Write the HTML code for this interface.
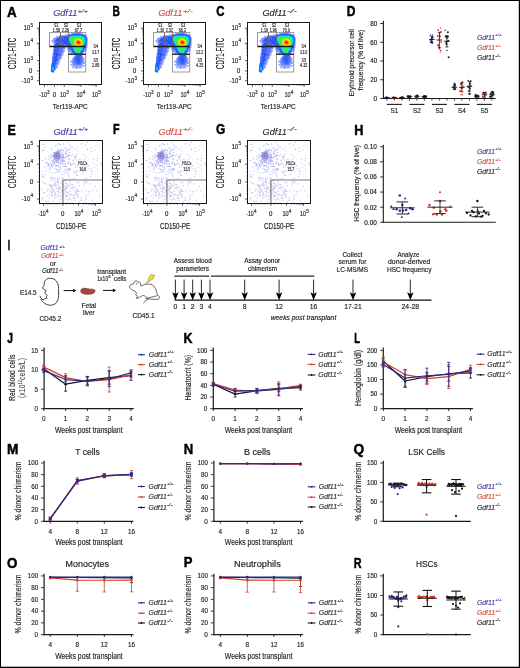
<!DOCTYPE html><html><head><meta charset="utf-8"><style>html,body{margin:0;padding:0;background:#fff;}svg{display:block;font-family:"Liberation Sans",sans-serif;will-change:transform;}</style></head><body><svg width="520" height="668" viewBox="0 0 520 668" font-family="Liberation Sans, sans-serif" fill="#222">
<rect x="0" y="0" width="520" height="668" fill="#fff"/>
<text x="7" y="16.6" font-size="13.9" font-weight="bold" fill="#000" stroke="#000" stroke-width="0.45" textLength="9.7" lengthAdjust="spacingAndGlyphs">A</text>
<text x="112.5" y="16.2" font-size="13.9" font-weight="bold" fill="#000" stroke="#000" stroke-width="0.45" textLength="7.4" lengthAdjust="spacingAndGlyphs">B</text>
<text x="216.2" y="15.9" font-size="13.9" font-weight="bold" fill="#000" stroke="#000" stroke-width="0.45" textLength="8.2" lengthAdjust="spacingAndGlyphs">C</text>
<text x="346.7" y="16.4" font-size="13.9" font-weight="bold" fill="#000" stroke="#000" stroke-width="0.45" textLength="8.7" lengthAdjust="spacingAndGlyphs">D</text>
<text x="7.4" y="135.2" font-size="13.9" font-weight="bold" fill="#000" stroke="#000" stroke-width="0.45" textLength="8.3" lengthAdjust="spacingAndGlyphs">E</text>
<text x="112.9" y="134" font-size="13.9" font-weight="bold" fill="#000" stroke="#000" stroke-width="0.45" textLength="6.6" lengthAdjust="spacingAndGlyphs">F</text>
<text x="215.9" y="134.2" font-size="13.9" font-weight="bold" fill="#000" stroke="#000" stroke-width="0.45" textLength="9.3" lengthAdjust="spacingAndGlyphs">G</text>
<text x="354.2" y="134.6" font-size="13.9" font-weight="bold" fill="#000" stroke="#000" stroke-width="0.45" textLength="9.2" lengthAdjust="spacingAndGlyphs">H</text>
<text x="7.8" y="250" font-size="13.9" font-weight="bold" fill="#000" stroke="#000" stroke-width="0.45" textLength="2.4" lengthAdjust="spacingAndGlyphs">I</text>
<text x="7.3" y="343.1" font-size="13.9" font-weight="bold" fill="#000" stroke="#000" stroke-width="0.45" textLength="5.7" lengthAdjust="spacingAndGlyphs">J</text>
<text x="183.5" y="343.1" font-size="13.9" font-weight="bold" fill="#000" stroke="#000" stroke-width="0.45" textLength="9.0" lengthAdjust="spacingAndGlyphs">K</text>
<text x="354.2" y="343.1" font-size="13.9" font-weight="bold" fill="#000" stroke="#000" stroke-width="0.45" textLength="5.7" lengthAdjust="spacingAndGlyphs">L</text>
<text x="6.9" y="454.4" font-size="13.9" font-weight="bold" fill="#000" stroke="#000" stroke-width="0.45" textLength="11.4" lengthAdjust="spacingAndGlyphs">M</text>
<text x="183.7" y="454.4" font-size="13.9" font-weight="bold" fill="#000" stroke="#000" stroke-width="0.45" textLength="9.5" lengthAdjust="spacingAndGlyphs">N</text>
<text x="353.5" y="453.6" font-size="13.9" font-weight="bold" fill="#000" stroke="#000" stroke-width="0.45" textLength="10.7" lengthAdjust="spacingAndGlyphs">Q</text>
<text x="6.9" y="567.7" font-size="13.9" font-weight="bold" fill="#000" stroke="#000" stroke-width="0.45" textLength="10.4" lengthAdjust="spacingAndGlyphs">O</text>
<text x="183.8" y="567.2" font-size="13.9" font-weight="bold" fill="#000" stroke="#000" stroke-width="0.45" textLength="8.7" lengthAdjust="spacingAndGlyphs">P</text>
<text x="353.8" y="567.7" font-size="13.9" font-weight="bold" fill="#000" stroke="#000" stroke-width="0.45" textLength="7.8" lengthAdjust="spacingAndGlyphs">R</text>
<g id="dA"><path fill="#9ba5ff" d="M76 32h1v1h-1zM78 32h1v1h-1zM69 34h1v1h-1zM63 35h1v1h-1zM58 36h1v1h-1zM53 38h1v1h-1zM87 39h1v1h-1zM66 46h1v1h-1zM65 47h1v1h-1zM70 51h1v1h-1zM83 52h1v1h-1zM74 56h1v1h-1zM72 59h1v1h-1zM57 62h1v1h-1zM83 62h1v1h-1zM51 63h1v1h-1zM84 63h1v1h-1zM71 64h1v1h-1zM73 65h1v1h-1zM76 65h2v1h-2zM82 65h1v1h-1zM77 66h1v1h-1zM75 67h2v1h-2zM55 68h1v1h-1z"/><path fill="#91a5ff" d="M77 32h1v1h-1zM72 33h1v1h-1zM78 33h1v1h-1zM56 37h1v1h-1zM86 44h1v1h-1zM63 48h1v1h-1zM68 49h1v1h-1zM53 50h1v1h-1zM63 52h1v1h-1zM81 54h1v1h-1zM83 58h1v1h-1zM58 61h1v1h-1zM58 63h1v1h-1zM74 65h2v1h-2zM75 66h1v1h-1zM79 67h1v1h-1z"/><path fill="#afb9ff" d="M79 32h1v1h-1zM65 34h1v1h-1zM67 34h1v1h-1zM59 35h3v1h-3zM86 35h1v1h-1zM55 37h1v1h-1zM87 37h1v1h-1zM51 40h1v1h-1zM87 40h1v1h-1zM53 42h1v1h-1zM87 42h1v1h-1zM87 45h1v1h-1zM65 46h1v1h-1zM67 48h1v1h-1zM86 48h1v1h-1zM67 49h1v1h-1zM85 49h2v1h-2zM64 50h1v1h-1zM85 50h1v1h-1zM64 51h1v1h-1zM85 51h1v1h-1zM69 52h2v1h-2zM52 54h1v1h-1zM72 54h1v1h-1zM61 57h1v1h-1zM83 57h1v1h-1zM61 58h1v1h-1zM60 59h1v1h-1zM59 60h1v1h-1zM72 60h1v1h-1zM59 62h1v1h-1zM70 62h2v1h-2zM84 62h1v1h-1zM72 64h1v1h-1zM71 65h1v1h-1zM84 65h1v1h-1zM57 66h1v1h-1zM73 66h1v1h-1zM79 66h1v1h-1zM81 66h1v1h-1zM83 66h1v1h-1zM57 67h1v1h-1zM72 67h3v1h-3zM82 67h1v1h-1zM73 68h1v1h-1zM75 68h1v1h-1zM77 68h1v1h-1zM79 68h1v1h-1zM53 72h1v1h-1z"/><path fill="#b9c3ff" d="M80 32h1v1h-1zM66 34h1v1h-1zM68 34h1v1h-1zM87 38h1v1h-1zM52 41h1v1h-1zM87 43h1v1h-1zM53 45h1v1h-1zM87 47h1v1h-1zM68 50h1v1h-1zM86 50h1v1h-1zM52 55h1v1h-1zM74 55h1v1h-1zM84 58h1v1h-1zM84 59h1v1h-1zM71 60h1v1h-1zM70 61h1v1h-1zM84 61h2v1h-2zM70 64h1v1h-1zM85 64h1v1h-1zM84 66h1v1h-1zM56 68h1v1h-1zM80 68h1v1h-1zM50 70h1v1h-1z"/><path fill="#a5afff" d="M71 33h1v1h-1zM81 33h1v1h-1zM84 34h1v1h-1zM56 36h1v1h-1zM53 39h1v1h-1zM52 40h1v1h-1zM87 41h1v1h-1zM52 42h1v1h-1zM53 43h2v1h-2zM87 44h1v1h-1zM53 47h1v1h-1zM67 47h1v1h-1zM86 47h1v1h-1zM53 48h1v1h-1zM64 48h2v1h-2zM64 49h1v1h-1zM74 54h1v1h-1zM62 55h1v1h-1zM82 55h1v1h-1zM52 56h1v1h-1zM61 56h1v1h-1zM60 57h1v1h-1zM73 58h1v1h-1zM71 61h1v1h-1zM83 61h1v1h-1zM82 63h1v1h-1zM58 64h1v1h-1zM72 66h1v1h-1zM74 66h1v1h-1zM78 66h1v1h-1zM76 68h1v1h-1z"/><path fill="#7d91ff" d="M73 33h1v1h-1zM80 33h1v1h-1zM70 34h1v1h-1zM85 35h1v1h-1zM58 37h1v1h-1zM54 38h1v1h-1zM55 39h1v1h-1zM54 41h1v1h-1zM63 46h2v1h-2zM85 48h1v1h-1zM60 50h1v1h-1zM62 50h1v1h-1zM63 51h1v1h-1zM61 52h1v1h-1zM71 52h1v1h-1zM61 54h1v1h-1zM75 54h1v1h-1zM82 57h1v1h-1zM60 58h1v1h-1zM59 59h1v1h-1zM73 59h1v1h-1zM82 60h1v1h-1zM72 61h1v1h-1zM74 61h1v1h-1zM51 64h1v1h-1zM78 64h1v1h-1zM81 64h1v1h-1zM81 65h1v1h-1zM55 66h1v1h-1zM76 66h1v1h-1zM54 70h1v1h-1z"/><path fill="#879bff" d="M74 33h1v1h-1zM86 36h1v1h-1zM53 41h1v1h-1zM85 47h1v1h-1zM63 49h1v1h-1zM63 50h1v1h-1zM69 50h1v1h-1zM53 51h1v1h-1zM69 51h1v1h-1zM84 51h1v1h-1zM62 52h1v1h-1zM62 53h1v1h-1zM72 53h2v1h-2zM73 54h1v1h-1zM61 55h1v1h-1zM58 59h1v1h-1zM58 62h1v1h-1zM72 63h2v1h-2zM83 63h1v1h-1zM79 65h2v1h-2zM80 66h1v1h-1zM55 69h1v1h-1zM52 72h1v1h-1z"/><path fill="#5f7dff" d="M75 33h2v1h-2zM68 35h1v1h-1zM59 36h1v1h-1zM54 42h1v1h-1zM59 51h1v1h-1zM61 51h1v1h-1zM53 52h1v1h-1zM61 53h1v1h-1zM81 55h1v1h-1zM57 57h1v1h-1zM57 58h1v1h-1zM74 59h1v1h-1zM73 60h1v1h-1zM52 61h1v1h-1zM82 61h1v1h-1zM82 62h1v1h-1zM74 64h1v1h-1z"/><path fill="#7387ff" d="M77 33h1v1h-1zM60 36h1v1h-1zM86 37h1v1h-1zM56 38h1v1h-1zM54 39h1v1h-1zM55 43h1v1h-1zM62 45h1v1h-1zM64 45h1v1h-1zM86 45h1v1h-1zM67 46h1v1h-1zM68 47h1v1h-1zM60 49h1v1h-1zM83 50h1v1h-1zM71 51h1v1h-1zM58 52h1v1h-1zM60 54h1v1h-1zM58 56h1v1h-1zM52 57h1v1h-1zM81 58h2v1h-2zM81 61h1v1h-1zM56 62h1v1h-1zM75 63h1v1h-1zM73 64h1v1h-1zM78 65h1v1h-1zM56 66h1v1h-1zM55 67h1v1h-1z"/><path fill="#5f73ff" d="M79 33h1v1h-1zM56 42h2v1h-2zM60 48h2v1h-2zM61 49h1v1h-1zM71 50h1v1h-1zM60 51h1v1h-1zM59 52h1v1h-1zM81 53h1v1h-1zM60 56h1v1h-1zM52 59h1v1h-1zM80 59h1v1h-1zM82 59h1v1h-1zM73 62h1v1h-1zM79 64h1v1h-1zM55 65h1v1h-1z"/><path fill="#9bafff" d="M82 33h1v1h-1zM64 35h1v1h-1zM53 40h1v1h-1zM62 54h1v1h-1zM83 59h1v1h-1zM59 61h1v1h-1zM72 62h1v1h-1zM57 64h1v1h-1zM82 64h1v1h-1zM57 65h1v1h-1zM83 65h1v1h-1zM78 67h1v1h-1z"/><path fill="#5573ff" d="M71 34h1v1h-1zM80 34h1v1h-1zM63 37h1v1h-1zM59 38h2v1h-2zM58 41h1v1h-1zM60 43h1v1h-1zM86 43h1v1h-1zM61 44h1v1h-1zM65 44h1v1h-1zM60 45h1v1h-1zM67 45h1v1h-1zM63 47h1v1h-1zM69 47h1v1h-1zM84 48h1v1h-1zM59 49h1v1h-1zM72 52h1v1h-1zM82 52h1v1h-1zM53 53h1v1h-1zM53 55h1v1h-1zM60 55h1v1h-1zM53 56h1v1h-1zM80 56h1v1h-1zM59 57h1v1h-1zM73 61h1v1h-1zM75 61h1v1h-1zM77 63h1v1h-1z"/><path fill="#375fff" d="M72 34h2v1h-2zM69 35h1v1h-1zM83 35h1v1h-1zM68 36h1v1h-1zM86 38h1v1h-1zM56 39h1v1h-1zM58 40h1v1h-1zM64 40h1v1h-1zM86 40h1v1h-1zM56 41h1v1h-1zM59 42h1v1h-1zM63 42h1v1h-1zM62 44h1v1h-1zM55 45h1v1h-1zM58 45h1v1h-1zM57 46h1v1h-1zM85 46h1v1h-1zM62 47h1v1h-1zM70 47h1v1h-1zM58 49h1v1h-1zM70 49h1v1h-1zM58 50h1v1h-1zM61 50h1v1h-1zM72 51h1v1h-1zM54 52h1v1h-1zM56 52h1v1h-1zM60 52h1v1h-1zM81 52h1v1h-1zM55 53h1v1h-1zM59 53h1v1h-1zM74 53h1v1h-1zM54 55h1v1h-1zM57 55h1v1h-1zM80 55h1v1h-1zM75 56h1v1h-1zM54 59h1v1h-1zM76 59h1v1h-1zM56 60h1v1h-1zM81 60h1v1h-1zM53 62h1v1h-1zM55 62h1v1h-1zM75 62h1v1h-1zM80 62h1v1h-1zM78 63h1v1h-1zM54 64h1v1h-1zM51 71h1v1h-1z"/><path fill="#415fff" d="M74 34h1v1h-1zM77 34h1v1h-1zM81 34h2v1h-2zM84 35h1v1h-1zM62 36h1v1h-1zM64 36h3v1h-3zM60 37h1v1h-1zM64 37h1v1h-1zM58 38h1v1h-1zM61 39h1v1h-1zM63 39h1v1h-1zM86 39h1v1h-1zM55 40h2v1h-2zM62 42h1v1h-1zM67 42h1v1h-1zM86 42h1v1h-1zM68 43h1v1h-1zM85 43h1v1h-1zM59 44h2v1h-2zM57 45h1v1h-1zM59 45h1v1h-1zM61 45h1v1h-1zM55 46h1v1h-1zM60 46h1v1h-1zM62 46h1v1h-1zM58 47h1v1h-1zM55 48h1v1h-1zM57 48h2v1h-2zM62 48h1v1h-1zM56 49h2v1h-2zM54 50h1v1h-1zM55 51h2v1h-2zM57 52h1v1h-1zM58 54h1v1h-1zM58 55h2v1h-2zM76 55h1v1h-1zM54 56h1v1h-1zM56 56h2v1h-2zM53 57h1v1h-1zM75 57h2v1h-2zM74 58h2v1h-2zM57 59h1v1h-1zM77 59h1v1h-1zM81 59h1v1h-1zM52 60h1v1h-1zM80 60h1v1h-1zM56 61h1v1h-1zM76 61h3v1h-3zM55 63h1v1h-1zM54 65h1v1h-1zM51 66h1v1h-1z"/><path fill="#2355ff" d="M75 34h1v1h-1zM78 34h1v1h-1zM57 39h1v1h-1zM66 39h1v1h-1zM57 40h1v1h-1zM67 40h1v1h-1zM57 41h1v1h-1zM65 41h1v1h-1zM58 42h1v1h-1zM64 42h1v1h-1zM58 43h1v1h-1zM66 43h2v1h-2zM57 44h1v1h-1zM66 44h1v1h-1zM68 44h1v1h-1zM69 45h1v1h-1zM59 46h1v1h-1zM54 51h1v1h-1zM82 51h1v1h-1zM57 53h1v1h-1zM56 57h1v1h-1zM55 58h2v1h-2zM56 59h1v1h-1zM55 60h1v1h-1zM79 61h1v1h-1zM53 63h1v1h-1zM53 65h1v1h-1zM54 68h1v1h-1z"/><path fill="#235fff" d="M76 34h1v1h-1zM57 43h1v1h-1zM84 47h1v1h-1zM79 58h1v1h-1zM52 64h1v1h-1z"/><path fill="#1955ff" d="M79 34h1v1h-1zM67 38h1v1h-1zM58 39h3v1h-3zM67 39h1v1h-1zM62 40h2v1h-2zM66 40h1v1h-1zM62 41h1v1h-1zM66 42h1v1h-1zM68 42h1v1h-1zM56 43h1v1h-1zM65 43h1v1h-1zM56 44h1v1h-1zM67 44h1v1h-1zM85 44h1v1h-1zM55 47h1v1h-1zM83 48h1v1h-1zM55 50h1v1h-1zM72 50h1v1h-1zM54 53h1v1h-1zM56 53h1v1h-1zM80 53h1v1h-1zM56 54h2v1h-2zM79 56h1v1h-1zM54 57h2v1h-2zM80 57h1v1h-1zM77 58h1v1h-1zM77 60h1v1h-1zM54 67h1v1h-1z"/><path fill="#7391ff" d="M83 34h1v1h-1zM83 60h1v1h-1z"/><path fill="#a5b9ff" d="M62 35h1v1h-1zM72 58h1v1h-1zM72 65h1v1h-1zM80 67h2v1h-2z"/><path fill="#919bff" d="M65 35h2v1h-2zM57 36h1v1h-1zM57 37h1v1h-1zM68 48h1v1h-1zM84 50h1v1h-1zM71 53h1v1h-1zM59 56h1v1h-1zM82 56h1v1h-1zM73 57h1v1h-1zM56 65h1v1h-1zM56 67h1v1h-1zM77 67h1v1h-1z"/><path fill="#697dff" d="M67 35h1v1h-1zM61 36h1v1h-1zM54 40h1v1h-1zM85 45h1v1h-1zM54 46h1v1h-1zM59 47h3v1h-3zM54 48h1v1h-1zM62 49h1v1h-1zM84 49h1v1h-1zM59 50h1v1h-1zM70 50h1v1h-1zM60 53h1v1h-1zM74 57h1v1h-1zM58 60h1v1h-1zM57 61h1v1h-1zM57 63h1v1h-1zM74 63h1v1h-1zM56 64h1v1h-1zM75 64h1v1h-1zM80 64h1v1h-1zM51 65h1v1h-1z"/><path fill="#2d5fff" d="M70 35h1v1h-1zM59 37h1v1h-1zM62 37h1v1h-1zM57 38h1v1h-1zM62 38h1v1h-1zM64 38h3v1h-3zM59 40h1v1h-1zM61 40h1v1h-1zM59 41h1v1h-1zM61 41h1v1h-1zM61 42h1v1h-1zM59 43h1v1h-1zM62 43h1v1h-1zM64 43h1v1h-1zM55 44h1v1h-1zM63 44h1v1h-1zM69 44h1v1h-1zM56 45h1v1h-1zM68 45h1v1h-1zM56 46h1v1h-1zM58 46h1v1h-1zM69 46h1v1h-1zM54 47h1v1h-1zM57 47h1v1h-1zM54 49h2v1h-2zM71 49h1v1h-1zM56 50h1v1h-1zM57 51h1v1h-1zM73 52h1v1h-1zM75 53h1v1h-1zM53 54h1v1h-1zM55 54h1v1h-1zM76 54h1v1h-1zM56 55h1v1h-1zM55 56h1v1h-1zM53 58h1v1h-1zM78 59h1v1h-1zM78 60h1v1h-1zM52 62h1v1h-1zM54 62h1v1h-1zM79 62h1v1h-1zM52 63h1v1h-1z"/><path fill="#0f69ff" d="M71 35h1v1h-1zM82 35h1v1h-1zM84 36h1v1h-1zM65 40h1v1h-1zM68 41h1v1h-1zM69 43h1v1h-1zM78 55h1v1h-1zM53 60h1v1h-1zM53 61h1v1h-1z"/><path fill="#0f7dff" d="M72 35h1v1h-1zM81 35h1v1h-1zM68 37h1v1h-1zM85 38h1v1h-1zM85 41h1v1h-1zM70 44h1v1h-1zM84 46h1v1h-1zM83 47h1v1h-1zM82 49h1v1h-1zM73 50h1v1h-1zM82 50h1v1h-1zM80 52h1v1h-1zM52 65h1v1h-1zM51 69h1v1h-1z"/><path fill="#0591ff" d="M73 35h1v1h-1zM80 35h1v1h-1zM68 38h1v1h-1zM68 39h1v1h-1zM85 39h1v1h-1zM84 44h1v1h-1zM78 54h1v1h-1z"/><path fill="#059bff" d="M74 35h1v1h-1zM79 35h1v1h-1zM74 51h1v1h-1zM75 52h1v1h-1zM79 53h1v1h-1zM53 70h1v1h-1z"/><path fill="#05a5ff" d="M75 35h4v1h-4zM83 36h1v1h-1zM69 41h1v1h-1zM70 43h1v1h-1zM71 45h1v1h-1zM83 46h1v1h-1zM72 47h1v1h-1zM82 48h1v1h-1zM73 49h1v1h-1zM81 50h1v1h-1zM77 53h1v1h-1z"/><path fill="#4b69ff" d="M63 36h1v1h-1zM67 36h1v1h-1zM85 36h1v1h-1zM61 37h1v1h-1zM63 38h1v1h-1zM55 41h1v1h-1zM63 41h1v1h-1zM55 42h1v1h-1zM60 42h1v1h-1zM61 43h1v1h-1zM63 43h1v1h-1zM64 44h1v1h-1zM66 45h1v1h-1zM56 47h1v1h-1zM56 48h1v1h-1zM59 48h1v1h-1zM70 48h1v1h-1zM83 49h1v1h-1zM57 50h1v1h-1zM58 51h1v1h-1zM58 53h1v1h-1zM54 54h1v1h-1zM59 54h1v1h-1zM80 54h1v1h-1zM55 55h1v1h-1zM81 56h1v1h-1zM81 57h1v1h-1zM58 58h1v1h-1zM80 58h1v1h-1zM53 59h1v1h-1zM75 59h1v1h-1zM54 60h1v1h-1zM57 60h1v1h-1zM74 60h2v1h-2zM74 62h1v1h-1zM77 62h2v1h-2zM56 63h1v1h-1zM76 63h1v1h-1zM80 63h1v1h-1zM55 64h1v1h-1z"/><path fill="#0587ff" d="M69 36h1v1h-1zM85 40h1v1h-1z"/><path fill="#05c3ff" d="M70 36h1v1h-1z"/><path fill="#05e1f5" d="M71 36h1v1h-1zM81 36h1v1h-1zM83 37h1v1h-1zM69 38h1v1h-1zM69 39h1v1h-1zM84 41h1v1h-1zM75 51h1v1h-1zM77 52h1v1h-1z"/><path fill="#05ebe1" d="M72 36h2v1h-2zM70 41h1v1h-1zM71 43h1v1h-1zM83 44h1v1h-1zM74 49h1v1h-1z"/><path fill="#0febcd" d="M74 36h1v1h-1zM82 46h1v1h-1zM81 48h1v1h-1z"/><path fill="#0febb9" d="M75 36h1v1h-1zM79 51h1v1h-1z"/><path fill="#19ebaf" d="M76 36h3v1h-3zM70 37h1v1h-1zM78 52h1v1h-1z"/><path fill="#0febc3" d="M79 36h1v1h-1z"/><path fill="#05ebd7" d="M80 36h1v1h-1zM72 45h1v1h-1zM73 47h1v1h-1z"/><path fill="#05cdf5" d="M82 36h1v1h-1zM69 40h1v1h-1zM70 42h1v1h-1zM84 42h1v1h-1zM71 44h1v1h-1zM83 45h1v1h-1zM72 46h1v1h-1zM82 47h1v1h-1zM73 48h1v1h-1zM78 53h1v1h-1z"/><path fill="#195fff" d="M65 37h3v1h-3zM85 37h1v1h-1zM61 38h1v1h-1zM64 39h2v1h-2zM64 41h1v1h-1zM66 41h1v1h-1zM65 42h1v1h-1zM85 42h1v1h-1zM58 44h1v1h-1zM70 45h1v1h-1zM72 49h1v1h-1zM73 51h1v1h-1zM55 52h1v1h-1zM74 52h1v1h-1zM77 55h1v1h-1zM79 55h1v1h-1zM77 56h2v1h-2zM77 57h2v1h-2zM54 58h1v1h-1zM78 58h1v1h-1zM55 59h1v1h-1zM76 60h1v1h-1zM79 60h1v1h-1zM55 61h1v1h-1zM54 63h1v1h-1zM51 67h1v1h-1zM51 70h1v1h-1zM52 71h2v1h-2z"/><path fill="#05c3f5" d="M69 37h1v1h-1zM74 50h1v1h-1zM80 51h1v1h-1zM76 52h1v1h-1z"/><path fill="#2deb69" d="M71 37h1v1h-1zM71 41h1v1h-1zM75 49h1v1h-1zM79 50h1v1h-1z"/><path fill="#37eb55" d="M72 37h3v1h-3zM80 37h1v1h-1zM71 40h1v1h-1zM83 41h1v1h-1zM73 45h1v1h-1z"/><path fill="#37eb4b" d="M75 37h1v1h-1zM71 38h1v1h-1zM75 48h1v1h-1zM79 49h1v1h-1zM77 50h2v1h-2z"/><path fill="#41eb41" d="M76 37h1v1h-1zM72 42h1v1h-1zM81 46h1v1h-1zM78 49h1v1h-1z"/><path fill="#41eb37" d="M77 37h2v1h-2zM72 38h2v1h-2zM72 39h1v1h-1zM72 41h1v1h-1zM74 46h1v1h-1zM76 48h1v1h-1zM79 48h1v1h-1zM77 49h1v1h-1z"/><path fill="#37eb41" d="M79 37h1v1h-1zM71 39h1v1h-1zM76 49h1v1h-1z"/><path fill="#2deb73" d="M81 37h1v1h-1zM70 39h1v1h-1zM83 39h1v1h-1zM82 45h1v1h-1zM78 51h1v1h-1z"/><path fill="#19eba5" d="M82 37h1v1h-1zM83 38h1v1h-1zM70 40h1v1h-1zM75 50h1v1h-1z"/><path fill="#05afff" d="M84 37h1v1h-1zM84 43h1v1h-1zM53 67h1v1h-1zM52 70h1v1h-1z"/><path fill="#8791ff" d="M55 38h1v1h-1zM54 45h1v1h-1zM68 46h1v1h-1zM86 46h1v1h-1zM53 49h1v1h-1zM69 49h1v1h-1zM82 53h1v1h-1zM75 55h1v1h-1zM52 58h1v1h-1zM59 58h1v1h-1zM81 63h1v1h-1z"/><path fill="#2deb7d" d="M70 38h1v1h-1zM77 51h1v1h-1z"/><path fill="#4beb37" d="M74 38h1v1h-1zM81 38h1v1h-1zM82 39h1v1h-1zM72 40h1v1h-1zM73 44h1v1h-1zM75 47h1v1h-1zM80 47h1v1h-1zM77 48h2v1h-2z"/><path fill="#5feb2d" d="M75 38h1v1h-1zM73 40h1v1h-1zM73 43h1v1h-1zM77 47h1v1h-1zM79 47h1v1h-1z"/><path fill="#73eb2d" d="M76 38h1v1h-1zM80 46h1v1h-1z"/><path fill="#87eb23" d="M77 38h1v1h-1zM79 38h1v1h-1zM74 40h1v1h-1zM82 41h1v1h-1zM74 44h1v1h-1zM76 46h1v1h-1z"/><path fill="#91eb23" d="M78 38h1v1h-1zM75 39h1v1h-1zM82 42h1v1h-1z"/><path fill="#69eb2d" d="M80 38h1v1h-1zM74 39h1v1h-1zM82 40h1v1h-1zM73 41h1v1h-1zM73 42h1v1h-1zM74 45h1v1h-1zM75 46h1v1h-1zM78 47h1v1h-1z"/><path fill="#2deb5f" d="M82 38h1v1h-1zM83 42h1v1h-1zM74 47h1v1h-1z"/><path fill="#05d7f5" d="M84 38h1v1h-1zM81 49h1v1h-1zM79 52h1v1h-1z"/><path fill="#1969ff" d="M62 39h1v1h-1zM60 41h1v1h-1zM67 41h1v1h-1zM71 47h1v1h-1zM76 53h1v1h-1zM54 61h1v1h-1zM53 64h1v1h-1z"/><path fill="#55eb37" d="M73 39h1v1h-1zM82 44h1v1h-1zM76 47h1v1h-1z"/><path fill="#c3eb0f" d="M76 39h1v1h-1z"/><path fill="#e1eb05" d="M77 39h1v1h-1zM79 39h1v1h-1zM79 45h1v1h-1z"/><path fill="#f5eb05" d="M78 39h1v1h-1zM75 41h1v1h-1zM81 42h1v1h-1zM75 43h1v1h-1zM78 45h1v1h-1z"/><path fill="#b9eb19" d="M80 39h1v1h-1zM74 42h1v1h-1z"/><path fill="#7deb23" d="M81 39h1v1h-1zM82 43h1v1h-1zM81 45h1v1h-1z"/><path fill="#05ebeb" d="M84 39h1v1h-1zM84 40h1v1h-1z"/><path fill="#4169ff" d="M60 40h1v1h-1zM63 45h1v1h-1zM65 45h1v1h-1zM61 46h1v1h-1zM76 62h1v1h-1zM79 63h1v1h-1zM54 69h1v1h-1z"/><path fill="#0f87ff" d="M68 40h1v1h-1zM69 42h1v1h-1zM71 46h1v1h-1zM72 48h1v1h-1zM52 66h1v1h-1z"/><path fill="#cdeb0f" d="M75 40h1v1h-1zM75 44h1v1h-1zM76 45h1v1h-1z"/><path fill="#f5d705" d="M76 40h1v1h-1zM75 42h1v1h-1z"/><path fill="#ff9b05" d="M77 40h1v1h-1zM80 41h1v1h-1zM78 44h1v1h-1z"/><path fill="#ff7d05" d="M78 40h1v1h-1zM80 42h1v1h-1z"/><path fill="#ffa505" d="M79 40h1v1h-1z"/><path fill="#f5e105" d="M80 40h1v1h-1zM76 44h1v1h-1zM80 44h1v1h-1z"/><path fill="#b9eb0f" d="M81 40h1v1h-1zM81 44h1v1h-1zM80 45h1v1h-1z"/><path fill="#37eb5f" d="M83 40h1v1h-1zM72 43h1v1h-1zM80 48h1v1h-1zM76 50h1v1h-1z"/><path fill="#a5eb19" d="M74 41h1v1h-1zM74 43h1v1h-1zM78 46h1v1h-1z"/><path fill="#ff8705" d="M76 41h1v1h-1z"/><path fill="#f53705" d="M77 41h2v1h-2zM77 42h1v1h-1zM79 42h1v1h-1zM78 43h1v1h-1z"/><path fill="#f54105" d="M79 41h1v1h-1zM77 43h1v1h-1z"/><path fill="#ebf505" d="M81 41h1v1h-1zM77 45h1v1h-1z"/><path fill="#6987ff" d="M86 41h1v1h-1zM64 47h1v1h-1zM62 51h1v1h-1zM80 61h1v1h-1zM81 62h1v1h-1zM76 64h1v1h-1z"/><path fill="#19eb9b" d="M71 42h1v1h-1zM76 51h1v1h-1z"/><path fill="#ff6905" d="M76 42h1v1h-1z"/><path fill="#f52d05" d="M78 42h1v1h-1z"/><path fill="#ff9105" d="M76 43h1v1h-1z"/><path fill="#f54b05" d="M79 43h1v1h-1z"/><path fill="#f5af05" d="M80 43h1v1h-1zM77 44h1v1h-1z"/><path fill="#ebeb05" d="M81 43h1v1h-1z"/><path fill="#23eb91" d="M83 43h1v1h-1zM72 44h1v1h-1zM73 46h1v1h-1z"/><path fill="#5569ff" d="M54 44h1v1h-1zM69 48h1v1h-1zM83 51h1v1h-1zM76 56h1v1h-1zM58 57h1v1h-1zM77 64h1v1h-1z"/><path fill="#f5b905" d="M79 44h1v1h-1z"/><path fill="#9beb19" d="M75 45h1v1h-1zM77 46h1v1h-1z"/><path fill="#0f73ff" d="M84 45h1v1h-1zM70 46h1v1h-1zM71 48h1v1h-1zM81 51h1v1h-1zM77 54h1v1h-1zM79 54h1v1h-1zM79 57h1v1h-1zM76 58h1v1h-1zM79 59h1v1h-1zM53 66h2v1h-2zM51 68h1v1h-1z"/><path fill="#9beb23" d="M79 46h1v1h-1z"/><path fill="#23eb7d" d="M81 47h1v1h-1z"/><path fill="#23eb9b" d="M74 48h1v1h-1z"/><path fill="#23eb87" d="M80 49h1v1h-1z"/><path fill="#0febd7" d="M80 50h1v1h-1z"/><path fill="#b9b9ff" d="M63 54h1v1h-1z"/><path fill="#05b9ff" d="M52 67h1v1h-1zM52 68h2v1h-2zM52 69h2v1h-2z"/></g>
<use href="#dA" x="104"/>
<use href="#dA" x="208"/>
<text x="53.2" y="16.4" font-size="9" fill="#4642a0" stroke="#4642a0" stroke-width="0.15" font-style="italic" textLength="24.2" lengthAdjust="spacingAndGlyphs">Gdf11</text>
<text x="77.7" y="12.7" font-size="6" fill="#4642a0" stroke="#4642a0" stroke-width="0.15" font-style="italic" textLength="10" lengthAdjust="spacingAndGlyphs">+/+</text>
<line x1="38.2" y1="38.72" x2="39.5" y2="38.72" stroke="#555" stroke-width="0.6"/>
<line x1="38.2" y1="36.05" x2="39.5" y2="36.05" stroke="#555" stroke-width="0.6"/>
<line x1="38.2" y1="34.15" x2="39.5" y2="34.15" stroke="#555" stroke-width="0.6"/>
<line x1="38.2" y1="32.68" x2="39.5" y2="32.68" stroke="#555" stroke-width="0.6"/>
<line x1="38.2" y1="31.47" x2="39.5" y2="31.47" stroke="#555" stroke-width="0.6"/>
<line x1="38.2" y1="30.45" x2="39.5" y2="30.45" stroke="#555" stroke-width="0.6"/>
<line x1="38.2" y1="29.57" x2="39.5" y2="29.57" stroke="#555" stroke-width="0.6"/>
<line x1="38.2" y1="28.8" x2="39.5" y2="28.8" stroke="#555" stroke-width="0.6"/>
<line x1="38.2" y1="55.46" x2="39.5" y2="55.46" stroke="#555" stroke-width="0.6"/>
<line x1="38.2" y1="52.4" x2="39.5" y2="52.4" stroke="#555" stroke-width="0.6"/>
<line x1="38.2" y1="50.22" x2="39.5" y2="50.22" stroke="#555" stroke-width="0.6"/>
<line x1="38.2" y1="48.54" x2="39.5" y2="48.54" stroke="#555" stroke-width="0.6"/>
<line x1="38.2" y1="47.16" x2="39.5" y2="47.16" stroke="#555" stroke-width="0.6"/>
<line x1="38.2" y1="46" x2="39.5" y2="46" stroke="#555" stroke-width="0.6"/>
<line x1="38.2" y1="44.99" x2="39.5" y2="44.99" stroke="#555" stroke-width="0.6"/>
<line x1="38.2" y1="44.1" x2="39.5" y2="44.1" stroke="#555" stroke-width="0.6"/>
<line x1="36.9" y1="28.1" x2="39.5" y2="28.1" stroke="#333" stroke-width="0.8"/>
<line x1="36.9" y1="43.3" x2="39.5" y2="43.3" stroke="#333" stroke-width="0.8"/>
<line x1="36.9" y1="60.7" x2="39.5" y2="60.7" stroke="#333" stroke-width="0.8"/>
<line x1="36.9" y1="70.9" x2="39.5" y2="70.9" stroke="#333" stroke-width="0.8"/>
<line x1="36.9" y1="80.8" x2="39.5" y2="80.8" stroke="#333" stroke-width="0.8"/>
<line x1="38.2" y1="64" x2="39.5" y2="64" stroke="#555" stroke-width="0.6"/>
<line x1="38.2" y1="67.5" x2="39.5" y2="67.5" stroke="#555" stroke-width="0.6"/>
<line x1="38.2" y1="74.2" x2="39.5" y2="74.2" stroke="#555" stroke-width="0.6"/>
<line x1="38.2" y1="77.5" x2="39.5" y2="77.5" stroke="#555" stroke-width="0.6"/>
<line x1="44.4" y1="84.5" x2="44.4" y2="86.9" stroke="#333" stroke-width="0.8"/>
<line x1="54.5" y1="84.5" x2="54.5" y2="86.9" stroke="#333" stroke-width="0.8"/>
<line x1="64.2" y1="84.5" x2="64.2" y2="86.9" stroke="#333" stroke-width="0.8"/>
<line x1="81" y1="84.5" x2="81" y2="86.9" stroke="#333" stroke-width="0.8"/>
<line x1="96.2" y1="84.5" x2="96.2" y2="86.9" stroke="#333" stroke-width="0.8"/>
<line x1="69.26" y1="84.5" x2="69.26" y2="85.8" stroke="#555" stroke-width="0.6"/>
<line x1="72.22" y1="84.5" x2="72.22" y2="85.8" stroke="#555" stroke-width="0.6"/>
<line x1="74.31" y1="84.5" x2="74.31" y2="85.8" stroke="#555" stroke-width="0.6"/>
<line x1="75.94" y1="84.5" x2="75.94" y2="85.8" stroke="#555" stroke-width="0.6"/>
<line x1="77.27" y1="84.5" x2="77.27" y2="85.8" stroke="#555" stroke-width="0.6"/>
<line x1="78.4" y1="84.5" x2="78.4" y2="85.8" stroke="#555" stroke-width="0.6"/>
<line x1="79.37" y1="84.5" x2="79.37" y2="85.8" stroke="#555" stroke-width="0.6"/>
<line x1="80.23" y1="84.5" x2="80.23" y2="85.8" stroke="#555" stroke-width="0.6"/>
<line x1="85.58" y1="84.5" x2="85.58" y2="85.8" stroke="#555" stroke-width="0.6"/>
<line x1="88.25" y1="84.5" x2="88.25" y2="85.8" stroke="#555" stroke-width="0.6"/>
<line x1="90.15" y1="84.5" x2="90.15" y2="85.8" stroke="#555" stroke-width="0.6"/>
<line x1="91.62" y1="84.5" x2="91.62" y2="85.8" stroke="#555" stroke-width="0.6"/>
<line x1="92.83" y1="84.5" x2="92.83" y2="85.8" stroke="#555" stroke-width="0.6"/>
<line x1="93.85" y1="84.5" x2="93.85" y2="85.8" stroke="#555" stroke-width="0.6"/>
<line x1="94.73" y1="84.5" x2="94.73" y2="85.8" stroke="#555" stroke-width="0.6"/>
<line x1="95.5" y1="84.5" x2="95.5" y2="85.8" stroke="#555" stroke-width="0.6"/>
<line x1="47.5" y1="84.5" x2="47.5" y2="85.8" stroke="#555" stroke-width="0.6"/>
<line x1="50.8" y1="84.5" x2="50.8" y2="85.8" stroke="#555" stroke-width="0.6"/>
<line x1="57.5" y1="84.5" x2="57.5" y2="85.8" stroke="#555" stroke-width="0.6"/>
<line x1="60.8" y1="84.5" x2="60.8" y2="85.8" stroke="#555" stroke-width="0.6"/>
<text x="30.2" y="30.2" font-size="6.4" text-anchor="end" fill="#1e1e1e" stroke="#1e1e1e" stroke-width="0.15" textLength="6.4" lengthAdjust="spacingAndGlyphs">10</text>
<text x="30.5" y="26.7" font-size="4.6" fill="#1e1e1e" stroke="#1e1e1e" stroke-width="0.15">5</text>
<text x="30.2" y="45.6" font-size="6.4" text-anchor="end" fill="#1e1e1e" stroke="#1e1e1e" stroke-width="0.15" textLength="6.4" lengthAdjust="spacingAndGlyphs">10</text>
<text x="30.5" y="42.1" font-size="4.6" fill="#1e1e1e" stroke="#1e1e1e" stroke-width="0.15">4</text>
<text x="30.2" y="63" font-size="6.4" text-anchor="end" fill="#1e1e1e" stroke="#1e1e1e" stroke-width="0.15" textLength="6.4" lengthAdjust="spacingAndGlyphs">10</text>
<text x="30.5" y="59.5" font-size="4.6" fill="#1e1e1e" stroke="#1e1e1e" stroke-width="0.15">3</text>
<text x="30.2" y="83.1" font-size="6.4" text-anchor="end" fill="#1e1e1e" stroke="#1e1e1e" stroke-width="0.15" textLength="8.6" lengthAdjust="spacingAndGlyphs">-10</text>
<text x="30.5" y="79.6" font-size="4.6" fill="#1e1e1e" stroke="#1e1e1e" stroke-width="0.15">3</text>
<text x="32.2" y="73.2" font-size="6.4" text-anchor="end" fill="#1e1e1e" stroke="#1e1e1e" stroke-width="0.15">0</text>
<text x="39.3" y="97.1" font-size="6.4" fill="#1e1e1e" stroke="#1e1e1e" stroke-width="0.15" textLength="7.6" lengthAdjust="spacingAndGlyphs">-10</text>
<text x="47.1" y="94" font-size="4.6" fill="#1e1e1e" stroke="#1e1e1e" stroke-width="0.15">3</text>
<text x="52.8" y="97.1" font-size="6.4" fill="#1e1e1e" stroke="#1e1e1e" stroke-width="0.15" textLength="3.4" lengthAdjust="spacingAndGlyphs">0</text>
<text x="60" y="97.1" font-size="6.4" fill="#1e1e1e" stroke="#1e1e1e" stroke-width="0.15" textLength="6.2" lengthAdjust="spacingAndGlyphs">10</text>
<text x="66.3" y="94" font-size="4.6" fill="#1e1e1e" stroke="#1e1e1e" stroke-width="0.15">3</text>
<text x="76.4" y="97.1" font-size="6.4" fill="#1e1e1e" stroke="#1e1e1e" stroke-width="0.15" textLength="6.2" lengthAdjust="spacingAndGlyphs">10</text>
<text x="82.7" y="94" font-size="4.6" fill="#1e1e1e" stroke="#1e1e1e" stroke-width="0.15">4</text>
<text x="91.9" y="97.1" font-size="6.4" fill="#1e1e1e" stroke="#1e1e1e" stroke-width="0.15" textLength="6.2" lengthAdjust="spacingAndGlyphs">10</text>
<text x="98.2" y="94" font-size="4.6" fill="#1e1e1e" stroke="#1e1e1e" stroke-width="0.15">5</text>
<text x="52.8" y="108.9" font-size="7.8" fill="#1a1a1a" stroke="#1a1a1a" stroke-width="0.15" textLength="35" lengthAdjust="spacingAndGlyphs">Ter119-APC</text>
<text x="16.4" y="69" font-size="10" fill="#1a1a1a" stroke="#1a1a1a" stroke-width="0.15" textLength="31.1" lengthAdjust="spacingAndGlyphs" transform="rotate(-90 16.4 69)">CD71-FITC</text>
<rect x="49.6" y="32.7" width="10.8" height="13.6" fill="none" stroke="#6a6a6a" stroke-width="0.65"/>
<rect x="60.4" y="32.7" width="8" height="13.6" fill="none" stroke="#6a6a6a" stroke-width="0.65"/>
<rect x="68.4" y="32.7" width="17.4" height="13.9" fill="none" stroke="#6a6a6a" stroke-width="0.65"/>
<rect x="68.4" y="46.6" width="17.4" height="7.6" fill="none" stroke="#6a6a6a" stroke-width="0.65"/>
<rect x="68.4" y="54.2" width="17.4" height="17.8" fill="none" stroke="#6a6a6a" stroke-width="0.65"/>
<line x1="49.6" y1="46.5" x2="85.8" y2="46.5" stroke="#1a1a1a" stroke-width="1.3"/>
<line x1="68.4" y1="54.2" x2="85.8" y2="54.2" stroke="#1a1a1a" stroke-width="1.1"/>
<text x="56.2" y="26.9" font-size="4.6" text-anchor="middle" fill="#1e1e1e" stroke="#1e1e1e" stroke-width="0.15" textLength="4.4" lengthAdjust="spacingAndGlyphs">S1</text>
<text x="56.4" y="31.5" font-size="4.6" text-anchor="middle" fill="#1e1e1e" stroke="#1e1e1e" stroke-width="0.15" textLength="7.2" lengthAdjust="spacingAndGlyphs">1.58</text>
<text x="65.9" y="26.9" font-size="4.6" text-anchor="middle" fill="#1e1e1e" stroke="#1e1e1e" stroke-width="0.15" textLength="4.4" lengthAdjust="spacingAndGlyphs">S2</text>
<text x="65.3" y="31.5" font-size="4.6" text-anchor="middle" fill="#1e1e1e" stroke="#1e1e1e" stroke-width="0.15" textLength="7.2" lengthAdjust="spacingAndGlyphs">2.28</text>
<text x="79" y="26.9" font-size="4.6" text-anchor="middle" fill="#1e1e1e" stroke="#1e1e1e" stroke-width="0.15" textLength="4.4" lengthAdjust="spacingAndGlyphs">S3</text>
<text x="78.4" y="31.5" font-size="4.6" text-anchor="middle" fill="#1e1e1e" stroke="#1e1e1e" stroke-width="0.15" textLength="7.2" lengthAdjust="spacingAndGlyphs">67.7</text>
<text x="95.7" y="48.4" font-size="4.6" text-anchor="middle" fill="#1e1e1e" stroke="#1e1e1e" stroke-width="0.15" textLength="4.4" lengthAdjust="spacingAndGlyphs">S4</text>
<text x="95.7" y="53.6" font-size="4.6" text-anchor="middle" fill="#1e1e1e" stroke="#1e1e1e" stroke-width="0.15" textLength="7.2" lengthAdjust="spacingAndGlyphs">13.7</text>
<text x="95.7" y="61.5" font-size="4.6" text-anchor="middle" fill="#1e1e1e" stroke="#1e1e1e" stroke-width="0.15" textLength="4.4" lengthAdjust="spacingAndGlyphs">S5</text>
<text x="95.7" y="66.6" font-size="4.6" text-anchor="middle" fill="#1e1e1e" stroke="#1e1e1e" stroke-width="0.15" textLength="7.2" lengthAdjust="spacingAndGlyphs">2.89</text>
<rect x="39.5" y="22.5" width="62" height="62" fill="none" stroke="#1a1a1a" stroke-width="1"/>
<text x="158.2" y="16.4" font-size="9" fill="#d65243" stroke="#d65243" stroke-width="0.15" font-style="italic" textLength="24.2" lengthAdjust="spacingAndGlyphs">Gdf11</text>
<text x="182.7" y="12.7" font-size="6" fill="#d65243" stroke="#d65243" stroke-width="0.15" font-style="italic" textLength="10" lengthAdjust="spacingAndGlyphs">+/-</text>
<line x1="142.2" y1="38.72" x2="143.5" y2="38.72" stroke="#555" stroke-width="0.6"/>
<line x1="142.2" y1="36.05" x2="143.5" y2="36.05" stroke="#555" stroke-width="0.6"/>
<line x1="142.2" y1="34.15" x2="143.5" y2="34.15" stroke="#555" stroke-width="0.6"/>
<line x1="142.2" y1="32.68" x2="143.5" y2="32.68" stroke="#555" stroke-width="0.6"/>
<line x1="142.2" y1="31.47" x2="143.5" y2="31.47" stroke="#555" stroke-width="0.6"/>
<line x1="142.2" y1="30.45" x2="143.5" y2="30.45" stroke="#555" stroke-width="0.6"/>
<line x1="142.2" y1="29.57" x2="143.5" y2="29.57" stroke="#555" stroke-width="0.6"/>
<line x1="142.2" y1="28.8" x2="143.5" y2="28.8" stroke="#555" stroke-width="0.6"/>
<line x1="142.2" y1="55.46" x2="143.5" y2="55.46" stroke="#555" stroke-width="0.6"/>
<line x1="142.2" y1="52.4" x2="143.5" y2="52.4" stroke="#555" stroke-width="0.6"/>
<line x1="142.2" y1="50.22" x2="143.5" y2="50.22" stroke="#555" stroke-width="0.6"/>
<line x1="142.2" y1="48.54" x2="143.5" y2="48.54" stroke="#555" stroke-width="0.6"/>
<line x1="142.2" y1="47.16" x2="143.5" y2="47.16" stroke="#555" stroke-width="0.6"/>
<line x1="142.2" y1="46" x2="143.5" y2="46" stroke="#555" stroke-width="0.6"/>
<line x1="142.2" y1="44.99" x2="143.5" y2="44.99" stroke="#555" stroke-width="0.6"/>
<line x1="142.2" y1="44.1" x2="143.5" y2="44.1" stroke="#555" stroke-width="0.6"/>
<line x1="140.9" y1="28.1" x2="143.5" y2="28.1" stroke="#333" stroke-width="0.8"/>
<line x1="140.9" y1="43.3" x2="143.5" y2="43.3" stroke="#333" stroke-width="0.8"/>
<line x1="140.9" y1="60.7" x2="143.5" y2="60.7" stroke="#333" stroke-width="0.8"/>
<line x1="140.9" y1="70.9" x2="143.5" y2="70.9" stroke="#333" stroke-width="0.8"/>
<line x1="140.9" y1="80.8" x2="143.5" y2="80.8" stroke="#333" stroke-width="0.8"/>
<line x1="142.2" y1="64" x2="143.5" y2="64" stroke="#555" stroke-width="0.6"/>
<line x1="142.2" y1="67.5" x2="143.5" y2="67.5" stroke="#555" stroke-width="0.6"/>
<line x1="142.2" y1="74.2" x2="143.5" y2="74.2" stroke="#555" stroke-width="0.6"/>
<line x1="142.2" y1="77.5" x2="143.5" y2="77.5" stroke="#555" stroke-width="0.6"/>
<line x1="148.4" y1="84.5" x2="148.4" y2="86.9" stroke="#333" stroke-width="0.8"/>
<line x1="158.5" y1="84.5" x2="158.5" y2="86.9" stroke="#333" stroke-width="0.8"/>
<line x1="168.2" y1="84.5" x2="168.2" y2="86.9" stroke="#333" stroke-width="0.8"/>
<line x1="185" y1="84.5" x2="185" y2="86.9" stroke="#333" stroke-width="0.8"/>
<line x1="200.2" y1="84.5" x2="200.2" y2="86.9" stroke="#333" stroke-width="0.8"/>
<line x1="173.26" y1="84.5" x2="173.26" y2="85.8" stroke="#555" stroke-width="0.6"/>
<line x1="176.22" y1="84.5" x2="176.22" y2="85.8" stroke="#555" stroke-width="0.6"/>
<line x1="178.31" y1="84.5" x2="178.31" y2="85.8" stroke="#555" stroke-width="0.6"/>
<line x1="179.94" y1="84.5" x2="179.94" y2="85.8" stroke="#555" stroke-width="0.6"/>
<line x1="181.27" y1="84.5" x2="181.27" y2="85.8" stroke="#555" stroke-width="0.6"/>
<line x1="182.4" y1="84.5" x2="182.4" y2="85.8" stroke="#555" stroke-width="0.6"/>
<line x1="183.37" y1="84.5" x2="183.37" y2="85.8" stroke="#555" stroke-width="0.6"/>
<line x1="184.23" y1="84.5" x2="184.23" y2="85.8" stroke="#555" stroke-width="0.6"/>
<line x1="189.58" y1="84.5" x2="189.58" y2="85.8" stroke="#555" stroke-width="0.6"/>
<line x1="192.25" y1="84.5" x2="192.25" y2="85.8" stroke="#555" stroke-width="0.6"/>
<line x1="194.15" y1="84.5" x2="194.15" y2="85.8" stroke="#555" stroke-width="0.6"/>
<line x1="195.62" y1="84.5" x2="195.62" y2="85.8" stroke="#555" stroke-width="0.6"/>
<line x1="196.83" y1="84.5" x2="196.83" y2="85.8" stroke="#555" stroke-width="0.6"/>
<line x1="197.85" y1="84.5" x2="197.85" y2="85.8" stroke="#555" stroke-width="0.6"/>
<line x1="198.73" y1="84.5" x2="198.73" y2="85.8" stroke="#555" stroke-width="0.6"/>
<line x1="199.5" y1="84.5" x2="199.5" y2="85.8" stroke="#555" stroke-width="0.6"/>
<line x1="151.5" y1="84.5" x2="151.5" y2="85.8" stroke="#555" stroke-width="0.6"/>
<line x1="154.8" y1="84.5" x2="154.8" y2="85.8" stroke="#555" stroke-width="0.6"/>
<line x1="161.5" y1="84.5" x2="161.5" y2="85.8" stroke="#555" stroke-width="0.6"/>
<line x1="164.8" y1="84.5" x2="164.8" y2="85.8" stroke="#555" stroke-width="0.6"/>
<text x="134.2" y="30.2" font-size="6.4" text-anchor="end" fill="#1e1e1e" stroke="#1e1e1e" stroke-width="0.15" textLength="6.4" lengthAdjust="spacingAndGlyphs">10</text>
<text x="134.5" y="26.7" font-size="4.6" fill="#1e1e1e" stroke="#1e1e1e" stroke-width="0.15">5</text>
<text x="134.2" y="45.6" font-size="6.4" text-anchor="end" fill="#1e1e1e" stroke="#1e1e1e" stroke-width="0.15" textLength="6.4" lengthAdjust="spacingAndGlyphs">10</text>
<text x="134.5" y="42.1" font-size="4.6" fill="#1e1e1e" stroke="#1e1e1e" stroke-width="0.15">4</text>
<text x="134.2" y="63" font-size="6.4" text-anchor="end" fill="#1e1e1e" stroke="#1e1e1e" stroke-width="0.15" textLength="6.4" lengthAdjust="spacingAndGlyphs">10</text>
<text x="134.5" y="59.5" font-size="4.6" fill="#1e1e1e" stroke="#1e1e1e" stroke-width="0.15">3</text>
<text x="134.2" y="83.1" font-size="6.4" text-anchor="end" fill="#1e1e1e" stroke="#1e1e1e" stroke-width="0.15" textLength="8.6" lengthAdjust="spacingAndGlyphs">-10</text>
<text x="134.5" y="79.6" font-size="4.6" fill="#1e1e1e" stroke="#1e1e1e" stroke-width="0.15">3</text>
<text x="136.2" y="73.2" font-size="6.4" text-anchor="end" fill="#1e1e1e" stroke="#1e1e1e" stroke-width="0.15">0</text>
<text x="143.3" y="97.1" font-size="6.4" fill="#1e1e1e" stroke="#1e1e1e" stroke-width="0.15" textLength="7.6" lengthAdjust="spacingAndGlyphs">-10</text>
<text x="151.1" y="94" font-size="4.6" fill="#1e1e1e" stroke="#1e1e1e" stroke-width="0.15">3</text>
<text x="156.8" y="97.1" font-size="6.4" fill="#1e1e1e" stroke="#1e1e1e" stroke-width="0.15" textLength="3.4" lengthAdjust="spacingAndGlyphs">0</text>
<text x="164" y="97.1" font-size="6.4" fill="#1e1e1e" stroke="#1e1e1e" stroke-width="0.15" textLength="6.2" lengthAdjust="spacingAndGlyphs">10</text>
<text x="170.3" y="94" font-size="4.6" fill="#1e1e1e" stroke="#1e1e1e" stroke-width="0.15">3</text>
<text x="180.4" y="97.1" font-size="6.4" fill="#1e1e1e" stroke="#1e1e1e" stroke-width="0.15" textLength="6.2" lengthAdjust="spacingAndGlyphs">10</text>
<text x="186.7" y="94" font-size="4.6" fill="#1e1e1e" stroke="#1e1e1e" stroke-width="0.15">4</text>
<text x="195.9" y="97.1" font-size="6.4" fill="#1e1e1e" stroke="#1e1e1e" stroke-width="0.15" textLength="6.2" lengthAdjust="spacingAndGlyphs">10</text>
<text x="202.2" y="94" font-size="4.6" fill="#1e1e1e" stroke="#1e1e1e" stroke-width="0.15">5</text>
<text x="156.8" y="108.9" font-size="7.8" fill="#1a1a1a" stroke="#1a1a1a" stroke-width="0.15" textLength="35" lengthAdjust="spacingAndGlyphs">Ter119-APC</text>
<text x="120.4" y="69" font-size="10" fill="#1a1a1a" stroke="#1a1a1a" stroke-width="0.15" textLength="31.1" lengthAdjust="spacingAndGlyphs" transform="rotate(-90 120.4 69)">CD71-FITC</text>
<rect x="153.6" y="32.7" width="10.8" height="13.6" fill="none" stroke="#6a6a6a" stroke-width="0.65"/>
<rect x="164.4" y="32.7" width="8" height="13.6" fill="none" stroke="#6a6a6a" stroke-width="0.65"/>
<rect x="172.4" y="32.7" width="17.4" height="13.9" fill="none" stroke="#6a6a6a" stroke-width="0.65"/>
<rect x="172.4" y="46.6" width="17.4" height="7.6" fill="none" stroke="#6a6a6a" stroke-width="0.65"/>
<rect x="172.4" y="54.2" width="17.4" height="17.8" fill="none" stroke="#6a6a6a" stroke-width="0.65"/>
<line x1="153.6" y1="46.5" x2="189.8" y2="46.5" stroke="#1a1a1a" stroke-width="1.3"/>
<line x1="172.4" y1="54.2" x2="189.8" y2="54.2" stroke="#1a1a1a" stroke-width="1.1"/>
<text x="160.2" y="26.9" font-size="4.6" text-anchor="middle" fill="#1e1e1e" stroke="#1e1e1e" stroke-width="0.15" textLength="4.4" lengthAdjust="spacingAndGlyphs">S1</text>
<text x="160.4" y="31.5" font-size="4.6" text-anchor="middle" fill="#1e1e1e" stroke="#1e1e1e" stroke-width="0.15" textLength="7.2" lengthAdjust="spacingAndGlyphs">1.30</text>
<text x="169.9" y="26.9" font-size="4.6" text-anchor="middle" fill="#1e1e1e" stroke="#1e1e1e" stroke-width="0.15" textLength="4.4" lengthAdjust="spacingAndGlyphs">S2</text>
<text x="169.3" y="31.5" font-size="4.6" text-anchor="middle" fill="#1e1e1e" stroke="#1e1e1e" stroke-width="0.15" textLength="7.2" lengthAdjust="spacingAndGlyphs">2.32</text>
<text x="183" y="26.9" font-size="4.6" text-anchor="middle" fill="#1e1e1e" stroke="#1e1e1e" stroke-width="0.15" textLength="4.4" lengthAdjust="spacingAndGlyphs">S3</text>
<text x="182.4" y="31.5" font-size="4.6" text-anchor="middle" fill="#1e1e1e" stroke="#1e1e1e" stroke-width="0.15" textLength="7.2" lengthAdjust="spacingAndGlyphs">68.2</text>
<text x="199.7" y="48.4" font-size="4.6" text-anchor="middle" fill="#1e1e1e" stroke="#1e1e1e" stroke-width="0.15" textLength="4.4" lengthAdjust="spacingAndGlyphs">S4</text>
<text x="199.7" y="53.6" font-size="4.6" text-anchor="middle" fill="#1e1e1e" stroke="#1e1e1e" stroke-width="0.15" textLength="7.2" lengthAdjust="spacingAndGlyphs">12.2</text>
<text x="199.7" y="61.5" font-size="4.6" text-anchor="middle" fill="#1e1e1e" stroke="#1e1e1e" stroke-width="0.15" textLength="4.4" lengthAdjust="spacingAndGlyphs">S5</text>
<text x="199.7" y="66.6" font-size="4.6" text-anchor="middle" fill="#1e1e1e" stroke="#1e1e1e" stroke-width="0.15" textLength="7.2" lengthAdjust="spacingAndGlyphs">4.25</text>
<rect x="143.5" y="22.5" width="62" height="62" fill="none" stroke="#1a1a1a" stroke-width="1"/>
<text x="262.5" y="16.4" font-size="9" fill="#2a2a2a" stroke="#2a2a2a" stroke-width="0.15" font-style="italic" textLength="24.2" lengthAdjust="spacingAndGlyphs">Gdf11</text>
<text x="287" y="12.7" font-size="6" fill="#2a2a2a" stroke="#2a2a2a" stroke-width="0.15" font-style="italic" textLength="10" lengthAdjust="spacingAndGlyphs">-/-</text>
<line x1="246.2" y1="38.72" x2="247.5" y2="38.72" stroke="#555" stroke-width="0.6"/>
<line x1="246.2" y1="36.05" x2="247.5" y2="36.05" stroke="#555" stroke-width="0.6"/>
<line x1="246.2" y1="34.15" x2="247.5" y2="34.15" stroke="#555" stroke-width="0.6"/>
<line x1="246.2" y1="32.68" x2="247.5" y2="32.68" stroke="#555" stroke-width="0.6"/>
<line x1="246.2" y1="31.47" x2="247.5" y2="31.47" stroke="#555" stroke-width="0.6"/>
<line x1="246.2" y1="30.45" x2="247.5" y2="30.45" stroke="#555" stroke-width="0.6"/>
<line x1="246.2" y1="29.57" x2="247.5" y2="29.57" stroke="#555" stroke-width="0.6"/>
<line x1="246.2" y1="28.8" x2="247.5" y2="28.8" stroke="#555" stroke-width="0.6"/>
<line x1="246.2" y1="55.46" x2="247.5" y2="55.46" stroke="#555" stroke-width="0.6"/>
<line x1="246.2" y1="52.4" x2="247.5" y2="52.4" stroke="#555" stroke-width="0.6"/>
<line x1="246.2" y1="50.22" x2="247.5" y2="50.22" stroke="#555" stroke-width="0.6"/>
<line x1="246.2" y1="48.54" x2="247.5" y2="48.54" stroke="#555" stroke-width="0.6"/>
<line x1="246.2" y1="47.16" x2="247.5" y2="47.16" stroke="#555" stroke-width="0.6"/>
<line x1="246.2" y1="46" x2="247.5" y2="46" stroke="#555" stroke-width="0.6"/>
<line x1="246.2" y1="44.99" x2="247.5" y2="44.99" stroke="#555" stroke-width="0.6"/>
<line x1="246.2" y1="44.1" x2="247.5" y2="44.1" stroke="#555" stroke-width="0.6"/>
<line x1="244.9" y1="28.1" x2="247.5" y2="28.1" stroke="#333" stroke-width="0.8"/>
<line x1="244.9" y1="43.3" x2="247.5" y2="43.3" stroke="#333" stroke-width="0.8"/>
<line x1="244.9" y1="60.7" x2="247.5" y2="60.7" stroke="#333" stroke-width="0.8"/>
<line x1="244.9" y1="70.9" x2="247.5" y2="70.9" stroke="#333" stroke-width="0.8"/>
<line x1="244.9" y1="80.8" x2="247.5" y2="80.8" stroke="#333" stroke-width="0.8"/>
<line x1="246.2" y1="64" x2="247.5" y2="64" stroke="#555" stroke-width="0.6"/>
<line x1="246.2" y1="67.5" x2="247.5" y2="67.5" stroke="#555" stroke-width="0.6"/>
<line x1="246.2" y1="74.2" x2="247.5" y2="74.2" stroke="#555" stroke-width="0.6"/>
<line x1="246.2" y1="77.5" x2="247.5" y2="77.5" stroke="#555" stroke-width="0.6"/>
<line x1="252.4" y1="84.5" x2="252.4" y2="86.9" stroke="#333" stroke-width="0.8"/>
<line x1="262.5" y1="84.5" x2="262.5" y2="86.9" stroke="#333" stroke-width="0.8"/>
<line x1="272.2" y1="84.5" x2="272.2" y2="86.9" stroke="#333" stroke-width="0.8"/>
<line x1="289" y1="84.5" x2="289" y2="86.9" stroke="#333" stroke-width="0.8"/>
<line x1="304.2" y1="84.5" x2="304.2" y2="86.9" stroke="#333" stroke-width="0.8"/>
<line x1="277.26" y1="84.5" x2="277.26" y2="85.8" stroke="#555" stroke-width="0.6"/>
<line x1="280.22" y1="84.5" x2="280.22" y2="85.8" stroke="#555" stroke-width="0.6"/>
<line x1="282.31" y1="84.5" x2="282.31" y2="85.8" stroke="#555" stroke-width="0.6"/>
<line x1="283.94" y1="84.5" x2="283.94" y2="85.8" stroke="#555" stroke-width="0.6"/>
<line x1="285.27" y1="84.5" x2="285.27" y2="85.8" stroke="#555" stroke-width="0.6"/>
<line x1="286.4" y1="84.5" x2="286.4" y2="85.8" stroke="#555" stroke-width="0.6"/>
<line x1="287.37" y1="84.5" x2="287.37" y2="85.8" stroke="#555" stroke-width="0.6"/>
<line x1="288.23" y1="84.5" x2="288.23" y2="85.8" stroke="#555" stroke-width="0.6"/>
<line x1="293.58" y1="84.5" x2="293.58" y2="85.8" stroke="#555" stroke-width="0.6"/>
<line x1="296.25" y1="84.5" x2="296.25" y2="85.8" stroke="#555" stroke-width="0.6"/>
<line x1="298.15" y1="84.5" x2="298.15" y2="85.8" stroke="#555" stroke-width="0.6"/>
<line x1="299.62" y1="84.5" x2="299.62" y2="85.8" stroke="#555" stroke-width="0.6"/>
<line x1="300.83" y1="84.5" x2="300.83" y2="85.8" stroke="#555" stroke-width="0.6"/>
<line x1="301.85" y1="84.5" x2="301.85" y2="85.8" stroke="#555" stroke-width="0.6"/>
<line x1="302.73" y1="84.5" x2="302.73" y2="85.8" stroke="#555" stroke-width="0.6"/>
<line x1="303.5" y1="84.5" x2="303.5" y2="85.8" stroke="#555" stroke-width="0.6"/>
<line x1="255.5" y1="84.5" x2="255.5" y2="85.8" stroke="#555" stroke-width="0.6"/>
<line x1="258.8" y1="84.5" x2="258.8" y2="85.8" stroke="#555" stroke-width="0.6"/>
<line x1="265.5" y1="84.5" x2="265.5" y2="85.8" stroke="#555" stroke-width="0.6"/>
<line x1="268.8" y1="84.5" x2="268.8" y2="85.8" stroke="#555" stroke-width="0.6"/>
<text x="238.2" y="30.2" font-size="6.4" text-anchor="end" fill="#1e1e1e" stroke="#1e1e1e" stroke-width="0.15" textLength="6.4" lengthAdjust="spacingAndGlyphs">10</text>
<text x="238.5" y="26.7" font-size="4.6" fill="#1e1e1e" stroke="#1e1e1e" stroke-width="0.15">5</text>
<text x="238.2" y="45.6" font-size="6.4" text-anchor="end" fill="#1e1e1e" stroke="#1e1e1e" stroke-width="0.15" textLength="6.4" lengthAdjust="spacingAndGlyphs">10</text>
<text x="238.5" y="42.1" font-size="4.6" fill="#1e1e1e" stroke="#1e1e1e" stroke-width="0.15">4</text>
<text x="238.2" y="63" font-size="6.4" text-anchor="end" fill="#1e1e1e" stroke="#1e1e1e" stroke-width="0.15" textLength="6.4" lengthAdjust="spacingAndGlyphs">10</text>
<text x="238.5" y="59.5" font-size="4.6" fill="#1e1e1e" stroke="#1e1e1e" stroke-width="0.15">3</text>
<text x="238.2" y="83.1" font-size="6.4" text-anchor="end" fill="#1e1e1e" stroke="#1e1e1e" stroke-width="0.15" textLength="8.6" lengthAdjust="spacingAndGlyphs">-10</text>
<text x="238.5" y="79.6" font-size="4.6" fill="#1e1e1e" stroke="#1e1e1e" stroke-width="0.15">3</text>
<text x="240.2" y="73.2" font-size="6.4" text-anchor="end" fill="#1e1e1e" stroke="#1e1e1e" stroke-width="0.15">0</text>
<text x="247.3" y="97.1" font-size="6.4" fill="#1e1e1e" stroke="#1e1e1e" stroke-width="0.15" textLength="7.6" lengthAdjust="spacingAndGlyphs">-10</text>
<text x="255.1" y="94" font-size="4.6" fill="#1e1e1e" stroke="#1e1e1e" stroke-width="0.15">3</text>
<text x="260.8" y="97.1" font-size="6.4" fill="#1e1e1e" stroke="#1e1e1e" stroke-width="0.15" textLength="3.4" lengthAdjust="spacingAndGlyphs">0</text>
<text x="268" y="97.1" font-size="6.4" fill="#1e1e1e" stroke="#1e1e1e" stroke-width="0.15" textLength="6.2" lengthAdjust="spacingAndGlyphs">10</text>
<text x="274.3" y="94" font-size="4.6" fill="#1e1e1e" stroke="#1e1e1e" stroke-width="0.15">3</text>
<text x="284.4" y="97.1" font-size="6.4" fill="#1e1e1e" stroke="#1e1e1e" stroke-width="0.15" textLength="6.2" lengthAdjust="spacingAndGlyphs">10</text>
<text x="290.7" y="94" font-size="4.6" fill="#1e1e1e" stroke="#1e1e1e" stroke-width="0.15">4</text>
<text x="299.9" y="97.1" font-size="6.4" fill="#1e1e1e" stroke="#1e1e1e" stroke-width="0.15" textLength="6.2" lengthAdjust="spacingAndGlyphs">10</text>
<text x="306.2" y="94" font-size="4.6" fill="#1e1e1e" stroke="#1e1e1e" stroke-width="0.15">5</text>
<text x="260.8" y="108.9" font-size="7.8" fill="#1a1a1a" stroke="#1a1a1a" stroke-width="0.15" textLength="35" lengthAdjust="spacingAndGlyphs">Ter119-APC</text>
<text x="224.4" y="69" font-size="10" fill="#1a1a1a" stroke="#1a1a1a" stroke-width="0.15" textLength="31.1" lengthAdjust="spacingAndGlyphs" transform="rotate(-90 224.4 69)">CD71-FITC</text>
<rect x="257.6" y="32.7" width="10.8" height="13.6" fill="none" stroke="#6a6a6a" stroke-width="0.65"/>
<rect x="268.4" y="32.7" width="8" height="13.6" fill="none" stroke="#6a6a6a" stroke-width="0.65"/>
<rect x="276.4" y="32.7" width="17.4" height="13.9" fill="none" stroke="#6a6a6a" stroke-width="0.65"/>
<rect x="276.4" y="46.6" width="17.4" height="7.6" fill="none" stroke="#6a6a6a" stroke-width="0.65"/>
<rect x="276.4" y="54.2" width="17.4" height="17.8" fill="none" stroke="#6a6a6a" stroke-width="0.65"/>
<line x1="257.6" y1="46.5" x2="293.8" y2="46.5" stroke="#1a1a1a" stroke-width="1.3"/>
<line x1="276.4" y1="54.2" x2="293.8" y2="54.2" stroke="#1a1a1a" stroke-width="1.1"/>
<text x="264.2" y="26.9" font-size="4.6" text-anchor="middle" fill="#1e1e1e" stroke="#1e1e1e" stroke-width="0.15" textLength="4.4" lengthAdjust="spacingAndGlyphs">S1</text>
<text x="264.4" y="31.5" font-size="4.6" text-anchor="middle" fill="#1e1e1e" stroke="#1e1e1e" stroke-width="0.15" textLength="7.2" lengthAdjust="spacingAndGlyphs">1.16</text>
<text x="273.9" y="26.9" font-size="4.6" text-anchor="middle" fill="#1e1e1e" stroke="#1e1e1e" stroke-width="0.15" textLength="4.4" lengthAdjust="spacingAndGlyphs">S2</text>
<text x="273.3" y="31.5" font-size="4.6" text-anchor="middle" fill="#1e1e1e" stroke="#1e1e1e" stroke-width="0.15" textLength="7.2" lengthAdjust="spacingAndGlyphs">1.96</text>
<text x="287" y="26.9" font-size="4.6" text-anchor="middle" fill="#1e1e1e" stroke="#1e1e1e" stroke-width="0.15" textLength="4.4" lengthAdjust="spacingAndGlyphs">S3</text>
<text x="286.4" y="31.5" font-size="4.6" text-anchor="middle" fill="#1e1e1e" stroke="#1e1e1e" stroke-width="0.15" textLength="7.2" lengthAdjust="spacingAndGlyphs">70.0</text>
<text x="303.7" y="48.4" font-size="4.6" text-anchor="middle" fill="#1e1e1e" stroke="#1e1e1e" stroke-width="0.15" textLength="4.4" lengthAdjust="spacingAndGlyphs">S4</text>
<text x="303.7" y="53.6" font-size="4.6" text-anchor="middle" fill="#1e1e1e" stroke="#1e1e1e" stroke-width="0.15" textLength="7.2" lengthAdjust="spacingAndGlyphs">13.0</text>
<text x="303.7" y="61.5" font-size="4.6" text-anchor="middle" fill="#1e1e1e" stroke="#1e1e1e" stroke-width="0.15" textLength="4.4" lengthAdjust="spacingAndGlyphs">S5</text>
<text x="303.7" y="66.6" font-size="4.6" text-anchor="middle" fill="#1e1e1e" stroke="#1e1e1e" stroke-width="0.15" textLength="7.2" lengthAdjust="spacingAndGlyphs">4.32</text>
<rect x="247.5" y="22.5" width="62" height="62" fill="none" stroke="#1a1a1a" stroke-width="1"/>
<g id="dE"><path fill="#8d8de8" fill-opacity="0.6" d="M86.8 149.1h1v1h-1zM69.6 194.0h1v1h-1zM62.3 189.8h1v1h-1zM68.3 198.6h1v1h-1zM65.0 191.4h1v1h-1zM45.5 162.3h1v1h-1zM49.7 166.2h1v1h-1zM65.3 156.4h1v1h-1zM66.1 182.9h1v1h-1zM75.7 156.6h1v1h-1zM83.7 184.5h1v1h-1zM66.3 169.6h1v1h-1zM51.4 192.1h1v1h-1zM62.4 159.6h1v1h-1zM96.7 160.3h1v1h-1zM52.9 164.9h1v1h-1zM71.9 178.8h1v1h-1zM64.9 183.1h1v1h-1zM42.4 197.6h1v1h-1zM68.7 168.9h1v1h-1zM67.8 158.5h1v1h-1zM89.9 169.2h1v1h-1zM46.7 163.0h1v1h-1zM70.1 163.6h1v1h-1zM47.2 195.3h1v1h-1zM50.1 185.7h1v1h-1zM66.5 171.7h1v1h-1zM81.6 143.0h1v1h-1zM70.4 169.6h1v1h-1zM66.7 142.1h1v1h-1zM41.7 171.4h1v1h-1zM68.3 162.1h1v1h-1zM48.0 163.8h1v1h-1zM81.4 191.2h1v1h-1zM86.9 142.1h1v1h-1zM61.3 171.4h1v1h-1zM89.9 175.9h1v1h-1zM89.1 183.4h1v1h-1zM45.3 200.9h1v1h-1zM74.5 178.2h1v1h-1zM56.5 196.2h1v1h-1zM100.9 162.6h1v1h-1zM70.3 145.8h1v1h-1zM86.8 180.6h1v1h-1zM55.0 191.8h1v1h-1zM73.8 197.7h1v1h-1zM90.2 148.0h1v1h-1zM55.2 192.9h1v1h-1zM42.9 149.8h1v1h-1zM96.2 190.6h1v1h-1zM56.3 162.3h1v1h-1zM43.3 149.6h1v1h-1zM41.7 177.2h1v1h-1zM77.6 150.6h1v1h-1zM91.0 171.2h1v1h-1zM77.0 181.7h1v1h-1zM53.3 190.2h1v1h-1zM65.7 171.9h1v1h-1zM48.6 157.3h1v1h-1zM68.3 185.5h1v1h-1zM68.5 175.6h1v1h-1zM86.4 166.2h1v1h-1zM42.0 175.7h1v1h-1zM97.6 144.3h1v1h-1zM68.8 181.3h1v1h-1zM70.3 148.2h1v1h-1zM71.8 146.8h1v1h-1zM45.2 162.3h1v1h-1zM51.6 172.3h1v1h-1zM97.7 154.9h1v1h-1zM100.3 163.0h1v1h-1zM91.1 173.4h1v1h-1zM87.8 193.9h1v1h-1zM91.5 150.9h1v1h-1zM94.5 149.2h1v1h-1zM85.1 144.7h1v1h-1zM59.0 149.9h1v1h-1zM78.3 160.9h1v1h-1zM75.0 155.1h1v1h-1zM65.0 196.1h1v1h-1zM76.8 171.2h1v1h-1zM84.6 201.6h1v1h-1zM61.0 148.6h1v1h-1zM55.5 151.4h1v1h-1zM65.3 186.5h1v1h-1zM87.0 148.5h1v1h-1zM50.7 163.6h1v1h-1zM91.7 171.0h1v1h-1zM73.3 159.5h1v1h-1zM74.0 178.3h1v1h-1zM61.2 178.1h1v1h-1zM86.2 163.2h1v1h-1zM68.4 149.8h1v1h-1zM56.6 144.4h1v1h-1zM44.4 147.1h1v1h-1zM94.9 185.9h1v1h-1zM76.1 189.9h1v1h-1zM51.6 163.1h1v1h-1zM75.9 193.3h1v1h-1zM73.4 149.5h1v1h-1zM43.7 144.1h1v1h-1zM86.4 195.7h1v1h-1zM49.7 190.6h1v1h-1zM43.5 192.1h1v1h-1zM83.1 170.4h1v1h-1zM69.6 155.2h1v1h-1zM96.8 158.3h1v1h-1zM56.9 188.3h1v1h-1zM75.6 173.0h1v1h-1zM75.3 148.6h1v1h-1zM47.5 200.7h1v1h-1zM83.2 178.9h1v1h-1zM74.6 156.1h1v1h-1zM50.4 177.0h1v1h-1zM41.6 143.7h1v1h-1zM61.6 177.1h1v1h-1zM96.8 169.2h1v1h-1zM59.3 199.3h1v1h-1zM58.8 170.9h1v1h-1zM69.6 144.6h1v1h-1zM47.4 142.5h1v1h-1zM88.6 164.8h1v1h-1zM81.8 168.8h1v1h-1zM70.7 193.8h1v1h-1zM64.7 148.1h1v1h-1zM81.1 143.8h1v1h-1zM71.9 164.1h1v1h-1zM66.6 185.7h1v1h-1zM91.3 199.8h1v1h-1zM87.8 191.2h1v1h-1zM70.7 154.4h1v1h-1zM75.9 175.0h1v1h-1zM76.8 153.5h1v1h-1zM69.0 158.6h1v1h-1zM75.0 170.8h1v1h-1zM96.7 164.5h1v1h-1zM68.0 163.4h1v1h-1zM73.3 159.4h1v1h-1zM73.4 162.8h1v1h-1zM59.0 167.2h1v1h-1zM68.8 154.9h1v1h-1zM79.0 158.9h1v1h-1zM94.1 166.6h1v1h-1zM74.0 156.7h1v1h-1zM68.2 169.5h1v1h-1zM64.8 168.7h1v1h-1zM47.8 164.2h1v1h-1zM82.7 165.3h1v1h-1zM72.9 170.7h1v1h-1zM62.6 154.7h1v1h-1zM74.2 172.2h1v1h-1zM78.1 161.0h1v1h-1zM76.5 166.1h1v1h-1zM60.6 150.6h1v1h-1zM65.9 153.0h1v1h-1zM62.5 166.1h1v1h-1zM74.1 162.4h1v1h-1zM92.9 159.0h1v1h-1zM68.4 172.8h1v1h-1zM59.7 149.7h1v1h-1zM88.8 165.4h1v1h-1zM80.3 167.9h1v1h-1zM84.0 159.0h1v1h-1zM72.3 153.9h1v1h-1zM74.9 164.7h1v1h-1zM67.8 168.2h1v1h-1zM83.3 170.5h1v1h-1zM86.2 156.5h1v1h-1zM87.9 168.3h1v1h-1zM72.1 160.3h1v1h-1zM76.6 170.6h1v1h-1zM84.3 181.5h1v1h-1zM69.5 168.2h1v1h-1zM68.7 169.5h1v1h-1zM75.4 158.5h1v1h-1zM58.0 157.1h1v1h-1zM76.8 175.0h1v1h-1zM83.2 153.7h1v1h-1zM68.0 163.5h1v1h-1zM72.1 163.5h1v1h-1zM82.7 164.5h1v1h-1zM64.8 147.2h1v1h-1zM68.8 149.1h1v1h-1zM70.7 164.9h1v1h-1zM56.4 161.1h1v1h-1zM68.1 177.2h1v1h-1zM77.4 146.8h1v1h-1zM77.0 165.1h1v1h-1zM69.2 158.7h1v1h-1zM78.7 166.9h1v1h-1zM76.6 153.6h1v1h-1zM68.2 149.0h1v1h-1zM53.2 156.9h1v1h-1zM58.4 158.0h1v1h-1zM100.7 165.2h1v1h-1zM60.2 143.9h1v1h-1zM60.7 149.7h1v1h-1zM44.3 166.8h1v1h-1zM64.8 164.5h1v1h-1zM71.9 163.8h1v1h-1zM67.3 154.4h1v1h-1zM68.0 170.1h1v1h-1zM67.3 150.1h1v1h-1zM55.6 152.8h1v1h-1zM70.7 164.9h1v1h-1zM76.4 170.6h1v1h-1zM68.3 167.9h1v1h-1zM74.8 167.0h1v1h-1zM49.0 171.4h1v1h-1zM52.7 152.6h1v1h-1zM80.7 158.5h1v1h-1zM92.7 163.0h1v1h-1zM59.3 163.0h1v1h-1zM66.9 174.2h1v1h-1zM91.3 167.8h1v1h-1zM66.9 162.6h1v1h-1zM84.4 155.5h1v1h-1zM48.7 193.5h1v1h-1zM62.5 183.8h1v1h-1zM53.5 168.3h1v1h-1zM66.6 184.9h1v1h-1zM43.1 175.8h1v1h-1zM47.9 201.3h1v1h-1zM62.2 173.9h1v1h-1zM72.7 198.0h1v1h-1zM46.4 162.1h1v1h-1zM64.7 180.6h1v1h-1zM54.8 181.3h1v1h-1zM67.3 199.3h1v1h-1zM63.3 184.6h1v1h-1zM58.4 191.6h1v1h-1zM41.8 197.2h1v1h-1zM53.1 188.4h1v1h-1zM57.3 194.2h1v1h-1zM52.9 177.9h1v1h-1zM57.3 180.2h1v1h-1zM63.9 178.9h1v1h-1zM57.4 194.6h1v1h-1zM65.3 188.0h1v1h-1zM68.9 197.8h1v1h-1zM40.9 189.5h1v1h-1zM57.9 183.6h1v1h-1zM50.5 186.7h1v1h-1zM59.8 188.8h1v1h-1zM68.6 195.3h1v1h-1zM51.0 179.5h1v1h-1zM64.0 180.1h1v1h-1zM57.8 190.6h1v1h-1zM65.6 191.0h1v1h-1zM69.4 182.2h1v1h-1zM62.4 180.4h1v1h-1zM58.0 187.5h1v1h-1zM48.0 162.9h1v1h-1zM65.0 189.6h1v1h-1zM57.6 180.1h1v1h-1zM53.4 190.5h1v1h-1zM56.6 196.8h1v1h-1zM57.4 179.0h1v1h-1zM61.9 180.7h1v1h-1zM58.3 170.0h1v1h-1zM53.2 191.3h1v1h-1zM50.4 186.1h1v1h-1zM61.6 186.9h1v1h-1zM72.3 183.9h1v1h-1zM54.6 184.8h1v1h-1zM61.0 183.3h1v1h-1zM68.7 185.5h1v1h-1zM54.7 195.5h1v1h-1zM58.7 200.7h1v1h-1zM46.7 190.2h1v1h-1zM62.4 191.3h1v1h-1zM66.6 195.5h1v1h-1zM56.6 181.3h1v1h-1zM65.2 186.8h1v1h-1zM65.1 198.6h1v1h-1zM58.3 178.4h1v1h-1zM54.3 193.7h1v1h-1zM54.5 197.3h1v1h-1zM57.1 188.0h1v1h-1zM51.2 185.9h1v1h-1zM66.7 183.7h1v1h-1zM53.8 179.8h1v1h-1zM63.8 173.1h1v1h-1zM50.8 194.9h1v1h-1zM69.5 184.7h1v1h-1zM65.3 168.8h1v1h-1zM63.4 189.2h1v1h-1zM45.6 170.5h1v1h-1zM52.0 188.9h1v1h-1zM59.9 187.5h1v1h-1zM63.5 192.8h1v1h-1zM44.1 183.1h1v1h-1zM51.9 195.7h1v1h-1zM52.1 195.5h1v1h-1zM56.1 186.5h1v1h-1zM55.5 187.8h1v1h-1zM78.3 182.0h1v1h-1zM48.6 184.7h1v1h-1zM62.5 177.6h1v1h-1zM63.6 193.3h1v1h-1zM54.9 184.2h1v1h-1zM49.3 183.9h1v1h-1zM49.2 197.6h1v1h-1zM71.0 183.8h1v1h-1zM56.0 169.3h1v1h-1zM51.6 189.4h1v1h-1zM58.8 187.4h1v1h-1zM63.9 187.1h1v1h-1zM52.8 200.7h1v1h-1zM49.6 179.7h1v1h-1zM49.3 184.2h1v1h-1zM49.8 185.7h1v1h-1zM61.5 186.4h1v1h-1zM57.3 177.7h1v1h-1zM45.9 183.5h1v1h-1zM64.4 189.5h1v1h-1zM65.9 195.0h1v1h-1zM66.2 178.9h1v1h-1zM67.2 192.9h1v1h-1zM74.7 191.4h1v1h-1zM59.0 184.9h1v1h-1zM57.6 171.3h1v1h-1zM53.9 185.8h1v1h-1zM65.0 180.2h1v1h-1zM51.4 193.6h1v1h-1zM51.3 185.2h1v1h-1zM60.2 194.0h1v1h-1zM51.7 177.0h1v1h-1zM69.7 187.8h1v1h-1zM63.2 194.3h1v1h-1zM62.9 183.8h1v1h-1zM54.9 172.3h1v1h-1zM57.7 181.9h1v1h-1zM62.2 186.6h1v1h-1zM44.0 192.6h1v1h-1zM69.7 178.8h1v1h-1zM59.9 181.5h1v1h-1zM54.8 182.9h1v1h-1zM41.8 181.6h1v1h-1zM41.7 198.4h1v1h-1zM65.4 186.5h1v1h-1zM58.6 186.6h1v1h-1zM57.9 187.8h1v1h-1zM54.0 184.6h1v1h-1zM44.2 177.2h1v1h-1zM50.7 187.9h1v1h-1zM54.4 183.0h1v1h-1zM59.9 195.2h1v1h-1zM72.5 194.7h1v1h-1zM50.9 184.6h1v1h-1zM65.4 188.4h1v1h-1zM63.2 185.5h1v1h-1zM70.3 198.9h1v1h-1zM66.1 187.6h1v1h-1zM42.0 174.3h1v1h-1zM59.1 192.0h1v1h-1zM66.4 194.6h1v1h-1zM51.9 191.9h1v1h-1zM56.5 184.3h1v1h-1zM66.1 196.3h1v1h-1zM51.6 178.0h1v1h-1zM44.8 173.8h1v1h-1zM58.2 195.6h1v1h-1zM50.3 185.7h1v1h-1zM64.4 189.1h1v1h-1zM56.0 171.7h1v1h-1zM43.6 182.7h1v1h-1zM51.5 185.7h1v1h-1zM50.7 184.4h1v1h-1zM56.9 190.9h1v1h-1zM56.9 181.5h1v1h-1zM53.9 194.3h1v1h-1zM54.5 177.8h1v1h-1zM47.5 188.8h1v1h-1zM61.2 197.0h1v1h-1zM53.5 198.4h1v1h-1zM53.2 184.2h1v1h-1zM51.3 190.9h1v1h-1zM85.5 190.0h1v1h-1zM70.4 179.7h1v1h-1zM76.7 187.9h1v1h-1zM73.3 185.9h1v1h-1zM66.7 187.3h1v1h-1zM79.6 196.7h1v1h-1zM75.1 192.4h1v1h-1zM73.3 189.3h1v1h-1zM61.9 196.1h1v1h-1zM81.0 200.0h1v1h-1zM69.3 191.0h1v1h-1zM66.2 191.8h1v1h-1zM74.0 194.7h1v1h-1zM73.8 194.5h1v1h-1zM70.5 194.2h1v1h-1zM72.3 187.2h1v1h-1zM76.1 192.7h1v1h-1zM61.6 179.9h1v1h-1zM77.1 189.8h1v1h-1zM55.5 178.6h1v1h-1zM67.8 192.3h1v1h-1zM77.2 197.0h1v1h-1zM61.3 189.9h1v1h-1zM85.6 181.7h1v1h-1zM61.6 191.5h1v1h-1zM85.9 198.7h1v1h-1zM58.0 181.9h1v1h-1zM74.3 186.6h1v1h-1zM78.4 191.1h1v1h-1zM92.4 189.8h1v1h-1zM77.0 190.7h1v1h-1zM86.0 182.7h1v1h-1zM79.0 185.0h1v1h-1zM61.5 198.2h1v1h-1zM80.4 199.7h1v1h-1zM77.8 194.7h1v1h-1zM76.7 194.1h1v1h-1zM71.4 201.9h1v1h-1zM66.8 201.9h1v1h-1zM73.5 196.2h1v1h-1zM76.8 193.4h1v1h-1zM90.0 191.3h1v1h-1zM66.3 192.0h1v1h-1zM81.8 173.6h1v1h-1zM85.1 197.8h1v1h-1zM58.2 189.3h1v1h-1zM83.6 182.4h1v1h-1zM71.4 188.0h1v1h-1zM81.0 198.0h1v1h-1zM75.2 190.8h1v1h-1zM84.6 194.1h1v1h-1zM74.5 199.5h1v1h-1zM61.6 191.4h1v1h-1zM71.4 186.9h1v1h-1zM77.5 190.6h1v1h-1zM99.7 194.8h1v1h-1zM79.0 201.7h1v1h-1zM85.5 177.5h1v1h-1zM76.7 195.5h1v1h-1z"/><path fill="#7c7ce6" fill-opacity="0.65" d="M64.2 160.3h1v1h-1zM52.8 161.0h1v1h-1zM59.5 169.3h1v1h-1zM57.9 150.0h1v1h-1zM51.7 166.7h1v1h-1zM54.8 145.4h1v1h-1zM54.5 158.0h1v1h-1zM65.1 151.9h1v1h-1zM62.0 162.8h1v1h-1zM53.8 156.9h1v1h-1zM68.6 168.3h1v1h-1zM63.1 160.0h1v1h-1zM64.8 157.2h1v1h-1zM57.4 152.8h1v1h-1zM58.0 157.5h1v1h-1zM74.6 156.8h1v1h-1zM65.6 165.9h1v1h-1zM56.9 165.0h1v1h-1zM44.9 158.6h1v1h-1zM63.1 143.6h1v1h-1zM51.0 164.3h1v1h-1zM56.5 151.4h1v1h-1zM55.8 154.7h1v1h-1zM62.3 160.7h1v1h-1zM56.3 154.0h1v1h-1zM57.7 166.0h1v1h-1zM60.1 161.8h1v1h-1zM57.1 150.2h1v1h-1zM53.7 161.9h1v1h-1zM58.6 152.6h1v1h-1zM48.3 158.7h1v1h-1zM56.0 155.9h1v1h-1zM56.0 159.7h1v1h-1zM59.8 163.8h1v1h-1zM63.6 166.0h1v1h-1zM62.8 156.0h1v1h-1zM57.7 161.0h1v1h-1zM56.1 161.3h1v1h-1zM64.9 153.2h1v1h-1zM47.4 165.2h1v1h-1zM58.1 162.3h1v1h-1zM50.0 168.4h1v1h-1zM62.4 157.2h1v1h-1zM55.9 158.7h1v1h-1zM57.0 156.3h1v1h-1zM51.3 165.6h1v1h-1zM57.8 158.4h1v1h-1zM58.6 143.9h1v1h-1zM61.2 156.0h1v1h-1zM56.3 158.4h1v1h-1zM52.2 163.1h1v1h-1zM53.8 152.6h1v1h-1zM52.8 159.0h1v1h-1zM62.5 154.4h1v1h-1zM48.9 164.4h1v1h-1zM51.6 165.2h1v1h-1zM57.7 153.8h1v1h-1zM54.2 160.8h1v1h-1zM63.3 156.8h1v1h-1zM63.7 170.5h1v1h-1zM56.8 151.1h1v1h-1zM51.7 149.7h1v1h-1zM54.2 153.7h1v1h-1zM50.0 161.2h1v1h-1zM42.3 150.1h1v1h-1zM70.1 164.2h1v1h-1zM61.1 160.7h1v1h-1zM68.6 161.2h1v1h-1zM58.5 150.6h1v1h-1zM57.6 153.6h1v1h-1zM53.8 153.7h1v1h-1zM57.7 156.0h1v1h-1zM63.2 150.0h1v1h-1zM57.0 169.2h1v1h-1zM58.2 165.2h1v1h-1zM64.8 165.9h1v1h-1zM62.4 149.7h1v1h-1zM56.4 155.7h1v1h-1zM48.7 155.2h1v1h-1zM50.5 148.0h1v1h-1zM59.3 157.7h1v1h-1zM53.9 152.3h1v1h-1zM54.8 155.6h1v1h-1zM55.6 157.7h1v1h-1zM55.4 160.3h1v1h-1zM61.1 160.1h1v1h-1zM54.0 154.3h1v1h-1zM60.6 156.8h1v1h-1zM57.7 143.0h1v1h-1zM41.8 160.0h1v1h-1zM60.0 166.4h1v1h-1zM62.3 159.3h1v1h-1zM58.1 149.4h1v1h-1zM63.3 154.4h1v1h-1zM61.0 159.2h1v1h-1zM59.6 163.4h1v1h-1zM55.1 155.7h1v1h-1zM52.9 155.7h1v1h-1zM68.0 155.8h1v1h-1zM65.1 163.0h1v1h-1zM62.4 162.8h1v1h-1zM51.9 160.2h1v1h-1zM67.5 153.8h1v1h-1zM57.7 153.9h1v1h-1zM59.9 151.5h1v1h-1zM67.7 155.7h1v1h-1zM48.7 168.7h1v1h-1zM63.8 161.1h1v1h-1zM61.2 155.9h1v1h-1zM56.7 162.3h1v1h-1zM63.5 163.6h1v1h-1zM59.3 155.2h1v1h-1zM56.8 164.7h1v1h-1zM66.6 156.0h1v1h-1zM55.1 165.5h1v1h-1zM62.3 162.2h1v1h-1zM50.1 155.8h1v1h-1zM54.9 159.2h1v1h-1zM47.9 165.6h1v1h-1zM59.8 160.6h1v1h-1zM50.9 157.8h1v1h-1zM66.0 148.6h1v1h-1zM59.8 162.2h1v1h-1zM53.8 162.9h1v1h-1zM56.0 165.4h1v1h-1zM61.2 159.3h1v1h-1zM70.1 163.0h1v1h-1zM65.9 150.9h1v1h-1zM54.1 163.0h1v1h-1zM63.4 157.7h1v1h-1zM62.7 151.6h1v1h-1zM59.3 151.1h1v1h-1zM60.0 155.1h1v1h-1zM54.2 158.3h1v1h-1zM68.9 151.9h1v1h-1zM54.4 164.4h1v1h-1zM55.5 168.6h1v1h-1zM59.3 158.5h1v1h-1zM60.1 168.4h1v1h-1zM61.9 161.1h1v1h-1z"/><path fill="#6a6ae0" fill-opacity="0.6" d="M54.9 152.5h1v1h-1zM56.2 156.5h1v1h-1zM59.5 155.8h1v1h-1zM55.5 153.7h1v1h-1zM58.6 159.3h1v1h-1zM57.5 152.7h1v1h-1zM54.5 159.2h1v1h-1zM57.3 151.5h1v1h-1zM56.6 152.8h1v1h-1zM55.3 154.4h1v1h-1zM55.1 156.8h1v1h-1zM56.6 154.1h1v1h-1zM57.8 157.4h1v1h-1zM52.9 154.9h1v1h-1zM54.4 155.1h1v1h-1zM53.7 155.5h1v1h-1zM56.7 154.8h1v1h-1zM54.3 154.6h1v1h-1zM54.2 152.4h1v1h-1zM57.3 152.9h1v1h-1zM59.6 157.1h1v1h-1zM52.0 156.1h1v1h-1zM54.2 155.6h1v1h-1zM56.9 150.9h1v1h-1zM56.2 154.9h1v1h-1zM59.1 152.8h1v1h-1zM58.6 153.0h1v1h-1zM56.0 153.6h1v1h-1zM60.3 156.8h1v1h-1zM62.6 157.0h1v1h-1zM58.8 157.4h1v1h-1zM55.3 155.3h1v1h-1zM60.0 154.6h1v1h-1zM57.3 155.5h1v1h-1zM58.3 154.7h1v1h-1zM56.4 156.1h1v1h-1zM57.0 153.5h1v1h-1zM58.9 152.5h1v1h-1zM53.9 152.6h1v1h-1zM59.1 154.7h1v1h-1zM54.5 152.9h1v1h-1zM57.8 153.1h1v1h-1zM53.7 156.9h1v1h-1zM53.9 154.8h1v1h-1zM56.8 154.5h1v1h-1zM56.7 158.6h1v1h-1zM55.6 152.6h1v1h-1zM52.4 155.0h1v1h-1zM56.0 156.1h1v1h-1zM55.7 154.4h1v1h-1zM55.1 154.3h1v1h-1zM57.2 154.6h1v1h-1zM57.0 159.9h1v1h-1zM57.9 151.9h1v1h-1zM61.0 156.3h1v1h-1zM54.5 157.6h1v1h-1zM56.8 154.1h1v1h-1zM55.3 153.2h1v1h-1zM56.9 158.0h1v1h-1zM56.0 156.5h1v1h-1zM61.3 152.7h1v1h-1zM57.4 154.8h1v1h-1zM54.3 153.1h1v1h-1zM56.8 156.5h1v1h-1zM55.5 155.6h1v1h-1zM58.5 156.2h1v1h-1zM58.9 156.6h1v1h-1zM58.0 159.7h1v1h-1zM58.3 155.8h1v1h-1zM58.5 153.4h1v1h-1zM56.0 157.3h1v1h-1zM58.3 159.1h1v1h-1zM56.8 152.1h1v1h-1zM61.5 158.0h1v1h-1zM54.3 158.7h1v1h-1zM56.9 151.3h1v1h-1zM55.8 154.3h1v1h-1zM60.6 153.7h1v1h-1zM56.2 154.9h1v1h-1zM55.9 153.4h1v1h-1zM57.3 158.0h1v1h-1zM58.3 153.4h1v1h-1zM54.0 155.8h1v1h-1zM55.1 154.1h1v1h-1zM52.8 160.0h1v1h-1zM59.0 153.3h1v1h-1zM59.0 158.6h1v1h-1zM51.1 154.2h1v1h-1zM55.9 157.0h1v1h-1zM56.5 155.0h1v1h-1zM56.7 159.8h1v1h-1zM62.0 154.3h1v1h-1zM54.6 161.7h1v1h-1zM54.4 154.2h1v1h-1zM56.9 156.6h1v1h-1z"/></g>
<use href="#dE" x="104"/>
<use href="#dE" x="208"/>
<circle cx="56.8" cy="155.5" r="3.4" fill="#6a6ae8" fill-opacity="0.28"/>
<rect x="55.3" y="154.3" width="1" height="1" fill="#e08050" fill-opacity="0.55"/>
<rect x="58.0" y="156.3" width="1" height="1" fill="#e08050" fill-opacity="0.55"/>
<rect x="56.2" y="157.1" width="1" height="1" fill="#e08050" fill-opacity="0.55"/>
<rect x="58.6" y="154.0" width="1" height="1" fill="#e08050" fill-opacity="0.55"/>
<rect x="54.6" y="156.1" width="1" height="1" fill="#e08050" fill-opacity="0.55"/>
<circle cx="160.8" cy="155.5" r="3.4" fill="#6a6ae8" fill-opacity="0.28"/>
<rect x="159.3" y="154.3" width="1" height="1" fill="#e08050" fill-opacity="0.55"/>
<rect x="162.0" y="156.3" width="1" height="1" fill="#e08050" fill-opacity="0.55"/>
<rect x="160.2" y="157.1" width="1" height="1" fill="#e08050" fill-opacity="0.55"/>
<rect x="162.6" y="154.0" width="1" height="1" fill="#e08050" fill-opacity="0.55"/>
<rect x="158.6" y="156.1" width="1" height="1" fill="#e08050" fill-opacity="0.55"/>
<circle cx="264.8" cy="155.5" r="3.4" fill="#6a6ae8" fill-opacity="0.28"/>
<rect x="263.3" y="154.3" width="1" height="1" fill="#e08050" fill-opacity="0.55"/>
<rect x="266.0" y="156.3" width="1" height="1" fill="#e08050" fill-opacity="0.55"/>
<rect x="264.2" y="157.1" width="1" height="1" fill="#e08050" fill-opacity="0.55"/>
<rect x="266.6" y="154.0" width="1" height="1" fill="#e08050" fill-opacity="0.55"/>
<rect x="262.6" y="156.1" width="1" height="1" fill="#e08050" fill-opacity="0.55"/>
<text x="53.5" y="134.8" font-size="9" fill="#4642a0" stroke="#4642a0" stroke-width="0.15" font-style="italic" textLength="24.2" lengthAdjust="spacingAndGlyphs">Gdf11</text>
<text x="78" y="131.1" font-size="6" fill="#4642a0" stroke="#4642a0" stroke-width="0.15" font-style="italic" textLength="10" lengthAdjust="spacingAndGlyphs">+/+</text>
<line x1="36.9" y1="146.1" x2="39.5" y2="146.1" stroke="#333" stroke-width="0.8"/>
<line x1="36.9" y1="164.2" x2="39.5" y2="164.2" stroke="#333" stroke-width="0.8"/>
<line x1="36.9" y1="182" x2="39.5" y2="182" stroke="#333" stroke-width="0.8"/>
<line x1="36.9" y1="199" x2="39.5" y2="199" stroke="#333" stroke-width="0.8"/>
<line x1="38.2" y1="158.75" x2="39.5" y2="158.75" stroke="#555" stroke-width="0.6"/>
<line x1="38.2" y1="155.56" x2="39.5" y2="155.56" stroke="#555" stroke-width="0.6"/>
<line x1="38.2" y1="153.3" x2="39.5" y2="153.3" stroke="#555" stroke-width="0.6"/>
<line x1="38.2" y1="151.55" x2="39.5" y2="151.55" stroke="#555" stroke-width="0.6"/>
<line x1="38.2" y1="150.12" x2="39.5" y2="150.12" stroke="#555" stroke-width="0.6"/>
<line x1="38.2" y1="148.9" x2="39.5" y2="148.9" stroke="#555" stroke-width="0.6"/>
<line x1="38.2" y1="147.85" x2="39.5" y2="147.85" stroke="#555" stroke-width="0.6"/>
<line x1="38.2" y1="146.93" x2="39.5" y2="146.93" stroke="#555" stroke-width="0.6"/>
<line x1="38.2" y1="168" x2="39.5" y2="168" stroke="#555" stroke-width="0.6"/>
<line x1="38.2" y1="172" x2="39.5" y2="172" stroke="#555" stroke-width="0.6"/>
<line x1="38.2" y1="176" x2="39.5" y2="176" stroke="#555" stroke-width="0.6"/>
<line x1="38.2" y1="179" x2="39.5" y2="179" stroke="#555" stroke-width="0.6"/>
<line x1="38.2" y1="185" x2="39.5" y2="185" stroke="#555" stroke-width="0.6"/>
<line x1="38.2" y1="188" x2="39.5" y2="188" stroke="#555" stroke-width="0.6"/>
<line x1="38.2" y1="191" x2="39.5" y2="191" stroke="#555" stroke-width="0.6"/>
<line x1="38.2" y1="194" x2="39.5" y2="194" stroke="#555" stroke-width="0.6"/>
<line x1="38.2" y1="201.5" x2="39.5" y2="201.5" stroke="#555" stroke-width="0.6"/>
<text x="30.2" y="148.7" font-size="6.4" text-anchor="end" fill="#1e1e1e" stroke="#1e1e1e" stroke-width="0.15" textLength="6.4" lengthAdjust="spacingAndGlyphs">10</text>
<text x="30.5" y="145.2" font-size="4.6" fill="#1e1e1e" stroke="#1e1e1e" stroke-width="0.15">5</text>
<text x="30.2" y="166.5" font-size="6.4" text-anchor="end" fill="#1e1e1e" stroke="#1e1e1e" stroke-width="0.15" textLength="6.4" lengthAdjust="spacingAndGlyphs">10</text>
<text x="30.5" y="163" font-size="4.6" fill="#1e1e1e" stroke="#1e1e1e" stroke-width="0.15">4</text>
<text x="33.2" y="184.3" font-size="6.4" text-anchor="end" fill="#1e1e1e" stroke="#1e1e1e" stroke-width="0.15">0</text>
<text x="30.2" y="200.6" font-size="6.4" text-anchor="end" fill="#1e1e1e" stroke="#1e1e1e" stroke-width="0.15" textLength="8.6" lengthAdjust="spacingAndGlyphs">-10</text>
<text x="30.5" y="197.1" font-size="4.6" fill="#1e1e1e" stroke="#1e1e1e" stroke-width="0.15">4</text>
<line x1="43.6" y1="203.5" x2="43.6" y2="205.9" stroke="#333" stroke-width="0.8"/>
<line x1="62.9" y1="203.5" x2="62.9" y2="205.9" stroke="#333" stroke-width="0.8"/>
<line x1="78.4" y1="203.5" x2="78.4" y2="205.9" stroke="#333" stroke-width="0.8"/>
<line x1="95.4" y1="203.5" x2="95.4" y2="205.9" stroke="#333" stroke-width="0.8"/>
<line x1="83.52" y1="203.5" x2="83.52" y2="204.8" stroke="#555" stroke-width="0.6"/>
<line x1="86.51" y1="203.5" x2="86.51" y2="204.8" stroke="#555" stroke-width="0.6"/>
<line x1="88.64" y1="203.5" x2="88.64" y2="204.8" stroke="#555" stroke-width="0.6"/>
<line x1="90.28" y1="203.5" x2="90.28" y2="204.8" stroke="#555" stroke-width="0.6"/>
<line x1="91.63" y1="203.5" x2="91.63" y2="204.8" stroke="#555" stroke-width="0.6"/>
<line x1="92.77" y1="203.5" x2="92.77" y2="204.8" stroke="#555" stroke-width="0.6"/>
<line x1="93.75" y1="203.5" x2="93.75" y2="204.8" stroke="#555" stroke-width="0.6"/>
<line x1="94.62" y1="203.5" x2="94.62" y2="204.8" stroke="#555" stroke-width="0.6"/>
<line x1="47" y1="203.5" x2="47" y2="204.8" stroke="#555" stroke-width="0.6"/>
<line x1="50" y1="203.5" x2="50" y2="204.8" stroke="#555" stroke-width="0.6"/>
<line x1="53" y1="203.5" x2="53" y2="204.8" stroke="#555" stroke-width="0.6"/>
<line x1="56" y1="203.5" x2="56" y2="204.8" stroke="#555" stroke-width="0.6"/>
<line x1="59" y1="203.5" x2="59" y2="204.8" stroke="#555" stroke-width="0.6"/>
<line x1="66.5" y1="203.5" x2="66.5" y2="204.8" stroke="#555" stroke-width="0.6"/>
<line x1="70" y1="203.5" x2="70" y2="204.8" stroke="#555" stroke-width="0.6"/>
<line x1="73.5" y1="203.5" x2="73.5" y2="204.8" stroke="#555" stroke-width="0.6"/>
<text x="38.2" y="216.4" font-size="6.4" fill="#1e1e1e" stroke="#1e1e1e" stroke-width="0.15" textLength="7.6" lengthAdjust="spacingAndGlyphs">-10</text>
<text x="46" y="213.3" font-size="4.6" fill="#1e1e1e" stroke="#1e1e1e" stroke-width="0.15">4</text>
<text x="60.9" y="216.4" font-size="6.4" fill="#1e1e1e" stroke="#1e1e1e" stroke-width="0.15" textLength="3.4" lengthAdjust="spacingAndGlyphs">0</text>
<text x="74.4" y="216.4" font-size="6.4" fill="#1e1e1e" stroke="#1e1e1e" stroke-width="0.15" textLength="6.2" lengthAdjust="spacingAndGlyphs">10</text>
<text x="80.7" y="213.3" font-size="4.6" fill="#1e1e1e" stroke="#1e1e1e" stroke-width="0.15">4</text>
<text x="91.9" y="216.4" font-size="6.4" fill="#1e1e1e" stroke="#1e1e1e" stroke-width="0.15" textLength="6.2" lengthAdjust="spacingAndGlyphs">10</text>
<text x="98.2" y="213.3" font-size="4.6" fill="#1e1e1e" stroke="#1e1e1e" stroke-width="0.15">5</text>
<text x="55.9" y="228.7" font-size="8.4" fill="#1a1a1a" stroke="#1a1a1a" stroke-width="0.15" textLength="30.2" lengthAdjust="spacingAndGlyphs">CD150-PE</text>
<text x="16.4" y="187.9" font-size="10" fill="#1a1a1a" stroke="#1a1a1a" stroke-width="0.15" textLength="32.1" lengthAdjust="spacingAndGlyphs" transform="rotate(-90 16.4 187.9)">CD48-FITC</text>
<path d="M62.9,203.5 V180 H102.3" fill="none" stroke="#7c7c7c" stroke-width="1.2"/>
<text x="82.6" y="165.4" font-size="5" text-anchor="middle" fill="#1e1e1e" stroke="#1e1e1e" stroke-width="0.15" textLength="9.4" lengthAdjust="spacingAndGlyphs">HSCs</text>
<text x="82.8" y="170.6" font-size="5" text-anchor="middle" fill="#1e1e1e" stroke="#1e1e1e" stroke-width="0.15" textLength="6.6" lengthAdjust="spacingAndGlyphs">10.6</text>
<rect x="39.5" y="140.5" width="63" height="63" fill="none" stroke="#1a1a1a" stroke-width="1"/>
<text x="158.6" y="134.8" font-size="9" fill="#d65243" stroke="#d65243" stroke-width="0.15" font-style="italic" textLength="24.2" lengthAdjust="spacingAndGlyphs">Gdf11</text>
<text x="183.1" y="131.1" font-size="6" fill="#d65243" stroke="#d65243" stroke-width="0.15" font-style="italic" textLength="10" lengthAdjust="spacingAndGlyphs">+/-</text>
<line x1="140.9" y1="146.1" x2="143.5" y2="146.1" stroke="#333" stroke-width="0.8"/>
<line x1="140.9" y1="164.2" x2="143.5" y2="164.2" stroke="#333" stroke-width="0.8"/>
<line x1="140.9" y1="182" x2="143.5" y2="182" stroke="#333" stroke-width="0.8"/>
<line x1="140.9" y1="199" x2="143.5" y2="199" stroke="#333" stroke-width="0.8"/>
<line x1="142.2" y1="158.75" x2="143.5" y2="158.75" stroke="#555" stroke-width="0.6"/>
<line x1="142.2" y1="155.56" x2="143.5" y2="155.56" stroke="#555" stroke-width="0.6"/>
<line x1="142.2" y1="153.3" x2="143.5" y2="153.3" stroke="#555" stroke-width="0.6"/>
<line x1="142.2" y1="151.55" x2="143.5" y2="151.55" stroke="#555" stroke-width="0.6"/>
<line x1="142.2" y1="150.12" x2="143.5" y2="150.12" stroke="#555" stroke-width="0.6"/>
<line x1="142.2" y1="148.9" x2="143.5" y2="148.9" stroke="#555" stroke-width="0.6"/>
<line x1="142.2" y1="147.85" x2="143.5" y2="147.85" stroke="#555" stroke-width="0.6"/>
<line x1="142.2" y1="146.93" x2="143.5" y2="146.93" stroke="#555" stroke-width="0.6"/>
<line x1="142.2" y1="168" x2="143.5" y2="168" stroke="#555" stroke-width="0.6"/>
<line x1="142.2" y1="172" x2="143.5" y2="172" stroke="#555" stroke-width="0.6"/>
<line x1="142.2" y1="176" x2="143.5" y2="176" stroke="#555" stroke-width="0.6"/>
<line x1="142.2" y1="179" x2="143.5" y2="179" stroke="#555" stroke-width="0.6"/>
<line x1="142.2" y1="185" x2="143.5" y2="185" stroke="#555" stroke-width="0.6"/>
<line x1="142.2" y1="188" x2="143.5" y2="188" stroke="#555" stroke-width="0.6"/>
<line x1="142.2" y1="191" x2="143.5" y2="191" stroke="#555" stroke-width="0.6"/>
<line x1="142.2" y1="194" x2="143.5" y2="194" stroke="#555" stroke-width="0.6"/>
<line x1="142.2" y1="201.5" x2="143.5" y2="201.5" stroke="#555" stroke-width="0.6"/>
<text x="134.2" y="148.7" font-size="6.4" text-anchor="end" fill="#1e1e1e" stroke="#1e1e1e" stroke-width="0.15" textLength="6.4" lengthAdjust="spacingAndGlyphs">10</text>
<text x="134.5" y="145.2" font-size="4.6" fill="#1e1e1e" stroke="#1e1e1e" stroke-width="0.15">5</text>
<text x="134.2" y="166.5" font-size="6.4" text-anchor="end" fill="#1e1e1e" stroke="#1e1e1e" stroke-width="0.15" textLength="6.4" lengthAdjust="spacingAndGlyphs">10</text>
<text x="134.5" y="163" font-size="4.6" fill="#1e1e1e" stroke="#1e1e1e" stroke-width="0.15">4</text>
<text x="137.2" y="184.3" font-size="6.4" text-anchor="end" fill="#1e1e1e" stroke="#1e1e1e" stroke-width="0.15">0</text>
<text x="134.2" y="200.6" font-size="6.4" text-anchor="end" fill="#1e1e1e" stroke="#1e1e1e" stroke-width="0.15" textLength="8.6" lengthAdjust="spacingAndGlyphs">-10</text>
<text x="134.5" y="197.1" font-size="4.6" fill="#1e1e1e" stroke="#1e1e1e" stroke-width="0.15">4</text>
<line x1="147.6" y1="203.5" x2="147.6" y2="205.9" stroke="#333" stroke-width="0.8"/>
<line x1="166.9" y1="203.5" x2="166.9" y2="205.9" stroke="#333" stroke-width="0.8"/>
<line x1="182.4" y1="203.5" x2="182.4" y2="205.9" stroke="#333" stroke-width="0.8"/>
<line x1="199.4" y1="203.5" x2="199.4" y2="205.9" stroke="#333" stroke-width="0.8"/>
<line x1="187.52" y1="203.5" x2="187.52" y2="204.8" stroke="#555" stroke-width="0.6"/>
<line x1="190.51" y1="203.5" x2="190.51" y2="204.8" stroke="#555" stroke-width="0.6"/>
<line x1="192.64" y1="203.5" x2="192.64" y2="204.8" stroke="#555" stroke-width="0.6"/>
<line x1="194.28" y1="203.5" x2="194.28" y2="204.8" stroke="#555" stroke-width="0.6"/>
<line x1="195.63" y1="203.5" x2="195.63" y2="204.8" stroke="#555" stroke-width="0.6"/>
<line x1="196.77" y1="203.5" x2="196.77" y2="204.8" stroke="#555" stroke-width="0.6"/>
<line x1="197.75" y1="203.5" x2="197.75" y2="204.8" stroke="#555" stroke-width="0.6"/>
<line x1="198.62" y1="203.5" x2="198.62" y2="204.8" stroke="#555" stroke-width="0.6"/>
<line x1="151" y1="203.5" x2="151" y2="204.8" stroke="#555" stroke-width="0.6"/>
<line x1="154" y1="203.5" x2="154" y2="204.8" stroke="#555" stroke-width="0.6"/>
<line x1="157" y1="203.5" x2="157" y2="204.8" stroke="#555" stroke-width="0.6"/>
<line x1="160" y1="203.5" x2="160" y2="204.8" stroke="#555" stroke-width="0.6"/>
<line x1="163" y1="203.5" x2="163" y2="204.8" stroke="#555" stroke-width="0.6"/>
<line x1="170.5" y1="203.5" x2="170.5" y2="204.8" stroke="#555" stroke-width="0.6"/>
<line x1="174" y1="203.5" x2="174" y2="204.8" stroke="#555" stroke-width="0.6"/>
<line x1="177.5" y1="203.5" x2="177.5" y2="204.8" stroke="#555" stroke-width="0.6"/>
<text x="142.2" y="216.4" font-size="6.4" fill="#1e1e1e" stroke="#1e1e1e" stroke-width="0.15" textLength="7.6" lengthAdjust="spacingAndGlyphs">-10</text>
<text x="150" y="213.3" font-size="4.6" fill="#1e1e1e" stroke="#1e1e1e" stroke-width="0.15">4</text>
<text x="164.9" y="216.4" font-size="6.4" fill="#1e1e1e" stroke="#1e1e1e" stroke-width="0.15" textLength="3.4" lengthAdjust="spacingAndGlyphs">0</text>
<text x="178.4" y="216.4" font-size="6.4" fill="#1e1e1e" stroke="#1e1e1e" stroke-width="0.15" textLength="6.2" lengthAdjust="spacingAndGlyphs">10</text>
<text x="184.7" y="213.3" font-size="4.6" fill="#1e1e1e" stroke="#1e1e1e" stroke-width="0.15">4</text>
<text x="195.9" y="216.4" font-size="6.4" fill="#1e1e1e" stroke="#1e1e1e" stroke-width="0.15" textLength="6.2" lengthAdjust="spacingAndGlyphs">10</text>
<text x="202.2" y="213.3" font-size="4.6" fill="#1e1e1e" stroke="#1e1e1e" stroke-width="0.15">5</text>
<text x="159.9" y="228.7" font-size="8.4" fill="#1a1a1a" stroke="#1a1a1a" stroke-width="0.15" textLength="30.2" lengthAdjust="spacingAndGlyphs">CD150-PE</text>
<text x="120.4" y="187.9" font-size="10" fill="#1a1a1a" stroke="#1a1a1a" stroke-width="0.15" textLength="32.1" lengthAdjust="spacingAndGlyphs" transform="rotate(-90 120.4 187.9)">CD48-FITC</text>
<path d="M166.9,203.5 V180 H206.3" fill="none" stroke="#7c7c7c" stroke-width="1.2"/>
<text x="186.6" y="165.4" font-size="5" text-anchor="middle" fill="#1e1e1e" stroke="#1e1e1e" stroke-width="0.15" textLength="9.4" lengthAdjust="spacingAndGlyphs">HSCs</text>
<text x="186.8" y="170.6" font-size="5" text-anchor="middle" fill="#1e1e1e" stroke="#1e1e1e" stroke-width="0.15" textLength="6.6" lengthAdjust="spacingAndGlyphs">13.5</text>
<rect x="143.5" y="140.5" width="63" height="63" fill="none" stroke="#1a1a1a" stroke-width="1"/>
<text x="262.6" y="134.8" font-size="9" fill="#2a2a2a" stroke="#2a2a2a" stroke-width="0.15" font-style="italic" textLength="24.2" lengthAdjust="spacingAndGlyphs">Gdf11</text>
<text x="287.1" y="131.1" font-size="6" fill="#2a2a2a" stroke="#2a2a2a" stroke-width="0.15" font-style="italic" textLength="10" lengthAdjust="spacingAndGlyphs">-/-</text>
<line x1="244.9" y1="146.1" x2="247.5" y2="146.1" stroke="#333" stroke-width="0.8"/>
<line x1="244.9" y1="164.2" x2="247.5" y2="164.2" stroke="#333" stroke-width="0.8"/>
<line x1="244.9" y1="182" x2="247.5" y2="182" stroke="#333" stroke-width="0.8"/>
<line x1="244.9" y1="199" x2="247.5" y2="199" stroke="#333" stroke-width="0.8"/>
<line x1="246.2" y1="158.75" x2="247.5" y2="158.75" stroke="#555" stroke-width="0.6"/>
<line x1="246.2" y1="155.56" x2="247.5" y2="155.56" stroke="#555" stroke-width="0.6"/>
<line x1="246.2" y1="153.3" x2="247.5" y2="153.3" stroke="#555" stroke-width="0.6"/>
<line x1="246.2" y1="151.55" x2="247.5" y2="151.55" stroke="#555" stroke-width="0.6"/>
<line x1="246.2" y1="150.12" x2="247.5" y2="150.12" stroke="#555" stroke-width="0.6"/>
<line x1="246.2" y1="148.9" x2="247.5" y2="148.9" stroke="#555" stroke-width="0.6"/>
<line x1="246.2" y1="147.85" x2="247.5" y2="147.85" stroke="#555" stroke-width="0.6"/>
<line x1="246.2" y1="146.93" x2="247.5" y2="146.93" stroke="#555" stroke-width="0.6"/>
<line x1="246.2" y1="168" x2="247.5" y2="168" stroke="#555" stroke-width="0.6"/>
<line x1="246.2" y1="172" x2="247.5" y2="172" stroke="#555" stroke-width="0.6"/>
<line x1="246.2" y1="176" x2="247.5" y2="176" stroke="#555" stroke-width="0.6"/>
<line x1="246.2" y1="179" x2="247.5" y2="179" stroke="#555" stroke-width="0.6"/>
<line x1="246.2" y1="185" x2="247.5" y2="185" stroke="#555" stroke-width="0.6"/>
<line x1="246.2" y1="188" x2="247.5" y2="188" stroke="#555" stroke-width="0.6"/>
<line x1="246.2" y1="191" x2="247.5" y2="191" stroke="#555" stroke-width="0.6"/>
<line x1="246.2" y1="194" x2="247.5" y2="194" stroke="#555" stroke-width="0.6"/>
<line x1="246.2" y1="201.5" x2="247.5" y2="201.5" stroke="#555" stroke-width="0.6"/>
<text x="238.2" y="148.7" font-size="6.4" text-anchor="end" fill="#1e1e1e" stroke="#1e1e1e" stroke-width="0.15" textLength="6.4" lengthAdjust="spacingAndGlyphs">10</text>
<text x="238.5" y="145.2" font-size="4.6" fill="#1e1e1e" stroke="#1e1e1e" stroke-width="0.15">5</text>
<text x="238.2" y="166.5" font-size="6.4" text-anchor="end" fill="#1e1e1e" stroke="#1e1e1e" stroke-width="0.15" textLength="6.4" lengthAdjust="spacingAndGlyphs">10</text>
<text x="238.5" y="163" font-size="4.6" fill="#1e1e1e" stroke="#1e1e1e" stroke-width="0.15">4</text>
<text x="241.2" y="184.3" font-size="6.4" text-anchor="end" fill="#1e1e1e" stroke="#1e1e1e" stroke-width="0.15">0</text>
<text x="238.2" y="200.6" font-size="6.4" text-anchor="end" fill="#1e1e1e" stroke="#1e1e1e" stroke-width="0.15" textLength="8.6" lengthAdjust="spacingAndGlyphs">-10</text>
<text x="238.5" y="197.1" font-size="4.6" fill="#1e1e1e" stroke="#1e1e1e" stroke-width="0.15">4</text>
<line x1="251.6" y1="203.5" x2="251.6" y2="205.9" stroke="#333" stroke-width="0.8"/>
<line x1="270.9" y1="203.5" x2="270.9" y2="205.9" stroke="#333" stroke-width="0.8"/>
<line x1="286.4" y1="203.5" x2="286.4" y2="205.9" stroke="#333" stroke-width="0.8"/>
<line x1="303.4" y1="203.5" x2="303.4" y2="205.9" stroke="#333" stroke-width="0.8"/>
<line x1="291.52" y1="203.5" x2="291.52" y2="204.8" stroke="#555" stroke-width="0.6"/>
<line x1="294.51" y1="203.5" x2="294.51" y2="204.8" stroke="#555" stroke-width="0.6"/>
<line x1="296.64" y1="203.5" x2="296.64" y2="204.8" stroke="#555" stroke-width="0.6"/>
<line x1="298.28" y1="203.5" x2="298.28" y2="204.8" stroke="#555" stroke-width="0.6"/>
<line x1="299.63" y1="203.5" x2="299.63" y2="204.8" stroke="#555" stroke-width="0.6"/>
<line x1="300.77" y1="203.5" x2="300.77" y2="204.8" stroke="#555" stroke-width="0.6"/>
<line x1="301.75" y1="203.5" x2="301.75" y2="204.8" stroke="#555" stroke-width="0.6"/>
<line x1="302.62" y1="203.5" x2="302.62" y2="204.8" stroke="#555" stroke-width="0.6"/>
<line x1="255" y1="203.5" x2="255" y2="204.8" stroke="#555" stroke-width="0.6"/>
<line x1="258" y1="203.5" x2="258" y2="204.8" stroke="#555" stroke-width="0.6"/>
<line x1="261" y1="203.5" x2="261" y2="204.8" stroke="#555" stroke-width="0.6"/>
<line x1="264" y1="203.5" x2="264" y2="204.8" stroke="#555" stroke-width="0.6"/>
<line x1="267" y1="203.5" x2="267" y2="204.8" stroke="#555" stroke-width="0.6"/>
<line x1="274.5" y1="203.5" x2="274.5" y2="204.8" stroke="#555" stroke-width="0.6"/>
<line x1="278" y1="203.5" x2="278" y2="204.8" stroke="#555" stroke-width="0.6"/>
<line x1="281.5" y1="203.5" x2="281.5" y2="204.8" stroke="#555" stroke-width="0.6"/>
<text x="246.2" y="216.4" font-size="6.4" fill="#1e1e1e" stroke="#1e1e1e" stroke-width="0.15" textLength="7.6" lengthAdjust="spacingAndGlyphs">-10</text>
<text x="254" y="213.3" font-size="4.6" fill="#1e1e1e" stroke="#1e1e1e" stroke-width="0.15">4</text>
<text x="268.9" y="216.4" font-size="6.4" fill="#1e1e1e" stroke="#1e1e1e" stroke-width="0.15" textLength="3.4" lengthAdjust="spacingAndGlyphs">0</text>
<text x="282.4" y="216.4" font-size="6.4" fill="#1e1e1e" stroke="#1e1e1e" stroke-width="0.15" textLength="6.2" lengthAdjust="spacingAndGlyphs">10</text>
<text x="288.7" y="213.3" font-size="4.6" fill="#1e1e1e" stroke="#1e1e1e" stroke-width="0.15">4</text>
<text x="299.9" y="216.4" font-size="6.4" fill="#1e1e1e" stroke="#1e1e1e" stroke-width="0.15" textLength="6.2" lengthAdjust="spacingAndGlyphs">10</text>
<text x="306.2" y="213.3" font-size="4.6" fill="#1e1e1e" stroke="#1e1e1e" stroke-width="0.15">5</text>
<text x="263.9" y="228.7" font-size="8.4" fill="#1a1a1a" stroke="#1a1a1a" stroke-width="0.15" textLength="30.2" lengthAdjust="spacingAndGlyphs">CD150-PE</text>
<text x="224.4" y="187.9" font-size="10" fill="#1a1a1a" stroke="#1a1a1a" stroke-width="0.15" textLength="32.1" lengthAdjust="spacingAndGlyphs" transform="rotate(-90 224.4 187.9)">CD48-FITC</text>
<path d="M270.9,203.5 V180 H310.3" fill="none" stroke="#7c7c7c" stroke-width="1.2"/>
<text x="290.6" y="165.4" font-size="5" text-anchor="middle" fill="#1e1e1e" stroke="#1e1e1e" stroke-width="0.15" textLength="9.4" lengthAdjust="spacingAndGlyphs">HSCs</text>
<text x="290.8" y="170.6" font-size="5" text-anchor="middle" fill="#1e1e1e" stroke="#1e1e1e" stroke-width="0.15" textLength="6.6" lengthAdjust="spacingAndGlyphs">15.7</text>
<rect x="247.5" y="140.5" width="63" height="63" fill="none" stroke="#1a1a1a" stroke-width="1"/>
<line x1="383.4" y1="20.8" x2="383.4" y2="98.9" stroke="#1a1a1a" stroke-width="1.1"/>
<line x1="383" y1="98.5" x2="495.8" y2="98.5" stroke="#1a1a1a" stroke-width="1.1"/>
<line x1="380.2" y1="98.5" x2="383.4" y2="98.5" stroke="#1a1a1a" stroke-width="0.9"/>
<text x="377.2" y="100.8" font-size="6.6" text-anchor="end" fill="#1a1a1a" stroke="#1a1a1a" stroke-width="0.15">0</text>
<line x1="380.2" y1="79.75" x2="383.4" y2="79.75" stroke="#1a1a1a" stroke-width="0.9"/>
<text x="377.2" y="82.05" font-size="6.6" text-anchor="end" fill="#1a1a1a" stroke="#1a1a1a" stroke-width="0.15" textLength="7" lengthAdjust="spacingAndGlyphs">20</text>
<line x1="380.2" y1="61" x2="383.4" y2="61" stroke="#1a1a1a" stroke-width="0.9"/>
<text x="377.2" y="63.3" font-size="6.6" text-anchor="end" fill="#1a1a1a" stroke="#1a1a1a" stroke-width="0.15" textLength="7" lengthAdjust="spacingAndGlyphs">40</text>
<line x1="380.2" y1="42.25" x2="383.4" y2="42.25" stroke="#1a1a1a" stroke-width="0.9"/>
<text x="377.2" y="44.55" font-size="6.6" text-anchor="end" fill="#1a1a1a" stroke="#1a1a1a" stroke-width="0.15" textLength="7" lengthAdjust="spacingAndGlyphs">60</text>
<line x1="380.2" y1="23.5" x2="383.4" y2="23.5" stroke="#1a1a1a" stroke-width="0.9"/>
<text x="377.2" y="25.8" font-size="6.6" text-anchor="end" fill="#1a1a1a" stroke="#1a1a1a" stroke-width="0.15" textLength="7" lengthAdjust="spacingAndGlyphs">80</text>
<text x="354.3" y="96.5" font-size="6.5" fill="#1a1a1a" stroke="#1a1a1a" stroke-width="0.15" textLength="67.5" lengthAdjust="spacingAndGlyphs" transform="rotate(-90 354.3 96.5)">Erythroid precursor cell</text>
<text x="363.3" y="90.4" font-size="6.5" fill="#1a1a1a" stroke="#1a1a1a" stroke-width="0.15" textLength="60.7" lengthAdjust="spacingAndGlyphs" transform="rotate(-90 363.3 90.4)">frequency (% of live)</text>
<line x1="386.9" y1="104.4" x2="401.9" y2="104.4" stroke="#1a1a1a" stroke-width="1.1"/>
<text x="394.4" y="112.8" font-size="6.4" text-anchor="middle" fill="#1e1e1e" stroke="#1e1e1e" stroke-width="0.15">S1</text>
<line x1="409.4" y1="104.4" x2="424.4" y2="104.4" stroke="#1a1a1a" stroke-width="1.1"/>
<text x="416.9" y="112.8" font-size="6.4" text-anchor="middle" fill="#1e1e1e" stroke="#1e1e1e" stroke-width="0.15">S2</text>
<line x1="431.9" y1="104.4" x2="446.9" y2="104.4" stroke="#1a1a1a" stroke-width="1.1"/>
<text x="439.4" y="112.8" font-size="6.4" text-anchor="middle" fill="#1e1e1e" stroke="#1e1e1e" stroke-width="0.15">S3</text>
<line x1="454.4" y1="104.4" x2="469.4" y2="104.4" stroke="#1a1a1a" stroke-width="1.1"/>
<text x="461.9" y="112.8" font-size="6.4" text-anchor="middle" fill="#1e1e1e" stroke="#1e1e1e" stroke-width="0.15">S4</text>
<line x1="476.9" y1="104.4" x2="491.9" y2="104.4" stroke="#1a1a1a" stroke-width="1.1"/>
<text x="484.4" y="112.8" font-size="6.4" text-anchor="middle" fill="#1e1e1e" stroke="#1e1e1e" stroke-width="0.15">S5</text>
<line x1="386.9" y1="98.5" x2="386.9" y2="100.7" stroke="#222" stroke-width="0.8"/>
<circle cx="386.5" cy="97.3" r="0.95" fill="#2b2a8e"/>
<path d="M386.0,99.0h1.9l-0.95,-1.6z" fill="#2b2a8e"/>
<circle cx="386.7" cy="97.6" r="0.95" fill="#2b2a8e"/>
<path d="M386.3,98.7h1.9l-0.95,-1.6z" fill="#2b2a8e"/>
<circle cx="387.8" cy="97.9" r="0.95" fill="#2b2a8e"/>
<path d="M387.6,98.6h1.9l-0.95,-1.6z" fill="#2b2a8e"/>
<circle cx="386.1" cy="98.2" r="0.95" fill="#2b2a8e"/>
<path d="M386.5,98.6h1.9l-0.95,-1.6z" fill="#2b2a8e"/>
<circle cx="387.6" cy="98.0" r="0.95" fill="#2b2a8e"/>
<path d="M385.2,98.0h1.9l-0.95,-1.6z" fill="#2b2a8e"/>
<line x1="384.1" y1="97.75" x2="389.7" y2="97.75" stroke="#111" stroke-width="0.9"/>
<line x1="386.9" y1="97.47" x2="386.9" y2="98.03" stroke="#111" stroke-width="0.8"/>
<line x1="385.4" y1="97.47" x2="388.4" y2="97.47" stroke="#111" stroke-width="0.8"/>
<line x1="385.4" y1="98.03" x2="388.4" y2="98.03" stroke="#111" stroke-width="0.8"/>
<line x1="394.4" y1="98.5" x2="394.4" y2="100.7" stroke="#222" stroke-width="0.8"/>
<circle cx="393.9" cy="97.7" r="0.95" fill="#d63c2a"/>
<path d="M392.0,98.1h1.9l-0.95,-1.6z" fill="#d63c2a"/>
<circle cx="395.0" cy="97.6" r="0.95" fill="#d63c2a"/>
<path d="M395.0,98.6h1.9l-0.95,-1.6z" fill="#d63c2a"/>
<circle cx="393.3" cy="97.8" r="0.95" fill="#d63c2a"/>
<path d="M393.9,98.3h1.9l-0.95,-1.6z" fill="#d63c2a"/>
<circle cx="393.7" cy="97.3" r="0.95" fill="#d63c2a"/>
<path d="M394.3,98.6h1.9l-0.95,-1.6z" fill="#d63c2a"/>
<circle cx="395.2" cy="97.8" r="0.95" fill="#d63c2a"/>
<path d="M392.4,98.2h1.9l-0.95,-1.6z" fill="#d63c2a"/>
<line x1="391.6" y1="97.75" x2="397.2" y2="97.75" stroke="#111" stroke-width="0.9"/>
<line x1="394.4" y1="97.47" x2="394.4" y2="98.03" stroke="#111" stroke-width="0.8"/>
<line x1="392.9" y1="97.47" x2="395.9" y2="97.47" stroke="#111" stroke-width="0.8"/>
<line x1="392.9" y1="98.03" x2="395.9" y2="98.03" stroke="#111" stroke-width="0.8"/>
<line x1="401.9" y1="98.5" x2="401.9" y2="100.7" stroke="#222" stroke-width="0.8"/>
<circle cx="401.8" cy="98.2" r="0.95" fill="#151515"/>
<path d="M399.7,98.3h1.9l-0.95,-1.6z" fill="#151515"/>
<circle cx="402.6" cy="97.4" r="0.95" fill="#151515"/>
<path d="M400.2,98.6h1.9l-0.95,-1.6z" fill="#151515"/>
<circle cx="403.2" cy="98.1" r="0.95" fill="#151515"/>
<path d="M400.1,98.4h1.9l-0.95,-1.6z" fill="#151515"/>
<circle cx="402.1" cy="97.7" r="0.95" fill="#151515"/>
<path d="M400.6,97.9h1.9l-0.95,-1.6z" fill="#151515"/>
<circle cx="402.3" cy="97.4" r="0.95" fill="#151515"/>
<path d="M399.9,98.3h1.9l-0.95,-1.6z" fill="#151515"/>
<line x1="399.1" y1="97.66" x2="404.7" y2="97.66" stroke="#111" stroke-width="0.9"/>
<line x1="401.9" y1="97.28" x2="401.9" y2="98.03" stroke="#111" stroke-width="0.8"/>
<line x1="400.4" y1="97.28" x2="403.4" y2="97.28" stroke="#111" stroke-width="0.8"/>
<line x1="400.4" y1="98.03" x2="403.4" y2="98.03" stroke="#111" stroke-width="0.8"/>
<line x1="409.4" y1="98.5" x2="409.4" y2="100.7" stroke="#222" stroke-width="0.8"/>
<circle cx="410.4" cy="96.3" r="0.95" fill="#2b2a8e"/>
<path d="M409.5,98.3h1.9l-0.95,-1.6z" fill="#2b2a8e"/>
<circle cx="407.8" cy="96.6" r="0.95" fill="#2b2a8e"/>
<path d="M408.0,97.9h1.9l-0.95,-1.6z" fill="#2b2a8e"/>
<circle cx="407.9" cy="96.2" r="0.95" fill="#2b2a8e"/>
<path d="M407.3,98.3h1.9l-0.95,-1.6z" fill="#2b2a8e"/>
<circle cx="408.4" cy="97.1" r="0.95" fill="#2b2a8e"/>
<path d="M409.7,97.0h1.9l-0.95,-1.6z" fill="#2b2a8e"/>
<circle cx="408.1" cy="96.0" r="0.95" fill="#2b2a8e"/>
<path d="M407.7,98.3h1.9l-0.95,-1.6z" fill="#2b2a8e"/>
<line x1="406.6" y1="96.62" x2="412.2" y2="96.62" stroke="#111" stroke-width="0.9"/>
<line x1="409.4" y1="96.06" x2="409.4" y2="97.19" stroke="#111" stroke-width="0.8"/>
<line x1="407.9" y1="96.06" x2="410.9" y2="96.06" stroke="#111" stroke-width="0.8"/>
<line x1="407.9" y1="97.19" x2="410.9" y2="97.19" stroke="#111" stroke-width="0.8"/>
<line x1="416.9" y1="98.5" x2="416.9" y2="100.7" stroke="#222" stroke-width="0.8"/>
<circle cx="417.2" cy="97.7" r="0.95" fill="#d63c2a"/>
<path d="M416.6,95.7h1.9l-0.95,-1.6z" fill="#d63c2a"/>
<circle cx="417.5" cy="95.7" r="0.95" fill="#d63c2a"/>
<path d="M416.0,96.5h1.9l-0.95,-1.6z" fill="#d63c2a"/>
<circle cx="417.1" cy="95.4" r="0.95" fill="#d63c2a"/>
<path d="M414.9,96.8h1.9l-0.95,-1.6z" fill="#d63c2a"/>
<circle cx="416.9" cy="96.9" r="0.95" fill="#d63c2a"/>
<path d="M414.6,97.8h1.9l-0.95,-1.6z" fill="#d63c2a"/>
<circle cx="416.8" cy="97.0" r="0.95" fill="#d63c2a"/>
<path d="M416.1,95.9h1.9l-0.95,-1.6z" fill="#d63c2a"/>
<line x1="414.1" y1="96.34" x2="419.7" y2="96.34" stroke="#111" stroke-width="0.9"/>
<line x1="416.9" y1="95.5" x2="416.9" y2="97.19" stroke="#111" stroke-width="0.8"/>
<line x1="415.4" y1="95.5" x2="418.4" y2="95.5" stroke="#111" stroke-width="0.8"/>
<line x1="415.4" y1="97.19" x2="418.4" y2="97.19" stroke="#111" stroke-width="0.8"/>
<line x1="424.4" y1="98.5" x2="424.4" y2="100.7" stroke="#222" stroke-width="0.8"/>
<circle cx="423.9" cy="96.5" r="0.95" fill="#151515"/>
<path d="M422.9,97.6h1.9l-0.95,-1.6z" fill="#151515"/>
<circle cx="424.3" cy="96.5" r="0.95" fill="#151515"/>
<path d="M422.0,97.5h1.9l-0.95,-1.6z" fill="#151515"/>
<circle cx="424.6" cy="96.2" r="0.95" fill="#151515"/>
<path d="M425.0,97.8h1.9l-0.95,-1.6z" fill="#151515"/>
<circle cx="424.6" cy="96.5" r="0.95" fill="#151515"/>
<path d="M424.3,97.4h1.9l-0.95,-1.6z" fill="#151515"/>
<circle cx="426.0" cy="96.3" r="0.95" fill="#151515"/>
<path d="M424.7,97.2h1.9l-0.95,-1.6z" fill="#151515"/>
<line x1="421.6" y1="96.62" x2="427.2" y2="96.62" stroke="#111" stroke-width="0.9"/>
<line x1="424.4" y1="96.06" x2="424.4" y2="97.19" stroke="#111" stroke-width="0.8"/>
<line x1="422.9" y1="96.06" x2="425.9" y2="96.06" stroke="#111" stroke-width="0.8"/>
<line x1="422.9" y1="97.19" x2="425.9" y2="97.19" stroke="#111" stroke-width="0.8"/>
<line x1="431.9" y1="98.5" x2="431.9" y2="100.7" stroke="#222" stroke-width="0.8"/>
<circle cx="432.2" cy="43.1" r="0.95" fill="#2b2a8e"/>
<path d="M429.5,42.9h1.9l-0.95,-1.6z" fill="#2b2a8e"/>
<circle cx="431.7" cy="41.7" r="0.95" fill="#2b2a8e"/>
<path d="M430.6,40.1h1.9l-0.95,-1.6z" fill="#2b2a8e"/>
<circle cx="432.6" cy="37.6" r="0.95" fill="#2b2a8e"/>
<path d="M429.5,35.7h1.9l-0.95,-1.6z" fill="#2b2a8e"/>
<circle cx="430.7" cy="40.0" r="0.95" fill="#2b2a8e"/>
<path d="M431.0,38.0h1.9l-0.95,-1.6z" fill="#2b2a8e"/>
<circle cx="431.6" cy="39.0" r="0.95" fill="#2b2a8e"/>
<path d="M431.5,35.7h1.9l-0.95,-1.6z" fill="#2b2a8e"/>
<line x1="429.1" y1="39.44" x2="434.7" y2="39.44" stroke="#111" stroke-width="0.9"/>
<line x1="431.9" y1="36.62" x2="431.9" y2="42.25" stroke="#111" stroke-width="0.8"/>
<line x1="430.4" y1="36.62" x2="433.4" y2="36.62" stroke="#111" stroke-width="0.8"/>
<line x1="430.4" y1="42.25" x2="433.4" y2="42.25" stroke="#111" stroke-width="0.8"/>
<line x1="439.4" y1="98.5" x2="439.4" y2="100.7" stroke="#222" stroke-width="0.8"/>
<circle cx="438.1" cy="45.4" r="0.95" fill="#d63c2a"/>
<path d="M438.1,47.9h1.9l-0.95,-1.6z" fill="#d63c2a"/>
<circle cx="440.0" cy="36.3" r="0.95" fill="#d63c2a"/>
<path d="M439.8,28.5h1.9l-0.95,-1.6z" fill="#d63c2a"/>
<circle cx="441.2" cy="41.9" r="0.95" fill="#d63c2a"/>
<path d="M437.2,45.0h1.9l-0.95,-1.6z" fill="#d63c2a"/>
<circle cx="439.5" cy="49.0" r="0.95" fill="#d63c2a"/>
<path d="M439.8,51.0h1.9l-0.95,-1.6z" fill="#d63c2a"/>
<circle cx="437.8" cy="36.0" r="0.95" fill="#d63c2a"/>
<path d="M438.8,34.2h1.9l-0.95,-1.6z" fill="#d63c2a"/>
<circle cx="438.2" cy="30.1" r="0.95" fill="#d63c2a"/>
<path d="M439.4,52.4h1.9l-0.95,-1.6z" fill="#d63c2a"/>
<circle cx="441.0" cy="31.9" r="0.95" fill="#d63c2a"/>
<line x1="436.6" y1="40" x2="442.2" y2="40" stroke="#111" stroke-width="0.9"/>
<line x1="439.4" y1="32.31" x2="439.4" y2="47.69" stroke="#111" stroke-width="0.8"/>
<line x1="437.9" y1="32.31" x2="440.9" y2="32.31" stroke="#111" stroke-width="0.8"/>
<line x1="437.9" y1="47.69" x2="440.9" y2="47.69" stroke="#111" stroke-width="0.8"/>
<line x1="446.9" y1="98.5" x2="446.9" y2="100.7" stroke="#222" stroke-width="0.8"/>
<circle cx="446.2" cy="43.6" r="0.95" fill="#151515"/>
<path d="M445.5,42.9h1.9l-0.95,-1.6z" fill="#151515"/>
<circle cx="447.9" cy="36.7" r="0.95" fill="#151515"/>
<path d="M445.9,38.4h1.9l-0.95,-1.6z" fill="#151515"/>
<circle cx="447.9" cy="32.3" r="0.95" fill="#151515"/>
<path d="M446.0,51.1h1.9l-0.95,-1.6z" fill="#151515"/>
<circle cx="445.7" cy="36.5" r="0.95" fill="#151515"/>
<path d="M445.7,44.8h1.9l-0.95,-1.6z" fill="#151515"/>
<circle cx="448.2" cy="40.6" r="0.95" fill="#151515"/>
<path d="M446.2,37.4h1.9l-0.95,-1.6z" fill="#151515"/>
<circle cx="448.6" cy="57.2" r="0.95" fill="#151515"/>
<path d="M444.2,30.8h1.9l-0.95,-1.6z" fill="#151515"/>
<line x1="444.1" y1="41.31" x2="449.7" y2="41.31" stroke="#111" stroke-width="0.9"/>
<line x1="446.9" y1="35.69" x2="446.9" y2="46.94" stroke="#111" stroke-width="0.8"/>
<line x1="445.4" y1="35.69" x2="448.4" y2="35.69" stroke="#111" stroke-width="0.8"/>
<line x1="445.4" y1="46.94" x2="448.4" y2="46.94" stroke="#111" stroke-width="0.8"/>
<line x1="454.4" y1="98.5" x2="454.4" y2="100.7" stroke="#222" stroke-width="0.8"/>
<circle cx="453.8" cy="88.1" r="0.95" fill="#2b2a8e"/>
<path d="M454.1,87.6h1.9l-0.95,-1.6z" fill="#2b2a8e"/>
<circle cx="454.8" cy="85.5" r="0.95" fill="#2b2a8e"/>
<path d="M454.5,89.4h1.9l-0.95,-1.6z" fill="#2b2a8e"/>
<circle cx="454.3" cy="86.4" r="0.95" fill="#2b2a8e"/>
<path d="M451.7,88.0h1.9l-0.95,-1.6z" fill="#2b2a8e"/>
<circle cx="454.5" cy="83.5" r="0.95" fill="#2b2a8e"/>
<path d="M454.7,89.6h1.9l-0.95,-1.6z" fill="#2b2a8e"/>
<circle cx="454.9" cy="84.8" r="0.95" fill="#2b2a8e"/>
<path d="M454.0,89.5h1.9l-0.95,-1.6z" fill="#2b2a8e"/>
<line x1="451.6" y1="87.25" x2="457.2" y2="87.25" stroke="#111" stroke-width="0.9"/>
<line x1="454.4" y1="84.91" x2="454.4" y2="89.59" stroke="#111" stroke-width="0.8"/>
<line x1="452.9" y1="84.91" x2="455.9" y2="84.91" stroke="#111" stroke-width="0.8"/>
<line x1="452.9" y1="89.59" x2="455.9" y2="89.59" stroke="#111" stroke-width="0.8"/>
<line x1="461.9" y1="98.5" x2="461.9" y2="100.7" stroke="#222" stroke-width="0.8"/>
<circle cx="461.5" cy="88.5" r="0.95" fill="#d63c2a"/>
<path d="M460.1,95.2h1.9l-0.95,-1.6z" fill="#d63c2a"/>
<circle cx="461.5" cy="83.8" r="0.95" fill="#d63c2a"/>
<path d="M461.5,95.2h1.9l-0.95,-1.6z" fill="#d63c2a"/>
<circle cx="460.7" cy="84.3" r="0.95" fill="#d63c2a"/>
<path d="M460.9,88.1h1.9l-0.95,-1.6z" fill="#d63c2a"/>
<circle cx="462.5" cy="82.2" r="0.95" fill="#d63c2a"/>
<path d="M461.7,88.3h1.9l-0.95,-1.6z" fill="#d63c2a"/>
<circle cx="460.1" cy="91.0" r="0.95" fill="#d63c2a"/>
<path d="M462.1,86.4h1.9l-0.95,-1.6z" fill="#d63c2a"/>
<line x1="459.1" y1="87.25" x2="464.7" y2="87.25" stroke="#111" stroke-width="0.9"/>
<line x1="461.9" y1="82.75" x2="461.9" y2="91.75" stroke="#111" stroke-width="0.8"/>
<line x1="460.4" y1="82.75" x2="463.4" y2="82.75" stroke="#111" stroke-width="0.8"/>
<line x1="460.4" y1="91.75" x2="463.4" y2="91.75" stroke="#111" stroke-width="0.8"/>
<line x1="469.4" y1="98.5" x2="469.4" y2="100.7" stroke="#222" stroke-width="0.8"/>
<circle cx="470.8" cy="81.1" r="0.95" fill="#151515"/>
<path d="M467.1,81.1h1.9l-0.95,-1.6z" fill="#151515"/>
<circle cx="469.8" cy="93.8" r="0.95" fill="#151515"/>
<path d="M469.9,86.4h1.9l-0.95,-1.6z" fill="#151515"/>
<circle cx="468.3" cy="86.9" r="0.95" fill="#151515"/>
<path d="M468.1,92.0h1.9l-0.95,-1.6z" fill="#151515"/>
<circle cx="470.2" cy="83.8" r="0.95" fill="#151515"/>
<path d="M469.3,89.2h1.9l-0.95,-1.6z" fill="#151515"/>
<circle cx="469.2" cy="93.8" r="0.95" fill="#151515"/>
<path d="M468.9,88.3h1.9l-0.95,-1.6z" fill="#151515"/>
<line x1="466.6" y1="86.31" x2="472.2" y2="86.31" stroke="#111" stroke-width="0.9"/>
<line x1="469.4" y1="81.62" x2="469.4" y2="91" stroke="#111" stroke-width="0.8"/>
<line x1="467.9" y1="81.62" x2="470.9" y2="81.62" stroke="#111" stroke-width="0.8"/>
<line x1="467.9" y1="91" x2="470.9" y2="91" stroke="#111" stroke-width="0.8"/>
<line x1="476.9" y1="98.5" x2="476.9" y2="100.7" stroke="#222" stroke-width="0.8"/>
<circle cx="475.6" cy="96.7" r="0.95" fill="#2b2a8e"/>
<path d="M474.2,95.4h1.9l-0.95,-1.6z" fill="#2b2a8e"/>
<circle cx="478.2" cy="96.0" r="0.95" fill="#2b2a8e"/>
<path d="M477.7,97.9h1.9l-0.95,-1.6z" fill="#2b2a8e"/>
<circle cx="476.0" cy="96.9" r="0.95" fill="#2b2a8e"/>
<path d="M475.1,97.0h1.9l-0.95,-1.6z" fill="#2b2a8e"/>
<circle cx="475.8" cy="94.7" r="0.95" fill="#2b2a8e"/>
<path d="M476.3,97.1h1.9l-0.95,-1.6z" fill="#2b2a8e"/>
<circle cx="476.8" cy="96.0" r="0.95" fill="#2b2a8e"/>
<path d="M477.1,96.4h1.9l-0.95,-1.6z" fill="#2b2a8e"/>
<line x1="474.1" y1="96.16" x2="479.7" y2="96.16" stroke="#111" stroke-width="0.9"/>
<line x1="476.9" y1="95.22" x2="476.9" y2="97.09" stroke="#111" stroke-width="0.8"/>
<line x1="475.4" y1="95.22" x2="478.4" y2="95.22" stroke="#111" stroke-width="0.8"/>
<line x1="475.4" y1="97.09" x2="478.4" y2="97.09" stroke="#111" stroke-width="0.8"/>
<line x1="484.4" y1="98.5" x2="484.4" y2="100.7" stroke="#222" stroke-width="0.8"/>
<circle cx="485.9" cy="92.7" r="0.95" fill="#d63c2a"/>
<path d="M484.9,95.4h1.9l-0.95,-1.6z" fill="#d63c2a"/>
<circle cx="482.7" cy="96.9" r="0.95" fill="#d63c2a"/>
<path d="M484.0,97.2h1.9l-0.95,-1.6z" fill="#d63c2a"/>
<circle cx="483.8" cy="93.4" r="0.95" fill="#d63c2a"/>
<path d="M482.1,93.2h1.9l-0.95,-1.6z" fill="#d63c2a"/>
<circle cx="483.1" cy="93.0" r="0.95" fill="#d63c2a"/>
<path d="M484.5,92.7h1.9l-0.95,-1.6z" fill="#d63c2a"/>
<circle cx="486.1" cy="93.1" r="0.95" fill="#d63c2a"/>
<path d="M483.5,95.4h1.9l-0.95,-1.6z" fill="#d63c2a"/>
<line x1="481.6" y1="94.75" x2="487.2" y2="94.75" stroke="#111" stroke-width="0.9"/>
<line x1="484.4" y1="92.41" x2="484.4" y2="97.09" stroke="#111" stroke-width="0.8"/>
<line x1="482.9" y1="92.41" x2="485.9" y2="92.41" stroke="#111" stroke-width="0.8"/>
<line x1="482.9" y1="97.09" x2="485.9" y2="97.09" stroke="#111" stroke-width="0.8"/>
<line x1="491.9" y1="98.5" x2="491.9" y2="100.7" stroke="#222" stroke-width="0.8"/>
<circle cx="492.4" cy="95.0" r="0.95" fill="#151515"/>
<path d="M491.8,95.8h1.9l-0.95,-1.6z" fill="#151515"/>
<circle cx="492.1" cy="91.9" r="0.95" fill="#151515"/>
<path d="M490.0,99.0h1.9l-0.95,-1.6z" fill="#151515"/>
<circle cx="490.8" cy="93.9" r="0.95" fill="#151515"/>
<path d="M492.7,92.7h1.9l-0.95,-1.6z" fill="#151515"/>
<circle cx="490.1" cy="96.7" r="0.95" fill="#151515"/>
<path d="M491.6,92.0h1.9l-0.95,-1.6z" fill="#151515"/>
<circle cx="493.3" cy="93.5" r="0.95" fill="#151515"/>
<path d="M490.0,96.8h1.9l-0.95,-1.6z" fill="#151515"/>
<line x1="489.1" y1="94.75" x2="494.7" y2="94.75" stroke="#111" stroke-width="0.9"/>
<line x1="491.9" y1="92.41" x2="491.9" y2="97.09" stroke="#111" stroke-width="0.8"/>
<line x1="490.4" y1="92.41" x2="493.4" y2="92.41" stroke="#111" stroke-width="0.8"/>
<line x1="490.4" y1="97.09" x2="493.4" y2="97.09" stroke="#111" stroke-width="0.8"/>
<text x="477" y="39.5" font-size="6.3" fill="#4642a0" stroke="#4642a0" stroke-width="0.15" font-style="italic" textLength="17.9" lengthAdjust="spacingAndGlyphs">Gdf11</text>
<text x="495.2" y="36.1" font-size="4.3" fill="#4642a0" stroke="#4642a0" stroke-width="0.15" font-style="italic" textLength="6.3" lengthAdjust="spacingAndGlyphs">+/+</text>
<text x="477" y="49.9" font-size="6.3" fill="#d65243" stroke="#d65243" stroke-width="0.15" font-style="italic" textLength="17.9" lengthAdjust="spacingAndGlyphs">Gdf11</text>
<text x="495.2" y="46.5" font-size="4.3" fill="#d65243" stroke="#d65243" stroke-width="0.15" font-style="italic" textLength="5.5" lengthAdjust="spacingAndGlyphs">+/-</text>
<text x="477" y="60.2" font-size="6.3" fill="#2a2a2a" stroke="#2a2a2a" stroke-width="0.15" font-style="italic" textLength="17.9" lengthAdjust="spacingAndGlyphs">Gdf11</text>
<text x="495.2" y="56.8" font-size="4.3" fill="#2a2a2a" stroke="#2a2a2a" stroke-width="0.15" font-style="italic" textLength="5" lengthAdjust="spacingAndGlyphs">-/-</text>
<line x1="383.3" y1="144.8" x2="383.3" y2="222.7" stroke="#1a1a1a" stroke-width="1.1"/>
<line x1="382.9" y1="222.3" x2="495.8" y2="222.3" stroke="#1a1a1a" stroke-width="1.1"/>
<line x1="380.2" y1="222.3" x2="383.3" y2="222.3" stroke="#1a1a1a" stroke-width="0.9"/>
<text x="376.8" y="224.7" font-size="6.6" text-anchor="end" fill="#1a1a1a" stroke="#1a1a1a" stroke-width="0.15" textLength="12.5" lengthAdjust="spacingAndGlyphs">0.00</text>
<line x1="380.2" y1="207.18" x2="383.3" y2="207.18" stroke="#1a1a1a" stroke-width="0.9"/>
<text x="376.8" y="209.58" font-size="6.6" text-anchor="end" fill="#1a1a1a" stroke="#1a1a1a" stroke-width="0.15" textLength="12.5" lengthAdjust="spacingAndGlyphs">0.02</text>
<line x1="380.2" y1="192.06" x2="383.3" y2="192.06" stroke="#1a1a1a" stroke-width="0.9"/>
<text x="376.8" y="194.46" font-size="6.6" text-anchor="end" fill="#1a1a1a" stroke="#1a1a1a" stroke-width="0.15" textLength="12.5" lengthAdjust="spacingAndGlyphs">0.04</text>
<line x1="380.2" y1="176.94" x2="383.3" y2="176.94" stroke="#1a1a1a" stroke-width="0.9"/>
<text x="376.8" y="179.34" font-size="6.6" text-anchor="end" fill="#1a1a1a" stroke="#1a1a1a" stroke-width="0.15" textLength="12.5" lengthAdjust="spacingAndGlyphs">0.06</text>
<line x1="380.2" y1="161.82" x2="383.3" y2="161.82" stroke="#1a1a1a" stroke-width="0.9"/>
<text x="376.8" y="164.22" font-size="6.6" text-anchor="end" fill="#1a1a1a" stroke="#1a1a1a" stroke-width="0.15" textLength="12.5" lengthAdjust="spacingAndGlyphs">0.08</text>
<line x1="380.2" y1="146.7" x2="383.3" y2="146.7" stroke="#1a1a1a" stroke-width="0.9"/>
<text x="376.8" y="149.1" font-size="6.6" text-anchor="end" fill="#1a1a1a" stroke="#1a1a1a" stroke-width="0.15" textLength="12.5" lengthAdjust="spacingAndGlyphs">0.10</text>
<text x="359.1" y="221.7" font-size="6.5" fill="#1a1a1a" stroke="#1a1a1a" stroke-width="0.15" textLength="76.6" lengthAdjust="spacingAndGlyphs" transform="rotate(-90 359.1 221.7)">HSC frequency (% of live)</text>
<circle cx="399.8" cy="195.6" r="1.25" fill="#2b2a8e"/>
<circle cx="402.3" cy="205.1" r="1.25" fill="#2b2a8e"/>
<circle cx="396.6" cy="209.3" r="1.25" fill="#2b2a8e"/>
<circle cx="399.8" cy="210.8" r="1.25" fill="#2b2a8e"/>
<circle cx="403.0" cy="210.4" r="1.25" fill="#2b2a8e"/>
<circle cx="406.2" cy="210.0" r="1.25" fill="#2b2a8e"/>
<circle cx="410.4" cy="208.3" r="1.25" fill="#2b2a8e"/>
<circle cx="412.5" cy="209.3" r="1.25" fill="#2b2a8e"/>
<path d="M403.8,199.2h2.6l-1.3,-2.3z" fill="#2b2a8e"/>
<path d="M390.0,207.3h2.6l-1.3,-2.3z" fill="#2b2a8e"/>
<path d="M400.6,217.8h2.6l-1.3,-2.3z" fill="#2b2a8e"/>
<path d="M392.2,209.9h2.6l-1.3,-2.3z" fill="#2b2a8e"/>
<path d="M407.2,214.3h2.6l-1.3,-2.3z" fill="#2b2a8e"/>
<circle cx="440.0" cy="200.9" r="1.25" fill="#d63c2a"/>
<circle cx="429.4" cy="205.1" r="1.25" fill="#d63c2a"/>
<circle cx="433.7" cy="207.8" r="1.25" fill="#d63c2a"/>
<circle cx="445.3" cy="209.3" r="1.25" fill="#d63c2a"/>
<circle cx="446.3" cy="210.8" r="1.25" fill="#d63c2a"/>
<circle cx="433.2" cy="214.2" r="1.25" fill="#d63c2a"/>
<circle cx="436.8" cy="214.6" r="1.25" fill="#d63c2a"/>
<circle cx="442.1" cy="214.6" r="1.25" fill="#d63c2a"/>
<circle cx="440.4" cy="211.4" r="1.25" fill="#d63c2a"/>
<path d="M438.7,192.9h2.6l-1.3,-2.3z" fill="#d63c2a"/>
<path d="M448.9,207.3h2.6l-1.3,-2.3z" fill="#d63c2a"/>
<circle cx="477.4" cy="200.9" r="1.25" fill="#151515"/>
<circle cx="467.0" cy="213.0" r="1.15" fill="#151515"/>
<circle cx="470.5" cy="215.5" r="1.15" fill="#151515"/>
<circle cx="473.5" cy="212.2" r="1.15" fill="#151515"/>
<circle cx="476.0" cy="216.3" r="1.15" fill="#151515"/>
<circle cx="479.0" cy="213.5" r="1.15" fill="#151515"/>
<circle cx="482.5" cy="215.8" r="1.15" fill="#151515"/>
<circle cx="486.0" cy="213.3" r="1.15" fill="#151515"/>
<circle cx="488.7" cy="214.5" r="1.15" fill="#151515"/>
<circle cx="472.0" cy="210.8" r="1.15" fill="#151515"/>
<circle cx="484.0" cy="211.0" r="1.15" fill="#151515"/>
<path d="M476.7,211.7h2.6l-1.3,-2.3z" fill="#151515"/>
<path d="M479.7,217.5h2.6l-1.3,-2.3z" fill="#151515"/>
<line x1="390.1" y1="207.8" x2="414.5" y2="207.8" stroke="#111" stroke-width="0.9"/>
<line x1="402.3" y1="201.9" x2="402.3" y2="214" stroke="#111" stroke-width="0.8"/>
<line x1="396.5" y1="201.9" x2="408.1" y2="201.9" stroke="#111" stroke-width="0.9"/>
<line x1="396.5" y1="214" x2="408.1" y2="214" stroke="#111" stroke-width="0.9"/>
<line x1="427.3" y1="207.2" x2="452.7" y2="207.2" stroke="#111" stroke-width="0.9"/>
<line x1="440" y1="200.9" x2="440" y2="213.6" stroke="#111" stroke-width="0.8"/>
<line x1="434.2" y1="200.9" x2="445.8" y2="200.9" stroke="#111" stroke-width="0.9"/>
<line x1="434.2" y1="213.6" x2="445.8" y2="213.6" stroke="#111" stroke-width="0.9"/>
<line x1="465.2" y1="212.1" x2="489.6" y2="212.1" stroke="#111" stroke-width="0.9"/>
<line x1="477.4" y1="207.2" x2="477.4" y2="216.7" stroke="#111" stroke-width="0.8"/>
<line x1="471.6" y1="207.2" x2="483.2" y2="207.2" stroke="#111" stroke-width="0.9"/>
<line x1="471.6" y1="216.7" x2="483.2" y2="216.7" stroke="#111" stroke-width="0.9"/>
<text x="477" y="153.7" font-size="6.3" fill="#4642a0" stroke="#4642a0" stroke-width="0.15" font-style="italic" textLength="17.9" lengthAdjust="spacingAndGlyphs">Gdf11</text>
<text x="495.2" y="150.3" font-size="4.3" fill="#4642a0" stroke="#4642a0" stroke-width="0.15" font-style="italic" textLength="6.3" lengthAdjust="spacingAndGlyphs">+/+</text>
<text x="477" y="164" font-size="6.3" fill="#d65243" stroke="#d65243" stroke-width="0.15" font-style="italic" textLength="17.9" lengthAdjust="spacingAndGlyphs">Gdf11</text>
<text x="495.2" y="160.6" font-size="4.3" fill="#d65243" stroke="#d65243" stroke-width="0.15" font-style="italic" textLength="5.5" lengthAdjust="spacingAndGlyphs">+/-</text>
<text x="477" y="173.5" font-size="6.3" fill="#2a2a2a" stroke="#2a2a2a" stroke-width="0.15" font-style="italic" textLength="17.9" lengthAdjust="spacingAndGlyphs">Gdf11</text>
<text x="495.2" y="170.1" font-size="4.3" fill="#2a2a2a" stroke="#2a2a2a" stroke-width="0.15" font-style="italic" textLength="5" lengthAdjust="spacingAndGlyphs">-/-</text>
<text x="40.6" y="249.8" font-size="6.6" fill="#4642a0" stroke="#4642a0" stroke-width="0.15" font-style="italic" textLength="18" lengthAdjust="spacingAndGlyphs">Gdf11</text>
<text x="58.9" y="247.9" font-size="4.3" fill="#4642a0" stroke="#4642a0" stroke-width="0.15" font-style="italic" textLength="5.9" lengthAdjust="spacingAndGlyphs">+/+</text>
<text x="40.9" y="257.5" font-size="6.6" fill="#d65243" stroke="#d65243" stroke-width="0.15" font-style="italic" textLength="17.7" lengthAdjust="spacingAndGlyphs">Gdf11</text>
<text x="58.9" y="255.6" font-size="4.3" fill="#d65243" stroke="#d65243" stroke-width="0.15" font-style="italic" textLength="4.9" lengthAdjust="spacingAndGlyphs">+/-</text>
<text x="53" y="265.5" font-size="6.6" text-anchor="middle" fill="#1a1a1a" stroke="#1a1a1a" stroke-width="0.15" font-style="italic">or</text>
<text x="41.9" y="272.7" font-size="6.6" fill="#2a2a2a" stroke="#2a2a2a" stroke-width="0.15" font-style="italic" textLength="16.7" lengthAdjust="spacingAndGlyphs">Gdf11</text>
<text x="58.9" y="270.8" font-size="4.3" fill="#2a2a2a" stroke="#2a2a2a" stroke-width="0.15" font-style="italic" textLength="3.9" lengthAdjust="spacingAndGlyphs">-/-</text>
<text x="19.9" y="295" font-size="6.6" fill="#1a1a1a" stroke="#1a1a1a" stroke-width="0.15" textLength="16.8" lengthAdjust="spacingAndGlyphs">E14.5</text>
<text x="50.4" y="320.6" font-size="6.6" text-anchor="middle" fill="#1a1a1a" stroke="#1a1a1a" stroke-width="0.15" textLength="21.9" lengthAdjust="spacingAndGlyphs">CD45.2</text>
<path d="M44.6,281.5 C45.5,279.3 47.6,278.3 50.3,278.3 C55.2,278.3 58.6,282.2 58.6,288.5 L58.6,295.5 C58.6,301.3 55.5,305.2 50.6,305.2 C46.3,305.2 42.6,302.6 40.9,299.2 M44.6,281.5 C43.9,283.4 44.6,284.9 43.4,286.3 C42.2,287.6 42.6,289.0 44.3,289.6 L46.2,290.5 C44.9,291.6 44.2,292.6 45.6,293.8 L47.1,295.4 C46.0,296.0 46.4,297.6 47.0,298.8 M40.0,295.8 C40.4,297.8 41.6,299.3 43.0,299.8 C44.2,299.2 45.3,298.6 46.2,298.3" fill="none" stroke="#1e1e1e" stroke-width="0.85"/>
<line x1="63.7" y1="290.6" x2="73.9" y2="290.6" stroke="#111" stroke-width="1"/>
<path d="M76.4,290.6 l-3.3,-1.8 v3.6z" fill="#111"/>
<line x1="103" y1="290.4" x2="113.7" y2="290.4" stroke="#111" stroke-width="1"/>
<path d="M116.2,290.4 l-3.3,-1.8 v3.6z" fill="#111"/>
<path d="M80.8,290.5 C81.2,288.2 84.5,287.8 87.5,288.7 C90.5,289.6 93.5,288.6 94.8,290.0 C95.6,291.4 94.2,293.6 91.0,294.1 C87.6,294.6 84.0,294.2 82.0,293.2 C80.9,292.6 80.6,291.5 80.8,290.5Z" fill="#a8463d" stroke="#6b2a25" stroke-width="0.6"/>
<text x="88.8" y="308.3" font-size="6.6" text-anchor="middle" fill="#1a1a1a" stroke="#1a1a1a" stroke-width="0.15" textLength="14.5" lengthAdjust="spacingAndGlyphs">Fetal</text>
<text x="88.8" y="315.4" font-size="6.6" text-anchor="middle" fill="#1a1a1a" stroke="#1a1a1a" stroke-width="0.15" textLength="11.5" lengthAdjust="spacingAndGlyphs">liver</text>
<text x="97.3" y="273.8" font-size="6.5" fill="#1a1a1a" stroke="#1a1a1a" stroke-width="0.15" textLength="28.9" lengthAdjust="spacingAndGlyphs">transplant</text>
<text x="97.3" y="281.1" font-size="6.5" fill="#1a1a1a" stroke="#1a1a1a" stroke-width="0.15" textLength="10.9" lengthAdjust="spacingAndGlyphs">1x10</text>
<text x="108.5" y="278.3" font-size="3.8" fill="#1a1a1a" stroke="#1a1a1a" stroke-width="0.15">6</text>
<text x="114.1" y="281.1" font-size="6.5" fill="#1a1a1a" stroke="#1a1a1a" stroke-width="0.15" textLength="12.3" lengthAdjust="spacingAndGlyphs">cells</text>
<text x="143.5" y="317.6" font-size="6.6" text-anchor="middle" fill="#1a1a1a" stroke="#1a1a1a" stroke-width="0.15" textLength="22.1" lengthAdjust="spacingAndGlyphs">CD45.1</text>
<path d="M129.3,286.2 C130,285 131.5,284.2 133.5,283.9 C134,282.5 134.6,281 135.8,280.9 C137,280.9 137.6,281.6 137.8,282.3 C138.6,281.8 139.8,282 140.2,282.8 C140.5,283.8 140.4,285.4 140.9,286 C142,286 143.4,284.8 144.7,284.5 C147,283.8 150.2,283.8 152.5,285 C155,286.5 156.2,289.5 156.8,293 C157.1,294.2 157.6,294.9 158.4,295.6 C159.3,296.4 159.8,297.6 159.3,298.4 C158.6,299.4 155.8,299.5 153.2,299.3 C151.5,299.2 149.8,299.1 148.6,298.9 C147.4,298.5 146.3,297.2 145.3,296.3 C144.6,295.6 143.6,295.3 142.6,295.6 C141.5,296 140.6,296.8 139.8,297.2 C138.8,297.7 137.3,298.6 136.3,298.3 C135.6,297.9 136.6,297.1 137.6,296.7 C138.0,296.2 137.6,295.6 136.6,295.4 C135.8,295.3 135.3,294.9 135.9,294.3 C136.5,293.6 136.6,292.6 135.9,292 C134.8,291.2 133.2,290.6 131.8,289.6 C130.5,288.8 129.4,287.6 129.3,286.2 Z M148.6,298.9 C147,299.8 145,301.2 143.4,302.9 M145.5,298.8 C149,297.5 154,296.8 157.6,295.6" fill="none" stroke="#2a2a2a" stroke-width="0.7"/>
<circle cx="136.8" cy="283.9" r="0.55" fill="#333"/>
<path d="M150.9,274.6 L155.2,275.6 L152.6,278.0 L153.6,278.4 L145.6,283.6 L149.0,279.6 L148.0,279.2 Z" fill="#f2e51c" stroke="#555" stroke-width="0.4"/>
<line x1="174.5" y1="300.1" x2="431.5" y2="300.1" stroke="#111" stroke-width="1.2"/>
<line x1="174.2" y1="276.1" x2="209.2" y2="276.1" stroke="#2a2a2a" stroke-width="1.3"/>
<line x1="210.9" y1="276.1" x2="314.3" y2="276.1" stroke="#2a2a2a" stroke-width="1.3"/>
<line x1="175.4" y1="279.6" x2="175.4" y2="296.2" stroke="#111" stroke-width="0.9"/>
<path d="M172.2,292.2 L175.4,300.2 L178.6,292.2 L175.4,293.9Z" fill="#000"/>
<line x1="184.1" y1="279.6" x2="184.1" y2="296.2" stroke="#111" stroke-width="0.9"/>
<path d="M180.9,292.2 L184.1,300.2 L187.3,292.2 L184.1,293.9Z" fill="#000"/>
<line x1="192.7" y1="279.6" x2="192.7" y2="296.2" stroke="#111" stroke-width="0.9"/>
<path d="M189.5,292.2 L192.7,300.2 L195.9,292.2 L192.7,293.9Z" fill="#000"/>
<line x1="201.4" y1="279.6" x2="201.4" y2="296.2" stroke="#111" stroke-width="0.9"/>
<path d="M198.2,292.2 L201.4,300.2 L204.6,292.2 L201.4,293.9Z" fill="#000"/>
<line x1="210" y1="279.6" x2="210" y2="296.2" stroke="#111" stroke-width="0.9"/>
<path d="M206.8,292.2 L210.0,300.2 L213.2,292.2 L210.0,293.9Z" fill="#000"/>
<line x1="244.7" y1="279.6" x2="244.7" y2="296.2" stroke="#111" stroke-width="0.9"/>
<path d="M241.5,292.2 L244.7,300.2 L247.9,292.2 L244.7,293.9Z" fill="#000"/>
<line x1="279.1" y1="279.6" x2="279.1" y2="296.2" stroke="#111" stroke-width="0.9"/>
<path d="M275.9,292.2 L279.1,300.2 L282.3,292.2 L279.1,293.9Z" fill="#000"/>
<line x1="313.6" y1="279.6" x2="313.6" y2="296.2" stroke="#111" stroke-width="0.9"/>
<path d="M310.4,292.2 L313.6,300.2 L316.8,292.2 L313.6,293.9Z" fill="#000"/>
<line x1="353" y1="279.6" x2="353" y2="296.2" stroke="#111" stroke-width="0.9"/>
<path d="M349.8,292.2 L353.0,300.2 L356.2,292.2 L353.0,293.9Z" fill="#000"/>
<line x1="410.3" y1="279.6" x2="410.3" y2="296.2" stroke="#111" stroke-width="0.9"/>
<path d="M407.1,292.2 L410.3,300.2 L413.5,292.2 L410.3,293.9Z" fill="#000"/>
<text x="175.4" y="308.9" font-size="6.8" text-anchor="middle" fill="#1a1a1a" stroke="#1a1a1a" stroke-width="0.15">0</text>
<text x="184.1" y="308.9" font-size="6.8" text-anchor="middle" fill="#1a1a1a" stroke="#1a1a1a" stroke-width="0.15">1</text>
<text x="192.7" y="308.9" font-size="6.8" text-anchor="middle" fill="#1a1a1a" stroke="#1a1a1a" stroke-width="0.15">2</text>
<text x="201.4" y="308.9" font-size="6.8" text-anchor="middle" fill="#1a1a1a" stroke="#1a1a1a" stroke-width="0.15">3</text>
<text x="210" y="308.9" font-size="6.8" text-anchor="middle" fill="#1a1a1a" stroke="#1a1a1a" stroke-width="0.15">4</text>
<text x="244.7" y="308.9" font-size="6.8" text-anchor="middle" fill="#1a1a1a" stroke="#1a1a1a" stroke-width="0.15">8</text>
<text x="279.1" y="308.9" font-size="6.8" text-anchor="middle" fill="#1a1a1a" stroke="#1a1a1a" stroke-width="0.15">12</text>
<text x="313.6" y="308.9" font-size="6.8" text-anchor="middle" fill="#1a1a1a" stroke="#1a1a1a" stroke-width="0.15">16</text>
<text x="353" y="308.9" font-size="6.8" text-anchor="middle" fill="#1a1a1a" stroke="#1a1a1a" stroke-width="0.15">17-21</text>
<text x="410.3" y="308.9" font-size="6.8" text-anchor="middle" fill="#1a1a1a" stroke="#1a1a1a" stroke-width="0.15">24-28</text>
<text x="192.7" y="263" font-size="6.6" text-anchor="middle" fill="#1a1a1a" stroke="#1a1a1a" stroke-width="0.15" textLength="38" lengthAdjust="spacingAndGlyphs">Assess blood</text>
<text x="192.6" y="270.5" font-size="6.6" text-anchor="middle" fill="#1a1a1a" stroke="#1a1a1a" stroke-width="0.15" textLength="32.8" lengthAdjust="spacingAndGlyphs">parameters</text>
<text x="262.2" y="263.2" font-size="6.6" text-anchor="middle" fill="#1a1a1a" stroke="#1a1a1a" stroke-width="0.15" textLength="36" lengthAdjust="spacingAndGlyphs">Assay donor</text>
<text x="262.5" y="270.6" font-size="6.6" text-anchor="middle" fill="#1a1a1a" stroke="#1a1a1a" stroke-width="0.15" textLength="29" lengthAdjust="spacingAndGlyphs">chimerism</text>
<text x="352.4" y="256.5" font-size="6.6" text-anchor="middle" fill="#1a1a1a" stroke="#1a1a1a" stroke-width="0.15" textLength="20" lengthAdjust="spacingAndGlyphs">Collect</text>
<text x="352.4" y="264.1" font-size="6.6" text-anchor="middle" fill="#1a1a1a" stroke="#1a1a1a" stroke-width="0.15" textLength="28" lengthAdjust="spacingAndGlyphs">serum for</text>
<text x="352.3" y="271.5" font-size="6.6" text-anchor="middle" fill="#1a1a1a" stroke="#1a1a1a" stroke-width="0.15" textLength="31.5" lengthAdjust="spacingAndGlyphs">LC-MS/MS</text>
<text x="408.5" y="256.5" font-size="6.6" text-anchor="middle" fill="#1a1a1a" stroke="#1a1a1a" stroke-width="0.15" textLength="22" lengthAdjust="spacingAndGlyphs">Analyze</text>
<text x="409.2" y="264.1" font-size="6.6" text-anchor="middle" fill="#1a1a1a" stroke="#1a1a1a" stroke-width="0.15" textLength="42.4" lengthAdjust="spacingAndGlyphs">donor-derived</text>
<text x="409.2" y="271.5" font-size="6.6" text-anchor="middle" fill="#1a1a1a" stroke="#1a1a1a" stroke-width="0.15" textLength="44.5" lengthAdjust="spacingAndGlyphs">HSC frequency</text>
<text x="303.5" y="320.4" font-size="7.2" text-anchor="middle" fill="#1a1a1a" stroke="#1a1a1a" stroke-width="0.15" font-style="italic" textLength="65.6" lengthAdjust="spacingAndGlyphs">weeks post transplant</text>
<line x1="44.1" y1="347.6" x2="44.1" y2="409.3" stroke="#2a2a2a" stroke-width="1.3"/>
<line x1="43.5" y1="408.7" x2="133.7" y2="408.7" stroke="#1a1a1a" stroke-width="1.3"/>
<line x1="41" y1="408.7" x2="44.1" y2="408.7" stroke="#2a2a2a" stroke-width="0.9"/>
<text x="38.1" y="411" font-size="6.4" text-anchor="end" fill="#1e1e1e" stroke="#1e1e1e" stroke-width="0.15">0</text>
<line x1="41" y1="389.26" x2="44.1" y2="389.26" stroke="#2a2a2a" stroke-width="0.9"/>
<text x="38.1" y="391.56" font-size="6.4" text-anchor="end" fill="#1e1e1e" stroke="#1e1e1e" stroke-width="0.15">5</text>
<line x1="41" y1="369.83" x2="44.1" y2="369.83" stroke="#2a2a2a" stroke-width="0.9"/>
<text x="38.1" y="372.13" font-size="6.4" text-anchor="end" fill="#1e1e1e" stroke="#1e1e1e" stroke-width="0.15" textLength="6.9" lengthAdjust="spacingAndGlyphs">10</text>
<line x1="41" y1="350.39" x2="44.1" y2="350.39" stroke="#2a2a2a" stroke-width="0.9"/>
<text x="38.1" y="352.69" font-size="6.4" text-anchor="end" fill="#1e1e1e" stroke="#1e1e1e" stroke-width="0.15" textLength="6.9" lengthAdjust="spacingAndGlyphs">15</text>
<line x1="43.8" y1="408.7" x2="43.8" y2="411" stroke="#1a1a1a" stroke-width="0.9"/>
<text x="43.8" y="421" font-size="6.4" text-anchor="middle" fill="#1e1e1e" stroke="#1e1e1e" stroke-width="0.15">0</text>
<line x1="65.6" y1="408.7" x2="65.6" y2="411" stroke="#1a1a1a" stroke-width="0.9"/>
<text x="65.6" y="421" font-size="6.4" text-anchor="middle" fill="#1e1e1e" stroke="#1e1e1e" stroke-width="0.15">1</text>
<line x1="87.4" y1="408.7" x2="87.4" y2="411" stroke="#1a1a1a" stroke-width="0.9"/>
<text x="87.4" y="421" font-size="6.4" text-anchor="middle" fill="#1e1e1e" stroke="#1e1e1e" stroke-width="0.15">2</text>
<line x1="109.2" y1="408.7" x2="109.2" y2="411" stroke="#1a1a1a" stroke-width="0.9"/>
<text x="109.2" y="421" font-size="6.4" text-anchor="middle" fill="#1e1e1e" stroke="#1e1e1e" stroke-width="0.15">3</text>
<line x1="131" y1="408.7" x2="131" y2="411" stroke="#1a1a1a" stroke-width="0.9"/>
<text x="131" y="421" font-size="6.4" text-anchor="middle" fill="#1e1e1e" stroke="#1e1e1e" stroke-width="0.15">4</text>
<line x1="43.8" y1="368.66" x2="43.8" y2="366.33" stroke="#151515" stroke-width="0.8"/>
<line x1="42.2" y1="366.33" x2="45.4" y2="366.33" stroke="#151515" stroke-width="0.8"/>
<line x1="43.8" y1="368.66" x2="43.8" y2="371" stroke="#151515" stroke-width="0.8"/>
<line x1="42.2" y1="371" x2="45.4" y2="371" stroke="#151515" stroke-width="0.8"/>
<line x1="65.6" y1="384.21" x2="65.6" y2="377.22" stroke="#151515" stroke-width="0.8"/>
<line x1="64" y1="377.22" x2="67.2" y2="377.22" stroke="#151515" stroke-width="0.8"/>
<line x1="65.6" y1="384.21" x2="65.6" y2="391.21" stroke="#151515" stroke-width="0.8"/>
<line x1="64" y1="391.21" x2="67.2" y2="391.21" stroke="#151515" stroke-width="0.8"/>
<line x1="87.4" y1="380.32" x2="87.4" y2="376.44" stroke="#151515" stroke-width="0.8"/>
<line x1="85.8" y1="376.44" x2="89" y2="376.44" stroke="#151515" stroke-width="0.8"/>
<line x1="87.4" y1="380.32" x2="87.4" y2="384.21" stroke="#151515" stroke-width="0.8"/>
<line x1="85.8" y1="384.21" x2="89" y2="384.21" stroke="#151515" stroke-width="0.8"/>
<line x1="109.2" y1="377.6" x2="109.2" y2="371" stroke="#151515" stroke-width="0.8"/>
<line x1="107.6" y1="371" x2="110.8" y2="371" stroke="#151515" stroke-width="0.8"/>
<line x1="109.2" y1="377.6" x2="109.2" y2="384.21" stroke="#151515" stroke-width="0.8"/>
<line x1="107.6" y1="384.21" x2="110.8" y2="384.21" stroke="#151515" stroke-width="0.8"/>
<line x1="131" y1="375.66" x2="131" y2="371" stroke="#151515" stroke-width="0.8"/>
<line x1="129.4" y1="371" x2="132.6" y2="371" stroke="#151515" stroke-width="0.8"/>
<line x1="131" y1="375.66" x2="131" y2="380.32" stroke="#151515" stroke-width="0.8"/>
<line x1="129.4" y1="380.32" x2="132.6" y2="380.32" stroke="#151515" stroke-width="0.8"/>
<polyline points="43.80,368.66 65.60,384.21 87.40,380.32 109.20,377.60 131.00,375.66" fill="none" stroke="#151515" stroke-width="1.2" stroke-linejoin="round"/>
<circle cx="43.80" cy="368.66" r="1.2" fill="#151515"/>
<circle cx="65.60" cy="384.21" r="1.2" fill="#151515"/>
<circle cx="87.40" cy="380.32" r="1.2" fill="#151515"/>
<circle cx="109.20" cy="377.60" r="1.2" fill="#151515"/>
<circle cx="131.00" cy="375.66" r="1.2" fill="#151515"/>
<line x1="43.8" y1="367.11" x2="43.8" y2="365.17" stroke="#d63c2a" stroke-width="0.8"/>
<line x1="42.2" y1="365.17" x2="45.4" y2="365.17" stroke="#d63c2a" stroke-width="0.8"/>
<line x1="43.8" y1="367.11" x2="43.8" y2="369.05" stroke="#d63c2a" stroke-width="0.8"/>
<line x1="42.2" y1="369.05" x2="45.4" y2="369.05" stroke="#d63c2a" stroke-width="0.8"/>
<line x1="65.6" y1="377.6" x2="65.6" y2="373.72" stroke="#d63c2a" stroke-width="0.8"/>
<line x1="64" y1="373.72" x2="67.2" y2="373.72" stroke="#d63c2a" stroke-width="0.8"/>
<line x1="65.6" y1="377.6" x2="65.6" y2="381.49" stroke="#d63c2a" stroke-width="0.8"/>
<line x1="64" y1="381.49" x2="67.2" y2="381.49" stroke="#d63c2a" stroke-width="0.8"/>
<line x1="87.4" y1="381.49" x2="87.4" y2="377.6" stroke="#d63c2a" stroke-width="0.8"/>
<line x1="85.8" y1="377.6" x2="89" y2="377.6" stroke="#d63c2a" stroke-width="0.8"/>
<line x1="87.4" y1="381.49" x2="87.4" y2="385.38" stroke="#d63c2a" stroke-width="0.8"/>
<line x1="85.8" y1="385.38" x2="89" y2="385.38" stroke="#d63c2a" stroke-width="0.8"/>
<line x1="109.2" y1="379.55" x2="109.2" y2="367.11" stroke="#d63c2a" stroke-width="0.8"/>
<line x1="107.6" y1="367.11" x2="110.8" y2="367.11" stroke="#d63c2a" stroke-width="0.8"/>
<line x1="109.2" y1="379.55" x2="109.2" y2="391.99" stroke="#d63c2a" stroke-width="0.8"/>
<line x1="107.6" y1="391.99" x2="110.8" y2="391.99" stroke="#d63c2a" stroke-width="0.8"/>
<line x1="131" y1="374.88" x2="131" y2="372.16" stroke="#d63c2a" stroke-width="0.8"/>
<line x1="129.4" y1="372.16" x2="132.6" y2="372.16" stroke="#d63c2a" stroke-width="0.8"/>
<line x1="131" y1="374.88" x2="131" y2="377.6" stroke="#d63c2a" stroke-width="0.8"/>
<line x1="129.4" y1="377.6" x2="132.6" y2="377.6" stroke="#d63c2a" stroke-width="0.8"/>
<polyline points="43.80,367.11 65.60,377.60 87.40,381.49 109.20,379.55 131.00,374.88" fill="none" stroke="#d63c2a" stroke-width="1.2" stroke-linejoin="round"/>
<circle cx="43.80" cy="367.11" r="1.2" fill="#d63c2a"/>
<circle cx="65.60" cy="377.60" r="1.2" fill="#d63c2a"/>
<circle cx="87.40" cy="381.49" r="1.2" fill="#d63c2a"/>
<circle cx="109.20" cy="379.55" r="1.2" fill="#d63c2a"/>
<circle cx="131.00" cy="374.88" r="1.2" fill="#d63c2a"/>
<line x1="43.8" y1="370.61" x2="43.8" y2="368.66" stroke="#2b2a8e" stroke-width="0.8"/>
<line x1="42.2" y1="368.66" x2="45.4" y2="368.66" stroke="#2b2a8e" stroke-width="0.8"/>
<line x1="43.8" y1="370.61" x2="43.8" y2="372.55" stroke="#2b2a8e" stroke-width="0.8"/>
<line x1="42.2" y1="372.55" x2="45.4" y2="372.55" stroke="#2b2a8e" stroke-width="0.8"/>
<line x1="65.6" y1="379.55" x2="65.6" y2="375.66" stroke="#2b2a8e" stroke-width="0.8"/>
<line x1="64" y1="375.66" x2="67.2" y2="375.66" stroke="#2b2a8e" stroke-width="0.8"/>
<line x1="65.6" y1="379.55" x2="65.6" y2="383.43" stroke="#2b2a8e" stroke-width="0.8"/>
<line x1="64" y1="383.43" x2="67.2" y2="383.43" stroke="#2b2a8e" stroke-width="0.8"/>
<line x1="87.4" y1="381.1" x2="87.4" y2="376.44" stroke="#2b2a8e" stroke-width="0.8"/>
<line x1="85.8" y1="376.44" x2="89" y2="376.44" stroke="#2b2a8e" stroke-width="0.8"/>
<line x1="87.4" y1="381.1" x2="87.4" y2="385.77" stroke="#2b2a8e" stroke-width="0.8"/>
<line x1="85.8" y1="385.77" x2="89" y2="385.77" stroke="#2b2a8e" stroke-width="0.8"/>
<line x1="109.2" y1="378.77" x2="109.2" y2="371" stroke="#2b2a8e" stroke-width="0.8"/>
<line x1="107.6" y1="371" x2="110.8" y2="371" stroke="#2b2a8e" stroke-width="0.8"/>
<line x1="109.2" y1="378.77" x2="109.2" y2="386.54" stroke="#2b2a8e" stroke-width="0.8"/>
<line x1="107.6" y1="386.54" x2="110.8" y2="386.54" stroke="#2b2a8e" stroke-width="0.8"/>
<line x1="131" y1="372.94" x2="131" y2="369.83" stroke="#2b2a8e" stroke-width="0.8"/>
<line x1="129.4" y1="369.83" x2="132.6" y2="369.83" stroke="#2b2a8e" stroke-width="0.8"/>
<line x1="131" y1="372.94" x2="131" y2="376.05" stroke="#2b2a8e" stroke-width="0.8"/>
<line x1="129.4" y1="376.05" x2="132.6" y2="376.05" stroke="#2b2a8e" stroke-width="0.8"/>
<polyline points="43.80,370.61 65.60,379.55 87.40,381.10 109.20,378.77 131.00,372.94" fill="none" stroke="#2b2a8e" stroke-width="1.2" stroke-linejoin="round"/>
<circle cx="43.80" cy="370.61" r="1.2" fill="#2b2a8e"/>
<circle cx="65.60" cy="379.55" r="1.2" fill="#2b2a8e"/>
<circle cx="87.40" cy="381.10" r="1.2" fill="#2b2a8e"/>
<circle cx="109.20" cy="378.77" r="1.2" fill="#2b2a8e"/>
<circle cx="131.00" cy="372.94" r="1.2" fill="#2b2a8e"/>
<line x1="137.9" y1="354.7" x2="144.9" y2="354.7" stroke="#2b2a8e" stroke-width="1.1"/>
<circle cx="141.40" cy="354.70" r="0.9" fill="#2b2a8e"/>
<text x="148.8" y="356.9" font-size="6.6" fill="#2e2e2e" stroke="#2e2e2e" stroke-width="0.15" font-style="italic" textLength="18.2" lengthAdjust="spacingAndGlyphs">Gdf11</text>
<text x="167.3" y="353.4" font-size="4.4" fill="#2e2e2e" stroke="#2e2e2e" stroke-width="0.15" font-style="italic" textLength="6.3" lengthAdjust="spacingAndGlyphs">+/+</text>
<line x1="137.9" y1="364.6" x2="144.9" y2="364.6" stroke="#d63c2a" stroke-width="1.1"/>
<circle cx="141.40" cy="364.60" r="0.9" fill="#d63c2a"/>
<text x="148.8" y="366.8" font-size="6.6" fill="#2e2e2e" stroke="#2e2e2e" stroke-width="0.15" font-style="italic" textLength="18.2" lengthAdjust="spacingAndGlyphs">Gdf11</text>
<text x="167.3" y="363.3" font-size="4.4" fill="#2e2e2e" stroke="#2e2e2e" stroke-width="0.15" font-style="italic" textLength="5.5" lengthAdjust="spacingAndGlyphs">+/-</text>
<line x1="137.9" y1="374.6" x2="144.9" y2="374.6" stroke="#151515" stroke-width="1.1"/>
<circle cx="141.40" cy="374.60" r="0.9" fill="#151515"/>
<text x="148.8" y="376.8" font-size="6.6" fill="#2e2e2e" stroke="#2e2e2e" stroke-width="0.15" font-style="italic" textLength="18.2" lengthAdjust="spacingAndGlyphs">Gdf11</text>
<text x="167.3" y="373.3" font-size="4.4" fill="#2e2e2e" stroke="#2e2e2e" stroke-width="0.15" font-style="italic" textLength="5.5" lengthAdjust="spacingAndGlyphs">-/-</text>
<text x="15.2" y="401" font-size="8.6" fill="#1e1e1e" stroke="#1e1e1e" stroke-width="0.15" textLength="46.3" lengthAdjust="spacingAndGlyphs" transform="rotate(-90 15.2 401)">Red blood cells</text>
<text x="24.6" y="398" font-size="8.2" fill="#333" transform="rotate(-90 24.6 398)" textLength="40" lengthAdjust="spacingAndGlyphs">(x10<tspan font-size="5" dy="-3">12</tspan><tspan dy="3">cells/L)</tspan></text>
<text x="88.8" y="433.1" font-size="8.4" text-anchor="middle" fill="#1e1e1e" stroke="#1e1e1e" stroke-width="0.15" textLength="67.5" lengthAdjust="spacingAndGlyphs">Weeks post transplant</text>
<line x1="213.3" y1="347.6" x2="213.3" y2="409.3" stroke="#2a2a2a" stroke-width="1.3"/>
<line x1="212.7" y1="408.7" x2="302.9" y2="408.7" stroke="#1a1a1a" stroke-width="1.3"/>
<line x1="210.2" y1="408.7" x2="213.3" y2="408.7" stroke="#2a2a2a" stroke-width="0.9"/>
<text x="207.3" y="411" font-size="6.4" text-anchor="end" fill="#1e1e1e" stroke="#1e1e1e" stroke-width="0.15">0</text>
<line x1="210.2" y1="397.04" x2="213.3" y2="397.04" stroke="#2a2a2a" stroke-width="0.9"/>
<text x="207.3" y="399.34" font-size="6.4" text-anchor="end" fill="#1e1e1e" stroke="#1e1e1e" stroke-width="0.15" textLength="6.9" lengthAdjust="spacingAndGlyphs">20</text>
<line x1="210.2" y1="385.38" x2="213.3" y2="385.38" stroke="#2a2a2a" stroke-width="0.9"/>
<text x="207.3" y="387.68" font-size="6.4" text-anchor="end" fill="#1e1e1e" stroke="#1e1e1e" stroke-width="0.15" textLength="6.9" lengthAdjust="spacingAndGlyphs">40</text>
<line x1="210.2" y1="373.72" x2="213.3" y2="373.72" stroke="#2a2a2a" stroke-width="0.9"/>
<text x="207.3" y="376.02" font-size="6.4" text-anchor="end" fill="#1e1e1e" stroke="#1e1e1e" stroke-width="0.15" textLength="6.9" lengthAdjust="spacingAndGlyphs">60</text>
<line x1="210.2" y1="362.06" x2="213.3" y2="362.06" stroke="#2a2a2a" stroke-width="0.9"/>
<text x="207.3" y="364.36" font-size="6.4" text-anchor="end" fill="#1e1e1e" stroke="#1e1e1e" stroke-width="0.15" textLength="6.9" lengthAdjust="spacingAndGlyphs">80</text>
<line x1="210.2" y1="350.4" x2="213.3" y2="350.4" stroke="#2a2a2a" stroke-width="0.9"/>
<text x="207.3" y="352.7" font-size="6.4" text-anchor="end" fill="#1e1e1e" stroke="#1e1e1e" stroke-width="0.15" textLength="10.35" lengthAdjust="spacingAndGlyphs">100</text>
<line x1="213.3" y1="408.7" x2="213.3" y2="411" stroke="#1a1a1a" stroke-width="0.9"/>
<text x="213.3" y="421" font-size="6.4" text-anchor="middle" fill="#1e1e1e" stroke="#1e1e1e" stroke-width="0.15">0</text>
<line x1="235.1" y1="408.7" x2="235.1" y2="411" stroke="#1a1a1a" stroke-width="0.9"/>
<text x="235.1" y="421" font-size="6.4" text-anchor="middle" fill="#1e1e1e" stroke="#1e1e1e" stroke-width="0.15">1</text>
<line x1="256.9" y1="408.7" x2="256.9" y2="411" stroke="#1a1a1a" stroke-width="0.9"/>
<text x="256.9" y="421" font-size="6.4" text-anchor="middle" fill="#1e1e1e" stroke="#1e1e1e" stroke-width="0.15">2</text>
<line x1="278.7" y1="408.7" x2="278.7" y2="411" stroke="#1a1a1a" stroke-width="0.9"/>
<text x="278.7" y="421" font-size="6.4" text-anchor="middle" fill="#1e1e1e" stroke="#1e1e1e" stroke-width="0.15">3</text>
<line x1="300.5" y1="408.7" x2="300.5" y2="411" stroke="#1a1a1a" stroke-width="0.9"/>
<text x="300.5" y="421" font-size="6.4" text-anchor="middle" fill="#1e1e1e" stroke="#1e1e1e" stroke-width="0.15">4</text>
<line x1="213.3" y1="384.21" x2="213.3" y2="382.46" stroke="#151515" stroke-width="0.8"/>
<line x1="211.7" y1="382.46" x2="214.9" y2="382.46" stroke="#151515" stroke-width="0.8"/>
<line x1="213.3" y1="384.21" x2="213.3" y2="385.96" stroke="#151515" stroke-width="0.8"/>
<line x1="211.7" y1="385.96" x2="214.9" y2="385.96" stroke="#151515" stroke-width="0.8"/>
<line x1="235.1" y1="394.12" x2="235.1" y2="391.21" stroke="#151515" stroke-width="0.8"/>
<line x1="233.5" y1="391.21" x2="236.7" y2="391.21" stroke="#151515" stroke-width="0.8"/>
<line x1="235.1" y1="394.12" x2="235.1" y2="397.04" stroke="#151515" stroke-width="0.8"/>
<line x1="233.5" y1="397.04" x2="236.7" y2="397.04" stroke="#151515" stroke-width="0.8"/>
<line x1="256.9" y1="390.63" x2="256.9" y2="388.88" stroke="#151515" stroke-width="0.8"/>
<line x1="255.3" y1="388.88" x2="258.5" y2="388.88" stroke="#151515" stroke-width="0.8"/>
<line x1="256.9" y1="390.63" x2="256.9" y2="392.38" stroke="#151515" stroke-width="0.8"/>
<line x1="255.3" y1="392.38" x2="258.5" y2="392.38" stroke="#151515" stroke-width="0.8"/>
<line x1="278.7" y1="388.3" x2="278.7" y2="384.8" stroke="#151515" stroke-width="0.8"/>
<line x1="277.1" y1="384.8" x2="280.3" y2="384.8" stroke="#151515" stroke-width="0.8"/>
<line x1="278.7" y1="388.3" x2="278.7" y2="391.79" stroke="#151515" stroke-width="0.8"/>
<line x1="277.1" y1="391.79" x2="280.3" y2="391.79" stroke="#151515" stroke-width="0.8"/>
<line x1="300.5" y1="387.71" x2="300.5" y2="385.38" stroke="#151515" stroke-width="0.8"/>
<line x1="298.9" y1="385.38" x2="302.1" y2="385.38" stroke="#151515" stroke-width="0.8"/>
<line x1="300.5" y1="387.71" x2="300.5" y2="390.04" stroke="#151515" stroke-width="0.8"/>
<line x1="298.9" y1="390.04" x2="302.1" y2="390.04" stroke="#151515" stroke-width="0.8"/>
<polyline points="213.30,384.21 235.10,394.12 256.90,390.63 278.70,388.30 300.50,387.71" fill="none" stroke="#151515" stroke-width="1.2" stroke-linejoin="round"/>
<circle cx="213.30" cy="384.21" r="1.2" fill="#151515"/>
<circle cx="235.10" cy="394.12" r="1.2" fill="#151515"/>
<circle cx="256.90" cy="390.63" r="1.2" fill="#151515"/>
<circle cx="278.70" cy="388.30" r="1.2" fill="#151515"/>
<circle cx="300.50" cy="387.71" r="1.2" fill="#151515"/>
<line x1="213.3" y1="383.63" x2="213.3" y2="382.46" stroke="#d63c2a" stroke-width="0.8"/>
<line x1="211.7" y1="382.46" x2="214.9" y2="382.46" stroke="#d63c2a" stroke-width="0.8"/>
<line x1="213.3" y1="383.63" x2="213.3" y2="384.8" stroke="#d63c2a" stroke-width="0.8"/>
<line x1="211.7" y1="384.8" x2="214.9" y2="384.8" stroke="#d63c2a" stroke-width="0.8"/>
<line x1="235.1" y1="390.04" x2="235.1" y2="388.29" stroke="#d63c2a" stroke-width="0.8"/>
<line x1="233.5" y1="388.29" x2="236.7" y2="388.29" stroke="#d63c2a" stroke-width="0.8"/>
<line x1="235.1" y1="390.04" x2="235.1" y2="391.79" stroke="#d63c2a" stroke-width="0.8"/>
<line x1="233.5" y1="391.79" x2="236.7" y2="391.79" stroke="#d63c2a" stroke-width="0.8"/>
<line x1="256.9" y1="391.21" x2="256.9" y2="388.88" stroke="#d63c2a" stroke-width="0.8"/>
<line x1="255.3" y1="388.88" x2="258.5" y2="388.88" stroke="#d63c2a" stroke-width="0.8"/>
<line x1="256.9" y1="391.21" x2="256.9" y2="393.54" stroke="#d63c2a" stroke-width="0.8"/>
<line x1="255.3" y1="393.54" x2="258.5" y2="393.54" stroke="#d63c2a" stroke-width="0.8"/>
<line x1="278.7" y1="388.88" x2="278.7" y2="381.88" stroke="#d63c2a" stroke-width="0.8"/>
<line x1="277.1" y1="381.88" x2="280.3" y2="381.88" stroke="#d63c2a" stroke-width="0.8"/>
<line x1="278.7" y1="388.88" x2="278.7" y2="395.87" stroke="#d63c2a" stroke-width="0.8"/>
<line x1="277.1" y1="395.87" x2="280.3" y2="395.87" stroke="#d63c2a" stroke-width="0.8"/>
<line x1="300.5" y1="385.38" x2="300.5" y2="384.21" stroke="#d63c2a" stroke-width="0.8"/>
<line x1="298.9" y1="384.21" x2="302.1" y2="384.21" stroke="#d63c2a" stroke-width="0.8"/>
<line x1="300.5" y1="385.38" x2="300.5" y2="386.55" stroke="#d63c2a" stroke-width="0.8"/>
<line x1="298.9" y1="386.55" x2="302.1" y2="386.55" stroke="#d63c2a" stroke-width="0.8"/>
<polyline points="213.30,383.63 235.10,390.04 256.90,391.21 278.70,388.88 300.50,385.38" fill="none" stroke="#d63c2a" stroke-width="1.2" stroke-linejoin="round"/>
<circle cx="213.30" cy="383.63" r="1.2" fill="#d63c2a"/>
<circle cx="235.10" cy="390.04" r="1.2" fill="#d63c2a"/>
<circle cx="256.90" cy="391.21" r="1.2" fill="#d63c2a"/>
<circle cx="278.70" cy="388.88" r="1.2" fill="#d63c2a"/>
<circle cx="300.50" cy="385.38" r="1.2" fill="#d63c2a"/>
<line x1="213.3" y1="384.21" x2="213.3" y2="383.05" stroke="#2b2a8e" stroke-width="0.8"/>
<line x1="211.7" y1="383.05" x2="214.9" y2="383.05" stroke="#2b2a8e" stroke-width="0.8"/>
<line x1="213.3" y1="384.21" x2="213.3" y2="385.38" stroke="#2b2a8e" stroke-width="0.8"/>
<line x1="211.7" y1="385.38" x2="214.9" y2="385.38" stroke="#2b2a8e" stroke-width="0.8"/>
<line x1="235.1" y1="391.21" x2="235.1" y2="388.88" stroke="#2b2a8e" stroke-width="0.8"/>
<line x1="233.5" y1="388.88" x2="236.7" y2="388.88" stroke="#2b2a8e" stroke-width="0.8"/>
<line x1="235.1" y1="391.21" x2="235.1" y2="393.54" stroke="#2b2a8e" stroke-width="0.8"/>
<line x1="233.5" y1="393.54" x2="236.7" y2="393.54" stroke="#2b2a8e" stroke-width="0.8"/>
<line x1="256.9" y1="390.63" x2="256.9" y2="388.3" stroke="#2b2a8e" stroke-width="0.8"/>
<line x1="255.3" y1="388.3" x2="258.5" y2="388.3" stroke="#2b2a8e" stroke-width="0.8"/>
<line x1="256.9" y1="390.63" x2="256.9" y2="392.96" stroke="#2b2a8e" stroke-width="0.8"/>
<line x1="255.3" y1="392.96" x2="258.5" y2="392.96" stroke="#2b2a8e" stroke-width="0.8"/>
<line x1="278.7" y1="389.46" x2="278.7" y2="383.63" stroke="#2b2a8e" stroke-width="0.8"/>
<line x1="277.1" y1="383.63" x2="280.3" y2="383.63" stroke="#2b2a8e" stroke-width="0.8"/>
<line x1="278.7" y1="389.46" x2="278.7" y2="395.29" stroke="#2b2a8e" stroke-width="0.8"/>
<line x1="277.1" y1="395.29" x2="280.3" y2="395.29" stroke="#2b2a8e" stroke-width="0.8"/>
<line x1="300.5" y1="386.55" x2="300.5" y2="385.38" stroke="#2b2a8e" stroke-width="0.8"/>
<line x1="298.9" y1="385.38" x2="302.1" y2="385.38" stroke="#2b2a8e" stroke-width="0.8"/>
<line x1="300.5" y1="386.55" x2="300.5" y2="387.71" stroke="#2b2a8e" stroke-width="0.8"/>
<line x1="298.9" y1="387.71" x2="302.1" y2="387.71" stroke="#2b2a8e" stroke-width="0.8"/>
<polyline points="213.30,384.21 235.10,391.21 256.90,390.63 278.70,389.46 300.50,386.55" fill="none" stroke="#2b2a8e" stroke-width="1.2" stroke-linejoin="round"/>
<circle cx="213.30" cy="384.21" r="1.2" fill="#2b2a8e"/>
<circle cx="235.10" cy="391.21" r="1.2" fill="#2b2a8e"/>
<circle cx="256.90" cy="390.63" r="1.2" fill="#2b2a8e"/>
<circle cx="278.70" cy="389.46" r="1.2" fill="#2b2a8e"/>
<circle cx="300.50" cy="386.55" r="1.2" fill="#2b2a8e"/>
<line x1="307.7" y1="354.4" x2="315.4" y2="354.4" stroke="#2b2a8e" stroke-width="1.1"/>
<circle cx="311.55" cy="354.40" r="0.9" fill="#2b2a8e"/>
<text x="318.3" y="356.6" font-size="6.6" fill="#2e2e2e" stroke="#2e2e2e" stroke-width="0.15" font-style="italic" textLength="18.2" lengthAdjust="spacingAndGlyphs">Gdf11</text>
<text x="336.8" y="353.1" font-size="4.4" fill="#2e2e2e" stroke="#2e2e2e" stroke-width="0.15" font-style="italic" textLength="6.3" lengthAdjust="spacingAndGlyphs">+/+</text>
<line x1="307.7" y1="364.4" x2="315.4" y2="364.4" stroke="#d63c2a" stroke-width="1.1"/>
<circle cx="311.55" cy="364.40" r="0.9" fill="#d63c2a"/>
<text x="318.3" y="366.6" font-size="6.6" fill="#2e2e2e" stroke="#2e2e2e" stroke-width="0.15" font-style="italic" textLength="18.2" lengthAdjust="spacingAndGlyphs">Gdf11</text>
<text x="336.8" y="363.1" font-size="4.4" fill="#2e2e2e" stroke="#2e2e2e" stroke-width="0.15" font-style="italic" textLength="5.5" lengthAdjust="spacingAndGlyphs">+/-</text>
<line x1="307.7" y1="375" x2="315.4" y2="375" stroke="#151515" stroke-width="1.1"/>
<circle cx="311.55" cy="375.00" r="0.9" fill="#151515"/>
<text x="318.3" y="377.2" font-size="6.6" fill="#2e2e2e" stroke="#2e2e2e" stroke-width="0.15" font-style="italic" textLength="18.2" lengthAdjust="spacingAndGlyphs">Gdf11</text>
<text x="336.8" y="373.7" font-size="4.4" fill="#2e2e2e" stroke="#2e2e2e" stroke-width="0.15" font-style="italic" textLength="5.5" lengthAdjust="spacingAndGlyphs">-/-</text>
<text x="191.5" y="400.6" font-size="8.6" fill="#1e1e1e" stroke="#1e1e1e" stroke-width="0.15" textLength="45.6" lengthAdjust="spacingAndGlyphs" transform="rotate(-90 191.5 400.6)">Hematocrit (%)</text>
<text x="258.4" y="433.1" font-size="8.4" text-anchor="middle" fill="#1e1e1e" stroke="#1e1e1e" stroke-width="0.15" textLength="67.5" lengthAdjust="spacingAndGlyphs">Weeks post transplant</text>
<line x1="383.3" y1="347.6" x2="383.3" y2="409.3" stroke="#2a2a2a" stroke-width="1.3"/>
<line x1="382.7" y1="408.7" x2="472.9" y2="408.7" stroke="#1a1a1a" stroke-width="1.3"/>
<line x1="380.2" y1="408.7" x2="383.3" y2="408.7" stroke="#2a2a2a" stroke-width="0.9"/>
<text x="377.3" y="411" font-size="6.4" text-anchor="end" fill="#1e1e1e" stroke="#1e1e1e" stroke-width="0.15">0</text>
<line x1="380.2" y1="394.12" x2="383.3" y2="394.12" stroke="#2a2a2a" stroke-width="0.9"/>
<text x="377.3" y="396.43" font-size="6.4" text-anchor="end" fill="#1e1e1e" stroke="#1e1e1e" stroke-width="0.15" textLength="6.9" lengthAdjust="spacingAndGlyphs">50</text>
<line x1="380.2" y1="379.55" x2="383.3" y2="379.55" stroke="#2a2a2a" stroke-width="0.9"/>
<text x="377.3" y="381.85" font-size="6.4" text-anchor="end" fill="#1e1e1e" stroke="#1e1e1e" stroke-width="0.15" textLength="10.35" lengthAdjust="spacingAndGlyphs">100</text>
<line x1="380.2" y1="364.98" x2="383.3" y2="364.98" stroke="#2a2a2a" stroke-width="0.9"/>
<text x="377.3" y="367.28" font-size="6.4" text-anchor="end" fill="#1e1e1e" stroke="#1e1e1e" stroke-width="0.15" textLength="10.35" lengthAdjust="spacingAndGlyphs">150</text>
<line x1="380.2" y1="350.4" x2="383.3" y2="350.4" stroke="#2a2a2a" stroke-width="0.9"/>
<text x="377.3" y="352.7" font-size="6.4" text-anchor="end" fill="#1e1e1e" stroke="#1e1e1e" stroke-width="0.15" textLength="10.35" lengthAdjust="spacingAndGlyphs">200</text>
<line x1="383.3" y1="408.7" x2="383.3" y2="411" stroke="#1a1a1a" stroke-width="0.9"/>
<text x="383.3" y="421" font-size="6.4" text-anchor="middle" fill="#1e1e1e" stroke="#1e1e1e" stroke-width="0.15">0</text>
<line x1="405.1" y1="408.7" x2="405.1" y2="411" stroke="#1a1a1a" stroke-width="0.9"/>
<text x="405.1" y="421" font-size="6.4" text-anchor="middle" fill="#1e1e1e" stroke="#1e1e1e" stroke-width="0.15">1</text>
<line x1="426.9" y1="408.7" x2="426.9" y2="411" stroke="#1a1a1a" stroke-width="0.9"/>
<text x="426.9" y="421" font-size="6.4" text-anchor="middle" fill="#1e1e1e" stroke="#1e1e1e" stroke-width="0.15">2</text>
<line x1="448.7" y1="408.7" x2="448.7" y2="411" stroke="#1a1a1a" stroke-width="0.9"/>
<text x="448.7" y="421" font-size="6.4" text-anchor="middle" fill="#1e1e1e" stroke="#1e1e1e" stroke-width="0.15">3</text>
<line x1="470.5" y1="408.7" x2="470.5" y2="411" stroke="#1a1a1a" stroke-width="0.9"/>
<text x="470.5" y="421" font-size="6.4" text-anchor="middle" fill="#1e1e1e" stroke="#1e1e1e" stroke-width="0.15">4</text>
<line x1="383.3" y1="361.19" x2="383.3" y2="358.85" stroke="#151515" stroke-width="0.8"/>
<line x1="381.7" y1="358.85" x2="384.9" y2="358.85" stroke="#151515" stroke-width="0.8"/>
<line x1="383.3" y1="361.19" x2="383.3" y2="363.52" stroke="#151515" stroke-width="0.8"/>
<line x1="381.7" y1="363.52" x2="384.9" y2="363.52" stroke="#151515" stroke-width="0.8"/>
<line x1="405.1" y1="381.01" x2="405.1" y2="374.59" stroke="#151515" stroke-width="0.8"/>
<line x1="403.5" y1="374.59" x2="406.7" y2="374.59" stroke="#151515" stroke-width="0.8"/>
<line x1="405.1" y1="381.01" x2="405.1" y2="387.42" stroke="#151515" stroke-width="0.8"/>
<line x1="403.5" y1="387.42" x2="406.7" y2="387.42" stroke="#151515" stroke-width="0.8"/>
<line x1="426.9" y1="376.63" x2="426.9" y2="372.26" stroke="#151515" stroke-width="0.8"/>
<line x1="425.3" y1="372.26" x2="428.5" y2="372.26" stroke="#151515" stroke-width="0.8"/>
<line x1="426.9" y1="376.63" x2="426.9" y2="381.01" stroke="#151515" stroke-width="0.8"/>
<line x1="425.3" y1="381.01" x2="428.5" y2="381.01" stroke="#151515" stroke-width="0.8"/>
<line x1="448.7" y1="373.72" x2="448.7" y2="366.43" stroke="#151515" stroke-width="0.8"/>
<line x1="447.1" y1="366.43" x2="450.3" y2="366.43" stroke="#151515" stroke-width="0.8"/>
<line x1="448.7" y1="373.72" x2="448.7" y2="381.01" stroke="#151515" stroke-width="0.8"/>
<line x1="447.1" y1="381.01" x2="450.3" y2="381.01" stroke="#151515" stroke-width="0.8"/>
<line x1="470.5" y1="372.85" x2="470.5" y2="367.6" stroke="#151515" stroke-width="0.8"/>
<line x1="468.9" y1="367.6" x2="472.1" y2="367.6" stroke="#151515" stroke-width="0.8"/>
<line x1="470.5" y1="372.85" x2="470.5" y2="378.09" stroke="#151515" stroke-width="0.8"/>
<line x1="468.9" y1="378.09" x2="472.1" y2="378.09" stroke="#151515" stroke-width="0.8"/>
<polyline points="383.30,361.19 405.10,381.01 426.90,376.63 448.70,373.72 470.50,372.85" fill="none" stroke="#151515" stroke-width="1.2" stroke-linejoin="round"/>
<circle cx="383.30" cy="361.19" r="1.2" fill="#151515"/>
<circle cx="405.10" cy="381.01" r="1.2" fill="#151515"/>
<circle cx="426.90" cy="376.63" r="1.2" fill="#151515"/>
<circle cx="448.70" cy="373.72" r="1.2" fill="#151515"/>
<circle cx="470.50" cy="372.85" r="1.2" fill="#151515"/>
<line x1="383.3" y1="362.06" x2="383.3" y2="357.1" stroke="#d63c2a" stroke-width="0.8"/>
<line x1="381.7" y1="357.1" x2="384.9" y2="357.1" stroke="#d63c2a" stroke-width="0.8"/>
<line x1="383.3" y1="362.06" x2="383.3" y2="367.02" stroke="#d63c2a" stroke-width="0.8"/>
<line x1="381.7" y1="367.02" x2="384.9" y2="367.02" stroke="#d63c2a" stroke-width="0.8"/>
<line x1="405.1" y1="374.59" x2="405.1" y2="369.35" stroke="#d63c2a" stroke-width="0.8"/>
<line x1="403.5" y1="369.35" x2="406.7" y2="369.35" stroke="#d63c2a" stroke-width="0.8"/>
<line x1="405.1" y1="374.59" x2="405.1" y2="379.84" stroke="#d63c2a" stroke-width="0.8"/>
<line x1="403.5" y1="379.84" x2="406.7" y2="379.84" stroke="#d63c2a" stroke-width="0.8"/>
<line x1="426.9" y1="378.68" x2="426.9" y2="372.85" stroke="#d63c2a" stroke-width="0.8"/>
<line x1="425.3" y1="372.85" x2="428.5" y2="372.85" stroke="#d63c2a" stroke-width="0.8"/>
<line x1="426.9" y1="378.68" x2="426.9" y2="384.51" stroke="#d63c2a" stroke-width="0.8"/>
<line x1="425.3" y1="384.51" x2="428.5" y2="384.51" stroke="#d63c2a" stroke-width="0.8"/>
<line x1="448.7" y1="376.63" x2="448.7" y2="364.68" stroke="#d63c2a" stroke-width="0.8"/>
<line x1="447.1" y1="364.68" x2="450.3" y2="364.68" stroke="#d63c2a" stroke-width="0.8"/>
<line x1="448.7" y1="376.63" x2="448.7" y2="388.59" stroke="#d63c2a" stroke-width="0.8"/>
<line x1="447.1" y1="388.59" x2="450.3" y2="388.59" stroke="#d63c2a" stroke-width="0.8"/>
<line x1="470.5" y1="369.35" x2="470.5" y2="365.27" stroke="#d63c2a" stroke-width="0.8"/>
<line x1="468.9" y1="365.27" x2="472.1" y2="365.27" stroke="#d63c2a" stroke-width="0.8"/>
<line x1="470.5" y1="369.35" x2="470.5" y2="373.43" stroke="#d63c2a" stroke-width="0.8"/>
<line x1="468.9" y1="373.43" x2="472.1" y2="373.43" stroke="#d63c2a" stroke-width="0.8"/>
<polyline points="383.30,362.06 405.10,374.59 426.90,378.68 448.70,376.63 470.50,369.35" fill="none" stroke="#d63c2a" stroke-width="1.2" stroke-linejoin="round"/>
<circle cx="383.30" cy="362.06" r="1.2" fill="#d63c2a"/>
<circle cx="405.10" cy="374.59" r="1.2" fill="#d63c2a"/>
<circle cx="426.90" cy="378.68" r="1.2" fill="#d63c2a"/>
<circle cx="448.70" cy="376.63" r="1.2" fill="#d63c2a"/>
<circle cx="470.50" cy="369.35" r="1.2" fill="#d63c2a"/>
<line x1="383.3" y1="364.39" x2="383.3" y2="362.06" stroke="#2b2a8e" stroke-width="0.8"/>
<line x1="381.7" y1="362.06" x2="384.9" y2="362.06" stroke="#2b2a8e" stroke-width="0.8"/>
<line x1="383.3" y1="364.39" x2="383.3" y2="366.72" stroke="#2b2a8e" stroke-width="0.8"/>
<line x1="381.7" y1="366.72" x2="384.9" y2="366.72" stroke="#2b2a8e" stroke-width="0.8"/>
<line x1="405.1" y1="378.09" x2="405.1" y2="369.93" stroke="#2b2a8e" stroke-width="0.8"/>
<line x1="403.5" y1="369.93" x2="406.7" y2="369.93" stroke="#2b2a8e" stroke-width="0.8"/>
<line x1="405.1" y1="378.09" x2="405.1" y2="386.25" stroke="#2b2a8e" stroke-width="0.8"/>
<line x1="403.5" y1="386.25" x2="406.7" y2="386.25" stroke="#2b2a8e" stroke-width="0.8"/>
<line x1="426.9" y1="375.76" x2="426.9" y2="368.18" stroke="#2b2a8e" stroke-width="0.8"/>
<line x1="425.3" y1="368.18" x2="428.5" y2="368.18" stroke="#2b2a8e" stroke-width="0.8"/>
<line x1="426.9" y1="375.76" x2="426.9" y2="383.34" stroke="#2b2a8e" stroke-width="0.8"/>
<line x1="425.3" y1="383.34" x2="428.5" y2="383.34" stroke="#2b2a8e" stroke-width="0.8"/>
<line x1="448.7" y1="374.3" x2="448.7" y2="362.35" stroke="#2b2a8e" stroke-width="0.8"/>
<line x1="447.1" y1="362.35" x2="450.3" y2="362.35" stroke="#2b2a8e" stroke-width="0.8"/>
<line x1="448.7" y1="374.3" x2="448.7" y2="386.25" stroke="#2b2a8e" stroke-width="0.8"/>
<line x1="447.1" y1="386.25" x2="450.3" y2="386.25" stroke="#2b2a8e" stroke-width="0.8"/>
<line x1="470.5" y1="370.81" x2="470.5" y2="368.47" stroke="#2b2a8e" stroke-width="0.8"/>
<line x1="468.9" y1="368.47" x2="472.1" y2="368.47" stroke="#2b2a8e" stroke-width="0.8"/>
<line x1="470.5" y1="370.81" x2="470.5" y2="373.14" stroke="#2b2a8e" stroke-width="0.8"/>
<line x1="468.9" y1="373.14" x2="472.1" y2="373.14" stroke="#2b2a8e" stroke-width="0.8"/>
<polyline points="383.30,364.39 405.10,378.09 426.90,375.76 448.70,374.30 470.50,370.81" fill="none" stroke="#2b2a8e" stroke-width="1.2" stroke-linejoin="round"/>
<circle cx="383.30" cy="364.39" r="1.2" fill="#2b2a8e"/>
<circle cx="405.10" cy="378.09" r="1.2" fill="#2b2a8e"/>
<circle cx="426.90" cy="375.76" r="1.2" fill="#2b2a8e"/>
<circle cx="448.70" cy="374.30" r="1.2" fill="#2b2a8e"/>
<circle cx="470.50" cy="370.81" r="1.2" fill="#2b2a8e"/>
<line x1="476.7" y1="354.2" x2="484.4" y2="354.2" stroke="#2b2a8e" stroke-width="1.1"/>
<circle cx="480.55" cy="354.20" r="0.9" fill="#2b2a8e"/>
<text x="487.3" y="356.4" font-size="6.6" fill="#2e2e2e" stroke="#2e2e2e" stroke-width="0.15" font-style="italic" textLength="18.2" lengthAdjust="spacingAndGlyphs">Gdf11</text>
<text x="505.8" y="352.9" font-size="4.4" fill="#2e2e2e" stroke="#2e2e2e" stroke-width="0.15" font-style="italic" textLength="6.3" lengthAdjust="spacingAndGlyphs">+/+</text>
<line x1="476.7" y1="364.4" x2="484.4" y2="364.4" stroke="#d63c2a" stroke-width="1.1"/>
<circle cx="480.55" cy="364.40" r="0.9" fill="#d63c2a"/>
<text x="487.3" y="366.6" font-size="6.6" fill="#2e2e2e" stroke="#2e2e2e" stroke-width="0.15" font-style="italic" textLength="18.2" lengthAdjust="spacingAndGlyphs">Gdf11</text>
<text x="505.8" y="363.1" font-size="4.4" fill="#2e2e2e" stroke="#2e2e2e" stroke-width="0.15" font-style="italic" textLength="5.5" lengthAdjust="spacingAndGlyphs">+/-</text>
<line x1="476.7" y1="374.8" x2="484.4" y2="374.8" stroke="#151515" stroke-width="1.1"/>
<circle cx="480.55" cy="374.80" r="0.9" fill="#151515"/>
<text x="487.3" y="377" font-size="6.6" fill="#2e2e2e" stroke="#2e2e2e" stroke-width="0.15" font-style="italic" textLength="18.2" lengthAdjust="spacingAndGlyphs">Gdf11</text>
<text x="505.8" y="373.5" font-size="4.4" fill="#2e2e2e" stroke="#2e2e2e" stroke-width="0.15" font-style="italic" textLength="5.5" lengthAdjust="spacingAndGlyphs">-/-</text>
<text x="361" y="406" font-size="8.6" fill="#1e1e1e" stroke="#1e1e1e" stroke-width="0.15" textLength="56" lengthAdjust="spacingAndGlyphs" transform="rotate(-90 361 406)">Hemoglobin (g/dl)</text>
<text x="428.4" y="433.1" font-size="8.4" text-anchor="middle" fill="#1e1e1e" stroke="#1e1e1e" stroke-width="0.15" textLength="67.5" lengthAdjust="spacingAndGlyphs">Weeks post transplant</text>
<line x1="44.1" y1="460.8" x2="44.1" y2="521.9" stroke="#2a2a2a" stroke-width="1.3"/>
<line x1="43.5" y1="521.3" x2="133.4" y2="521.3" stroke="#1a1a1a" stroke-width="1.3"/>
<line x1="41" y1="521.3" x2="44.1" y2="521.3" stroke="#2a2a2a" stroke-width="0.9"/>
<text x="38.1" y="523.6" font-size="6.4" text-anchor="end" fill="#1e1e1e" stroke="#1e1e1e" stroke-width="0.15">0</text>
<line x1="41" y1="509.64" x2="44.1" y2="509.64" stroke="#2a2a2a" stroke-width="0.9"/>
<text x="38.1" y="511.94" font-size="6.4" text-anchor="end" fill="#1e1e1e" stroke="#1e1e1e" stroke-width="0.15" textLength="6.9" lengthAdjust="spacingAndGlyphs">20</text>
<line x1="41" y1="497.98" x2="44.1" y2="497.98" stroke="#2a2a2a" stroke-width="0.9"/>
<text x="38.1" y="500.28" font-size="6.4" text-anchor="end" fill="#1e1e1e" stroke="#1e1e1e" stroke-width="0.15" textLength="6.9" lengthAdjust="spacingAndGlyphs">40</text>
<line x1="41" y1="486.32" x2="44.1" y2="486.32" stroke="#2a2a2a" stroke-width="0.9"/>
<text x="38.1" y="488.62" font-size="6.4" text-anchor="end" fill="#1e1e1e" stroke="#1e1e1e" stroke-width="0.15" textLength="6.9" lengthAdjust="spacingAndGlyphs">60</text>
<line x1="41" y1="474.66" x2="44.1" y2="474.66" stroke="#2a2a2a" stroke-width="0.9"/>
<text x="38.1" y="476.96" font-size="6.4" text-anchor="end" fill="#1e1e1e" stroke="#1e1e1e" stroke-width="0.15" textLength="6.9" lengthAdjust="spacingAndGlyphs">80</text>
<line x1="41" y1="463" x2="44.1" y2="463" stroke="#2a2a2a" stroke-width="0.9"/>
<text x="38.1" y="465.3" font-size="6.4" text-anchor="end" fill="#1e1e1e" stroke="#1e1e1e" stroke-width="0.15" textLength="10.35" lengthAdjust="spacingAndGlyphs">100</text>
<line x1="50.2" y1="521.3" x2="50.2" y2="523.6" stroke="#1a1a1a" stroke-width="0.9"/>
<text x="50.2" y="533.6" font-size="6.4" text-anchor="middle" fill="#1e1e1e" stroke="#1e1e1e" stroke-width="0.15">4</text>
<line x1="77.3" y1="521.3" x2="77.3" y2="523.6" stroke="#1a1a1a" stroke-width="0.9"/>
<text x="77.3" y="533.6" font-size="6.4" text-anchor="middle" fill="#1e1e1e" stroke="#1e1e1e" stroke-width="0.15">8</text>
<line x1="104.3" y1="521.3" x2="104.3" y2="523.6" stroke="#1a1a1a" stroke-width="0.9"/>
<text x="104.3" y="533.6" font-size="6.4" text-anchor="middle" fill="#1e1e1e" stroke="#1e1e1e" stroke-width="0.15" textLength="6.9" lengthAdjust="spacingAndGlyphs">12</text>
<line x1="131.5" y1="521.3" x2="131.5" y2="523.6" stroke="#1a1a1a" stroke-width="0.9"/>
<text x="131.5" y="533.6" font-size="6.4" text-anchor="middle" fill="#1e1e1e" stroke="#1e1e1e" stroke-width="0.15" textLength="6.9" lengthAdjust="spacingAndGlyphs">16</text>
<line x1="50.2" y1="518.97" x2="50.2" y2="518.38" stroke="#151515" stroke-width="0.8"/>
<line x1="48.6" y1="518.38" x2="51.8" y2="518.38" stroke="#151515" stroke-width="0.8"/>
<line x1="50.2" y1="518.97" x2="50.2" y2="519.55" stroke="#151515" stroke-width="0.8"/>
<line x1="48.6" y1="519.55" x2="51.8" y2="519.55" stroke="#151515" stroke-width="0.8"/>
<line x1="77.3" y1="480.49" x2="77.3" y2="479.32" stroke="#151515" stroke-width="0.8"/>
<line x1="75.7" y1="479.32" x2="78.9" y2="479.32" stroke="#151515" stroke-width="0.8"/>
<line x1="77.3" y1="480.49" x2="77.3" y2="481.66" stroke="#151515" stroke-width="0.8"/>
<line x1="75.7" y1="481.66" x2="78.9" y2="481.66" stroke="#151515" stroke-width="0.8"/>
<line x1="104.3" y1="475.83" x2="104.3" y2="474.66" stroke="#151515" stroke-width="0.8"/>
<line x1="102.7" y1="474.66" x2="105.9" y2="474.66" stroke="#151515" stroke-width="0.8"/>
<line x1="104.3" y1="475.83" x2="104.3" y2="476.99" stroke="#151515" stroke-width="0.8"/>
<line x1="102.7" y1="476.99" x2="105.9" y2="476.99" stroke="#151515" stroke-width="0.8"/>
<line x1="131.5" y1="474.66" x2="131.5" y2="473.49" stroke="#151515" stroke-width="0.8"/>
<line x1="129.9" y1="473.49" x2="133.1" y2="473.49" stroke="#151515" stroke-width="0.8"/>
<line x1="131.5" y1="474.66" x2="131.5" y2="475.83" stroke="#151515" stroke-width="0.8"/>
<line x1="129.9" y1="475.83" x2="133.1" y2="475.83" stroke="#151515" stroke-width="0.8"/>
<polyline points="50.20,518.97 77.30,480.49 104.30,475.83 131.50,474.66" fill="none" stroke="#151515" stroke-width="1.2" stroke-linejoin="round"/>
<circle cx="50.20" cy="518.97" r="1.2" fill="#151515"/>
<circle cx="77.30" cy="480.49" r="1.2" fill="#151515"/>
<circle cx="104.30" cy="475.83" r="1.2" fill="#151515"/>
<circle cx="131.50" cy="474.66" r="1.2" fill="#151515"/>
<line x1="50.2" y1="518.97" x2="50.2" y2="517.22" stroke="#d63c2a" stroke-width="0.8"/>
<line x1="48.6" y1="517.22" x2="51.8" y2="517.22" stroke="#d63c2a" stroke-width="0.8"/>
<line x1="50.2" y1="518.97" x2="50.2" y2="520.72" stroke="#d63c2a" stroke-width="0.8"/>
<line x1="48.6" y1="520.72" x2="51.8" y2="520.72" stroke="#d63c2a" stroke-width="0.8"/>
<line x1="77.3" y1="481.07" x2="77.3" y2="477.87" stroke="#d63c2a" stroke-width="0.8"/>
<line x1="75.7" y1="477.87" x2="78.9" y2="477.87" stroke="#d63c2a" stroke-width="0.8"/>
<line x1="77.3" y1="481.07" x2="77.3" y2="484.28" stroke="#d63c2a" stroke-width="0.8"/>
<line x1="75.7" y1="484.28" x2="78.9" y2="484.28" stroke="#d63c2a" stroke-width="0.8"/>
<line x1="104.3" y1="475.83" x2="104.3" y2="473.79" stroke="#d63c2a" stroke-width="0.8"/>
<line x1="102.7" y1="473.79" x2="105.9" y2="473.79" stroke="#d63c2a" stroke-width="0.8"/>
<line x1="104.3" y1="475.83" x2="104.3" y2="477.87" stroke="#d63c2a" stroke-width="0.8"/>
<line x1="102.7" y1="477.87" x2="105.9" y2="477.87" stroke="#d63c2a" stroke-width="0.8"/>
<line x1="131.5" y1="474.66" x2="131.5" y2="470.58" stroke="#d63c2a" stroke-width="0.8"/>
<line x1="129.9" y1="470.58" x2="133.1" y2="470.58" stroke="#d63c2a" stroke-width="0.8"/>
<line x1="131.5" y1="474.66" x2="131.5" y2="478.74" stroke="#d63c2a" stroke-width="0.8"/>
<line x1="129.9" y1="478.74" x2="133.1" y2="478.74" stroke="#d63c2a" stroke-width="0.8"/>
<polyline points="50.20,518.97 77.30,481.07 104.30,475.83 131.50,474.66" fill="none" stroke="#d63c2a" stroke-width="1.2" stroke-linejoin="round"/>
<circle cx="50.20" cy="518.97" r="1.2" fill="#d63c2a"/>
<circle cx="77.30" cy="481.07" r="1.2" fill="#d63c2a"/>
<circle cx="104.30" cy="475.83" r="1.2" fill="#d63c2a"/>
<circle cx="131.50" cy="474.66" r="1.2" fill="#d63c2a"/>
<line x1="50.2" y1="518.68" x2="50.2" y2="517.22" stroke="#2b2a8e" stroke-width="0.8"/>
<line x1="48.6" y1="517.22" x2="51.8" y2="517.22" stroke="#2b2a8e" stroke-width="0.8"/>
<line x1="50.2" y1="518.68" x2="50.2" y2="520.13" stroke="#2b2a8e" stroke-width="0.8"/>
<line x1="48.6" y1="520.13" x2="51.8" y2="520.13" stroke="#2b2a8e" stroke-width="0.8"/>
<line x1="77.3" y1="481.07" x2="77.3" y2="479.32" stroke="#2b2a8e" stroke-width="0.8"/>
<line x1="75.7" y1="479.32" x2="78.9" y2="479.32" stroke="#2b2a8e" stroke-width="0.8"/>
<line x1="77.3" y1="481.07" x2="77.3" y2="482.82" stroke="#2b2a8e" stroke-width="0.8"/>
<line x1="75.7" y1="482.82" x2="78.9" y2="482.82" stroke="#2b2a8e" stroke-width="0.8"/>
<line x1="104.3" y1="475.53" x2="104.3" y2="473.79" stroke="#2b2a8e" stroke-width="0.8"/>
<line x1="102.7" y1="473.79" x2="105.9" y2="473.79" stroke="#2b2a8e" stroke-width="0.8"/>
<line x1="104.3" y1="475.53" x2="104.3" y2="477.28" stroke="#2b2a8e" stroke-width="0.8"/>
<line x1="102.7" y1="477.28" x2="105.9" y2="477.28" stroke="#2b2a8e" stroke-width="0.8"/>
<line x1="131.5" y1="474.37" x2="131.5" y2="472.62" stroke="#2b2a8e" stroke-width="0.8"/>
<line x1="129.9" y1="472.62" x2="133.1" y2="472.62" stroke="#2b2a8e" stroke-width="0.8"/>
<line x1="131.5" y1="474.37" x2="131.5" y2="476.12" stroke="#2b2a8e" stroke-width="0.8"/>
<line x1="129.9" y1="476.12" x2="133.1" y2="476.12" stroke="#2b2a8e" stroke-width="0.8"/>
<polyline points="50.20,518.68 77.30,481.07 104.30,475.53 131.50,474.37" fill="none" stroke="#2b2a8e" stroke-width="1.2" stroke-linejoin="round"/>
<circle cx="50.20" cy="518.68" r="1.2" fill="#2b2a8e"/>
<circle cx="77.30" cy="481.07" r="1.2" fill="#2b2a8e"/>
<circle cx="104.30" cy="475.53" r="1.2" fill="#2b2a8e"/>
<circle cx="131.50" cy="474.37" r="1.2" fill="#2b2a8e"/>
<line x1="137.9" y1="486.5" x2="144.9" y2="486.5" stroke="#2b2a8e" stroke-width="1.1"/>
<circle cx="141.40" cy="486.50" r="0.9" fill="#2b2a8e"/>
<text x="148.6" y="488.7" font-size="6.6" fill="#2e2e2e" stroke="#2e2e2e" stroke-width="0.15" font-style="italic" textLength="18.2" lengthAdjust="spacingAndGlyphs">Gdf11</text>
<text x="167.1" y="485.2" font-size="4.4" fill="#2e2e2e" stroke="#2e2e2e" stroke-width="0.15" font-style="italic" textLength="6.3" lengthAdjust="spacingAndGlyphs">+/+</text>
<line x1="137.9" y1="497" x2="144.9" y2="497" stroke="#d63c2a" stroke-width="1.1"/>
<circle cx="141.40" cy="497.00" r="0.9" fill="#d63c2a"/>
<text x="148.6" y="499.2" font-size="6.6" fill="#2e2e2e" stroke="#2e2e2e" stroke-width="0.15" font-style="italic" textLength="18.2" lengthAdjust="spacingAndGlyphs">Gdf11</text>
<text x="167.1" y="495.7" font-size="4.4" fill="#2e2e2e" stroke="#2e2e2e" stroke-width="0.15" font-style="italic" textLength="5.5" lengthAdjust="spacingAndGlyphs">+/-</text>
<line x1="137.9" y1="507.5" x2="144.9" y2="507.5" stroke="#151515" stroke-width="1.1"/>
<circle cx="141.40" cy="507.50" r="0.9" fill="#151515"/>
<text x="148.6" y="509.7" font-size="6.6" fill="#2e2e2e" stroke="#2e2e2e" stroke-width="0.15" font-style="italic" textLength="18.2" lengthAdjust="spacingAndGlyphs">Gdf11</text>
<text x="167.1" y="506.2" font-size="4.4" fill="#2e2e2e" stroke="#2e2e2e" stroke-width="0.15" font-style="italic" textLength="5.5" lengthAdjust="spacingAndGlyphs">-/-</text>
<text x="75.3" y="454.5" font-size="9" fill="#1a1a1a" stroke="#1a1a1a" stroke-width="0.15" textLength="24.4" lengthAdjust="spacingAndGlyphs">T cells</text>
<text x="21.3" y="520.5" font-size="8.6" fill="#1e1e1e" stroke="#1e1e1e" stroke-width="0.15" textLength="59" lengthAdjust="spacingAndGlyphs" transform="rotate(-90 21.3 520.5)">% donor chimerism</text>
<text x="88.95" y="545.2" font-size="8.4" text-anchor="middle" fill="#1e1e1e" stroke="#1e1e1e" stroke-width="0.15" textLength="67.5" lengthAdjust="spacingAndGlyphs">Weeks post transplant</text>
<line x1="213.9" y1="460.8" x2="213.9" y2="521.9" stroke="#2a2a2a" stroke-width="1.3"/>
<line x1="213.3" y1="521.3" x2="302.9" y2="521.3" stroke="#1a1a1a" stroke-width="1.3"/>
<line x1="210.8" y1="521.3" x2="213.9" y2="521.3" stroke="#2a2a2a" stroke-width="0.9"/>
<text x="207.9" y="523.6" font-size="6.4" text-anchor="end" fill="#1e1e1e" stroke="#1e1e1e" stroke-width="0.15">0</text>
<line x1="210.8" y1="509.64" x2="213.9" y2="509.64" stroke="#2a2a2a" stroke-width="0.9"/>
<text x="207.9" y="511.94" font-size="6.4" text-anchor="end" fill="#1e1e1e" stroke="#1e1e1e" stroke-width="0.15" textLength="6.9" lengthAdjust="spacingAndGlyphs">20</text>
<line x1="210.8" y1="497.98" x2="213.9" y2="497.98" stroke="#2a2a2a" stroke-width="0.9"/>
<text x="207.9" y="500.28" font-size="6.4" text-anchor="end" fill="#1e1e1e" stroke="#1e1e1e" stroke-width="0.15" textLength="6.9" lengthAdjust="spacingAndGlyphs">40</text>
<line x1="210.8" y1="486.32" x2="213.9" y2="486.32" stroke="#2a2a2a" stroke-width="0.9"/>
<text x="207.9" y="488.62" font-size="6.4" text-anchor="end" fill="#1e1e1e" stroke="#1e1e1e" stroke-width="0.15" textLength="6.9" lengthAdjust="spacingAndGlyphs">60</text>
<line x1="210.8" y1="474.66" x2="213.9" y2="474.66" stroke="#2a2a2a" stroke-width="0.9"/>
<text x="207.9" y="476.96" font-size="6.4" text-anchor="end" fill="#1e1e1e" stroke="#1e1e1e" stroke-width="0.15" textLength="6.9" lengthAdjust="spacingAndGlyphs">80</text>
<line x1="210.8" y1="463" x2="213.9" y2="463" stroke="#2a2a2a" stroke-width="0.9"/>
<text x="207.9" y="465.3" font-size="6.4" text-anchor="end" fill="#1e1e1e" stroke="#1e1e1e" stroke-width="0.15" textLength="10.35" lengthAdjust="spacingAndGlyphs">100</text>
<line x1="220.3" y1="521.3" x2="220.3" y2="523.6" stroke="#1a1a1a" stroke-width="0.9"/>
<text x="220.3" y="533.6" font-size="6.4" text-anchor="middle" fill="#1e1e1e" stroke="#1e1e1e" stroke-width="0.15">4</text>
<line x1="247.3" y1="521.3" x2="247.3" y2="523.6" stroke="#1a1a1a" stroke-width="0.9"/>
<text x="247.3" y="533.6" font-size="6.4" text-anchor="middle" fill="#1e1e1e" stroke="#1e1e1e" stroke-width="0.15">8</text>
<line x1="273.9" y1="521.3" x2="273.9" y2="523.6" stroke="#1a1a1a" stroke-width="0.9"/>
<text x="273.9" y="533.6" font-size="6.4" text-anchor="middle" fill="#1e1e1e" stroke="#1e1e1e" stroke-width="0.15" textLength="6.9" lengthAdjust="spacingAndGlyphs">12</text>
<line x1="300.5" y1="521.3" x2="300.5" y2="523.6" stroke="#1a1a1a" stroke-width="0.9"/>
<text x="300.5" y="533.6" font-size="6.4" text-anchor="middle" fill="#1e1e1e" stroke="#1e1e1e" stroke-width="0.15" textLength="6.9" lengthAdjust="spacingAndGlyphs">16</text>
<polyline points="220.30,463.58 247.30,463.58 273.90,463.87 300.50,463.87" fill="none" stroke="#151515" stroke-width="1.2" stroke-linejoin="round"/>
<circle cx="220.30" cy="463.58" r="1.2" fill="#151515"/>
<circle cx="247.30" cy="463.58" r="1.2" fill="#151515"/>
<circle cx="273.90" cy="463.87" r="1.2" fill="#151515"/>
<circle cx="300.50" cy="463.87" r="1.2" fill="#151515"/>
<line x1="300.5" y1="464.46" x2="300.5" y2="465.04" stroke="#d63c2a" stroke-width="0.8"/>
<line x1="298.9" y1="465.04" x2="302.1" y2="465.04" stroke="#d63c2a" stroke-width="0.8"/>
<polyline points="220.30,463.58 247.30,463.58 273.90,463.87 300.50,464.46" fill="none" stroke="#d63c2a" stroke-width="1.2" stroke-linejoin="round"/>
<circle cx="220.30" cy="463.58" r="1.2" fill="#d63c2a"/>
<circle cx="247.30" cy="463.58" r="1.2" fill="#d63c2a"/>
<circle cx="273.90" cy="463.87" r="1.2" fill="#d63c2a"/>
<circle cx="300.50" cy="464.46" r="1.2" fill="#d63c2a"/>
<polyline points="220.30,463.58 247.30,463.58 273.90,463.87 300.50,463.76" fill="none" stroke="#2b2a8e" stroke-width="1.2" stroke-linejoin="round"/>
<circle cx="220.30" cy="463.58" r="1.2" fill="#2b2a8e"/>
<circle cx="247.30" cy="463.58" r="1.2" fill="#2b2a8e"/>
<circle cx="273.90" cy="463.87" r="1.2" fill="#2b2a8e"/>
<circle cx="300.50" cy="463.76" r="1.2" fill="#2b2a8e"/>
<line x1="307.8" y1="486.8" x2="315.4" y2="486.8" stroke="#2b2a8e" stroke-width="1.1"/>
<circle cx="311.60" cy="486.80" r="0.9" fill="#2b2a8e"/>
<text x="318.8" y="489" font-size="6.6" fill="#2e2e2e" stroke="#2e2e2e" stroke-width="0.15" font-style="italic" textLength="18.2" lengthAdjust="spacingAndGlyphs">Gdf11</text>
<text x="337.3" y="485.5" font-size="4.4" fill="#2e2e2e" stroke="#2e2e2e" stroke-width="0.15" font-style="italic" textLength="6.3" lengthAdjust="spacingAndGlyphs">+/+</text>
<line x1="307.8" y1="497.2" x2="315.4" y2="497.2" stroke="#d63c2a" stroke-width="1.1"/>
<circle cx="311.60" cy="497.20" r="0.9" fill="#d63c2a"/>
<text x="318.8" y="499.4" font-size="6.6" fill="#2e2e2e" stroke="#2e2e2e" stroke-width="0.15" font-style="italic" textLength="18.2" lengthAdjust="spacingAndGlyphs">Gdf11</text>
<text x="337.3" y="495.9" font-size="4.4" fill="#2e2e2e" stroke="#2e2e2e" stroke-width="0.15" font-style="italic" textLength="5.5" lengthAdjust="spacingAndGlyphs">+/-</text>
<line x1="307.8" y1="507" x2="315.4" y2="507" stroke="#151515" stroke-width="1.1"/>
<circle cx="311.60" cy="507.00" r="0.9" fill="#151515"/>
<text x="318.8" y="509.2" font-size="6.6" fill="#2e2e2e" stroke="#2e2e2e" stroke-width="0.15" font-style="italic" textLength="18.2" lengthAdjust="spacingAndGlyphs">Gdf11</text>
<text x="337.3" y="505.7" font-size="4.4" fill="#2e2e2e" stroke="#2e2e2e" stroke-width="0.15" font-style="italic" textLength="5.5" lengthAdjust="spacingAndGlyphs">-/-</text>
<text x="244.1" y="454.5" font-size="9" fill="#1a1a1a" stroke="#1a1a1a" stroke-width="0.15" textLength="26.4" lengthAdjust="spacingAndGlyphs">B cells</text>
<text x="191.1" y="520.5" font-size="8.6" fill="#1e1e1e" stroke="#1e1e1e" stroke-width="0.15" textLength="59" lengthAdjust="spacingAndGlyphs" transform="rotate(-90 191.1 520.5)">% donor chimerism</text>
<text x="258.6" y="545.2" font-size="8.4" text-anchor="middle" fill="#1e1e1e" stroke="#1e1e1e" stroke-width="0.15" textLength="67.5" lengthAdjust="spacingAndGlyphs">Weeks post transplant</text>
<line x1="44.1" y1="573.7" x2="44.1" y2="635.2" stroke="#2a2a2a" stroke-width="1.3"/>
<line x1="43.5" y1="634.6" x2="133.4" y2="634.6" stroke="#1a1a1a" stroke-width="1.3"/>
<line x1="41" y1="634.6" x2="44.1" y2="634.6" stroke="#2a2a2a" stroke-width="0.9"/>
<text x="38.1" y="636.9" font-size="6.4" text-anchor="end" fill="#1e1e1e" stroke="#1e1e1e" stroke-width="0.15">0</text>
<line x1="41" y1="622.86" x2="44.1" y2="622.86" stroke="#2a2a2a" stroke-width="0.9"/>
<text x="38.1" y="625.16" font-size="6.4" text-anchor="end" fill="#1e1e1e" stroke="#1e1e1e" stroke-width="0.15" textLength="6.9" lengthAdjust="spacingAndGlyphs">20</text>
<line x1="41" y1="611.12" x2="44.1" y2="611.12" stroke="#2a2a2a" stroke-width="0.9"/>
<text x="38.1" y="613.42" font-size="6.4" text-anchor="end" fill="#1e1e1e" stroke="#1e1e1e" stroke-width="0.15" textLength="6.9" lengthAdjust="spacingAndGlyphs">40</text>
<line x1="41" y1="599.38" x2="44.1" y2="599.38" stroke="#2a2a2a" stroke-width="0.9"/>
<text x="38.1" y="601.68" font-size="6.4" text-anchor="end" fill="#1e1e1e" stroke="#1e1e1e" stroke-width="0.15" textLength="6.9" lengthAdjust="spacingAndGlyphs">60</text>
<line x1="41" y1="587.64" x2="44.1" y2="587.64" stroke="#2a2a2a" stroke-width="0.9"/>
<text x="38.1" y="589.94" font-size="6.4" text-anchor="end" fill="#1e1e1e" stroke="#1e1e1e" stroke-width="0.15" textLength="6.9" lengthAdjust="spacingAndGlyphs">80</text>
<line x1="41" y1="575.9" x2="44.1" y2="575.9" stroke="#2a2a2a" stroke-width="0.9"/>
<text x="38.1" y="578.2" font-size="6.4" text-anchor="end" fill="#1e1e1e" stroke="#1e1e1e" stroke-width="0.15" textLength="10.35" lengthAdjust="spacingAndGlyphs">100</text>
<line x1="50.2" y1="634.6" x2="50.2" y2="636.9" stroke="#1a1a1a" stroke-width="0.9"/>
<text x="50.2" y="646.9" font-size="6.4" text-anchor="middle" fill="#1e1e1e" stroke="#1e1e1e" stroke-width="0.15">4</text>
<line x1="77.3" y1="634.6" x2="77.3" y2="636.9" stroke="#1a1a1a" stroke-width="0.9"/>
<text x="77.3" y="646.9" font-size="6.4" text-anchor="middle" fill="#1e1e1e" stroke="#1e1e1e" stroke-width="0.15">8</text>
<line x1="104.3" y1="634.6" x2="104.3" y2="636.9" stroke="#1a1a1a" stroke-width="0.9"/>
<text x="104.3" y="646.9" font-size="6.4" text-anchor="middle" fill="#1e1e1e" stroke="#1e1e1e" stroke-width="0.15" textLength="6.9" lengthAdjust="spacingAndGlyphs">12</text>
<line x1="131.5" y1="634.6" x2="131.5" y2="636.9" stroke="#1a1a1a" stroke-width="0.9"/>
<text x="131.5" y="646.9" font-size="6.4" text-anchor="middle" fill="#1e1e1e" stroke="#1e1e1e" stroke-width="0.15" textLength="6.9" lengthAdjust="spacingAndGlyphs">16</text>
<line x1="131.5" y1="577.95" x2="131.5" y2="582.65" stroke="#151515" stroke-width="0.8"/>
<line x1="129.9" y1="582.65" x2="133.1" y2="582.65" stroke="#151515" stroke-width="0.8"/>
<polyline points="50.20,577.37 77.30,577.48 104.30,577.54 131.50,577.95" fill="none" stroke="#151515" stroke-width="1.2" stroke-linejoin="round"/>
<circle cx="50.20" cy="577.37" r="1.2" fill="#151515"/>
<circle cx="77.30" cy="577.48" r="1.2" fill="#151515"/>
<circle cx="104.30" cy="577.54" r="1.2" fill="#151515"/>
<circle cx="131.50" cy="577.95" r="1.2" fill="#151515"/>
<line x1="50.2" y1="577.95" x2="50.2" y2="578.54" stroke="#d63c2a" stroke-width="0.8"/>
<line x1="48.6" y1="578.54" x2="51.8" y2="578.54" stroke="#d63c2a" stroke-width="0.8"/>
<line x1="77.3" y1="580.13" x2="77.3" y2="591.28" stroke="#d63c2a" stroke-width="0.8"/>
<line x1="75.7" y1="591.28" x2="78.9" y2="591.28" stroke="#d63c2a" stroke-width="0.8"/>
<line x1="104.3" y1="580.24" x2="104.3" y2="591.98" stroke="#d63c2a" stroke-width="0.8"/>
<line x1="102.7" y1="591.98" x2="105.9" y2="591.98" stroke="#d63c2a" stroke-width="0.8"/>
<line x1="131.5" y1="580.13" x2="131.5" y2="591.87" stroke="#d63c2a" stroke-width="0.8"/>
<line x1="129.9" y1="591.87" x2="133.1" y2="591.87" stroke="#d63c2a" stroke-width="0.8"/>
<polyline points="50.20,577.95 77.30,580.13 104.30,580.24 131.50,580.13" fill="none" stroke="#d63c2a" stroke-width="1.2" stroke-linejoin="round"/>
<circle cx="50.20" cy="577.95" r="1.2" fill="#d63c2a"/>
<circle cx="77.30" cy="580.13" r="1.2" fill="#d63c2a"/>
<circle cx="104.30" cy="580.24" r="1.2" fill="#d63c2a"/>
<circle cx="131.50" cy="580.13" r="1.2" fill="#d63c2a"/>
<polyline points="50.20,577.07 77.30,577.07 104.30,577.07 131.50,577.07" fill="none" stroke="#2b2a8e" stroke-width="1.2" stroke-linejoin="round"/>
<circle cx="50.20" cy="577.07" r="1.2" fill="#2b2a8e"/>
<circle cx="77.30" cy="577.07" r="1.2" fill="#2b2a8e"/>
<circle cx="104.30" cy="577.07" r="1.2" fill="#2b2a8e"/>
<circle cx="131.50" cy="577.07" r="1.2" fill="#2b2a8e"/>
<line x1="137.9" y1="602.8" x2="144.9" y2="602.8" stroke="#2b2a8e" stroke-width="1.1"/>
<circle cx="141.40" cy="602.80" r="0.9" fill="#2b2a8e"/>
<text x="148.6" y="605" font-size="6.6" fill="#2e2e2e" stroke="#2e2e2e" stroke-width="0.15" font-style="italic" textLength="18.2" lengthAdjust="spacingAndGlyphs">Gdf11</text>
<text x="167.1" y="601.5" font-size="4.4" fill="#2e2e2e" stroke="#2e2e2e" stroke-width="0.15" font-style="italic" textLength="6.3" lengthAdjust="spacingAndGlyphs">+/+</text>
<line x1="137.9" y1="613.2" x2="144.9" y2="613.2" stroke="#d63c2a" stroke-width="1.1"/>
<circle cx="141.40" cy="613.20" r="0.9" fill="#d63c2a"/>
<text x="148.6" y="615.4" font-size="6.6" fill="#2e2e2e" stroke="#2e2e2e" stroke-width="0.15" font-style="italic" textLength="18.2" lengthAdjust="spacingAndGlyphs">Gdf11</text>
<text x="167.1" y="611.9" font-size="4.4" fill="#2e2e2e" stroke="#2e2e2e" stroke-width="0.15" font-style="italic" textLength="5.5" lengthAdjust="spacingAndGlyphs">+/-</text>
<line x1="137.9" y1="623" x2="144.9" y2="623" stroke="#151515" stroke-width="1.1"/>
<circle cx="141.40" cy="623.00" r="0.9" fill="#151515"/>
<text x="148.6" y="625.2" font-size="6.6" fill="#2e2e2e" stroke="#2e2e2e" stroke-width="0.15" font-style="italic" textLength="18.2" lengthAdjust="spacingAndGlyphs">Gdf11</text>
<text x="167.1" y="621.7" font-size="4.4" fill="#2e2e2e" stroke="#2e2e2e" stroke-width="0.15" font-style="italic" textLength="5.5" lengthAdjust="spacingAndGlyphs">-/-</text>
<text x="65.6" y="567.4" font-size="9" fill="#1a1a1a" stroke="#1a1a1a" stroke-width="0.15" textLength="43.3" lengthAdjust="spacingAndGlyphs">Monocytes</text>
<text x="21.3" y="633.5" font-size="8.6" fill="#1e1e1e" stroke="#1e1e1e" stroke-width="0.15" textLength="59" lengthAdjust="spacingAndGlyphs" transform="rotate(-90 21.3 633.5)">% donor chimerism</text>
<text x="88.95" y="658.5" font-size="8.4" text-anchor="middle" fill="#1e1e1e" stroke="#1e1e1e" stroke-width="0.15" textLength="67.5" lengthAdjust="spacingAndGlyphs">Weeks post transplant</text>
<line x1="213.9" y1="573.7" x2="213.9" y2="635.2" stroke="#2a2a2a" stroke-width="1.3"/>
<line x1="213.3" y1="634.6" x2="302.9" y2="634.6" stroke="#1a1a1a" stroke-width="1.3"/>
<line x1="210.8" y1="634.6" x2="213.9" y2="634.6" stroke="#2a2a2a" stroke-width="0.9"/>
<text x="207.9" y="636.9" font-size="6.4" text-anchor="end" fill="#1e1e1e" stroke="#1e1e1e" stroke-width="0.15">0</text>
<line x1="210.8" y1="622.86" x2="213.9" y2="622.86" stroke="#2a2a2a" stroke-width="0.9"/>
<text x="207.9" y="625.16" font-size="6.4" text-anchor="end" fill="#1e1e1e" stroke="#1e1e1e" stroke-width="0.15" textLength="6.9" lengthAdjust="spacingAndGlyphs">20</text>
<line x1="210.8" y1="611.12" x2="213.9" y2="611.12" stroke="#2a2a2a" stroke-width="0.9"/>
<text x="207.9" y="613.42" font-size="6.4" text-anchor="end" fill="#1e1e1e" stroke="#1e1e1e" stroke-width="0.15" textLength="6.9" lengthAdjust="spacingAndGlyphs">40</text>
<line x1="210.8" y1="599.38" x2="213.9" y2="599.38" stroke="#2a2a2a" stroke-width="0.9"/>
<text x="207.9" y="601.68" font-size="6.4" text-anchor="end" fill="#1e1e1e" stroke="#1e1e1e" stroke-width="0.15" textLength="6.9" lengthAdjust="spacingAndGlyphs">60</text>
<line x1="210.8" y1="587.64" x2="213.9" y2="587.64" stroke="#2a2a2a" stroke-width="0.9"/>
<text x="207.9" y="589.94" font-size="6.4" text-anchor="end" fill="#1e1e1e" stroke="#1e1e1e" stroke-width="0.15" textLength="6.9" lengthAdjust="spacingAndGlyphs">80</text>
<line x1="210.8" y1="575.9" x2="213.9" y2="575.9" stroke="#2a2a2a" stroke-width="0.9"/>
<text x="207.9" y="578.2" font-size="6.4" text-anchor="end" fill="#1e1e1e" stroke="#1e1e1e" stroke-width="0.15" textLength="10.35" lengthAdjust="spacingAndGlyphs">100</text>
<line x1="220.3" y1="634.6" x2="220.3" y2="636.9" stroke="#1a1a1a" stroke-width="0.9"/>
<text x="220.3" y="646.9" font-size="6.4" text-anchor="middle" fill="#1e1e1e" stroke="#1e1e1e" stroke-width="0.15">4</text>
<line x1="247.3" y1="634.6" x2="247.3" y2="636.9" stroke="#1a1a1a" stroke-width="0.9"/>
<text x="247.3" y="646.9" font-size="6.4" text-anchor="middle" fill="#1e1e1e" stroke="#1e1e1e" stroke-width="0.15">8</text>
<line x1="273.9" y1="634.6" x2="273.9" y2="636.9" stroke="#1a1a1a" stroke-width="0.9"/>
<text x="273.9" y="646.9" font-size="6.4" text-anchor="middle" fill="#1e1e1e" stroke="#1e1e1e" stroke-width="0.15" textLength="6.9" lengthAdjust="spacingAndGlyphs">12</text>
<line x1="300.5" y1="634.6" x2="300.5" y2="636.9" stroke="#1a1a1a" stroke-width="0.9"/>
<text x="300.5" y="646.9" font-size="6.4" text-anchor="middle" fill="#1e1e1e" stroke="#1e1e1e" stroke-width="0.15" textLength="6.9" lengthAdjust="spacingAndGlyphs">16</text>
<line x1="300.5" y1="578.25" x2="300.5" y2="586.47" stroke="#151515" stroke-width="0.8"/>
<line x1="298.9" y1="586.47" x2="302.1" y2="586.47" stroke="#151515" stroke-width="0.8"/>
<polyline points="220.30,577.37 247.30,577.48 273.90,577.66 300.50,578.25" fill="none" stroke="#151515" stroke-width="1.2" stroke-linejoin="round"/>
<circle cx="220.30" cy="577.37" r="1.2" fill="#151515"/>
<circle cx="247.30" cy="577.48" r="1.2" fill="#151515"/>
<circle cx="273.90" cy="577.66" r="1.2" fill="#151515"/>
<circle cx="300.50" cy="578.25" r="1.2" fill="#151515"/>
<line x1="220.3" y1="577.95" x2="220.3" y2="578.54" stroke="#d63c2a" stroke-width="0.8"/>
<line x1="218.7" y1="578.54" x2="221.9" y2="578.54" stroke="#d63c2a" stroke-width="0.8"/>
<line x1="247.3" y1="580.13" x2="247.3" y2="592.16" stroke="#d63c2a" stroke-width="0.8"/>
<line x1="245.7" y1="592.16" x2="248.9" y2="592.16" stroke="#d63c2a" stroke-width="0.8"/>
<line x1="273.9" y1="580.24" x2="273.9" y2="591.98" stroke="#d63c2a" stroke-width="0.8"/>
<line x1="272.3" y1="591.98" x2="275.5" y2="591.98" stroke="#d63c2a" stroke-width="0.8"/>
<line x1="300.5" y1="580.24" x2="300.5" y2="592.57" stroke="#d63c2a" stroke-width="0.8"/>
<line x1="298.9" y1="592.57" x2="302.1" y2="592.57" stroke="#d63c2a" stroke-width="0.8"/>
<polyline points="220.30,577.95 247.30,580.13 273.90,580.24 300.50,580.24" fill="none" stroke="#d63c2a" stroke-width="1.2" stroke-linejoin="round"/>
<circle cx="220.30" cy="577.95" r="1.2" fill="#d63c2a"/>
<circle cx="247.30" cy="580.13" r="1.2" fill="#d63c2a"/>
<circle cx="273.90" cy="580.24" r="1.2" fill="#d63c2a"/>
<circle cx="300.50" cy="580.24" r="1.2" fill="#d63c2a"/>
<polyline points="220.30,577.07 247.30,577.07 273.90,577.07 300.50,577.07" fill="none" stroke="#2b2a8e" stroke-width="1.2" stroke-linejoin="round"/>
<circle cx="220.30" cy="577.07" r="1.2" fill="#2b2a8e"/>
<circle cx="247.30" cy="577.07" r="1.2" fill="#2b2a8e"/>
<circle cx="273.90" cy="577.07" r="1.2" fill="#2b2a8e"/>
<circle cx="300.50" cy="577.07" r="1.2" fill="#2b2a8e"/>
<line x1="307.8" y1="602.8" x2="315.4" y2="602.8" stroke="#2b2a8e" stroke-width="1.1"/>
<circle cx="311.60" cy="602.80" r="0.9" fill="#2b2a8e"/>
<text x="318.8" y="605" font-size="6.6" fill="#2e2e2e" stroke="#2e2e2e" stroke-width="0.15" font-style="italic" textLength="18.2" lengthAdjust="spacingAndGlyphs">Gdf11</text>
<text x="337.3" y="601.5" font-size="4.4" fill="#2e2e2e" stroke="#2e2e2e" stroke-width="0.15" font-style="italic" textLength="6.3" lengthAdjust="spacingAndGlyphs">+/+</text>
<line x1="307.8" y1="613.2" x2="315.4" y2="613.2" stroke="#d63c2a" stroke-width="1.1"/>
<circle cx="311.60" cy="613.20" r="0.9" fill="#d63c2a"/>
<text x="318.8" y="615.4" font-size="6.6" fill="#2e2e2e" stroke="#2e2e2e" stroke-width="0.15" font-style="italic" textLength="18.2" lengthAdjust="spacingAndGlyphs">Gdf11</text>
<text x="337.3" y="611.9" font-size="4.4" fill="#2e2e2e" stroke="#2e2e2e" stroke-width="0.15" font-style="italic" textLength="5.5" lengthAdjust="spacingAndGlyphs">+/-</text>
<line x1="307.8" y1="623" x2="315.4" y2="623" stroke="#151515" stroke-width="1.1"/>
<circle cx="311.60" cy="623.00" r="0.9" fill="#151515"/>
<text x="318.8" y="625.2" font-size="6.6" fill="#2e2e2e" stroke="#2e2e2e" stroke-width="0.15" font-style="italic" textLength="18.2" lengthAdjust="spacingAndGlyphs">Gdf11</text>
<text x="337.3" y="621.7" font-size="4.4" fill="#2e2e2e" stroke="#2e2e2e" stroke-width="0.15" font-style="italic" textLength="5.5" lengthAdjust="spacingAndGlyphs">-/-</text>
<text x="234.1" y="567.4" font-size="9" fill="#1a1a1a" stroke="#1a1a1a" stroke-width="0.15" textLength="46.7" lengthAdjust="spacingAndGlyphs">Neutrophils</text>
<text x="191.1" y="633.5" font-size="8.6" fill="#1e1e1e" stroke="#1e1e1e" stroke-width="0.15" textLength="59" lengthAdjust="spacingAndGlyphs" transform="rotate(-90 191.1 633.5)">% donor chimerism</text>
<text x="258.6" y="658.5" font-size="8.4" text-anchor="middle" fill="#1e1e1e" stroke="#1e1e1e" stroke-width="0.15" textLength="67.5" lengthAdjust="spacingAndGlyphs">Weeks post transplant</text>
<line x1="383.3" y1="460.8" x2="383.3" y2="521.9" stroke="#2a2a2a" stroke-width="1.3"/>
<line x1="382.7" y1="521.3" x2="470.8" y2="521.3" stroke="#1a1a1a" stroke-width="1.3"/>
<line x1="380.2" y1="521.3" x2="383.3" y2="521.3" stroke="#2a2a2a" stroke-width="0.9"/>
<text x="377.3" y="523.6" font-size="6.4" text-anchor="end" fill="#1e1e1e" stroke="#1e1e1e" stroke-width="0.15">0</text>
<line x1="380.2" y1="501.87" x2="383.3" y2="501.87" stroke="#2a2a2a" stroke-width="0.9"/>
<text x="377.3" y="504.17" font-size="6.4" text-anchor="end" fill="#1e1e1e" stroke="#1e1e1e" stroke-width="0.15" textLength="6.9" lengthAdjust="spacingAndGlyphs">50</text>
<line x1="380.2" y1="482.43" x2="383.3" y2="482.43" stroke="#2a2a2a" stroke-width="0.9"/>
<text x="377.3" y="484.73" font-size="6.4" text-anchor="end" fill="#1e1e1e" stroke="#1e1e1e" stroke-width="0.15" textLength="10.35" lengthAdjust="spacingAndGlyphs">100</text>
<line x1="380.2" y1="463" x2="383.3" y2="463" stroke="#2a2a2a" stroke-width="0.9"/>
<text x="377.3" y="465.3" font-size="6.4" text-anchor="end" fill="#1e1e1e" stroke="#1e1e1e" stroke-width="0.15" textLength="10.35" lengthAdjust="spacingAndGlyphs">150</text>
<path d="M389.9,484.2h2.2l-1.1,-1.9z" fill="#2b2a8e"/>
<circle cx="399.5" cy="484.5" r="1.05" fill="#2b2a8e"/>
<circle cx="391.4" cy="484.5" r="1.05" fill="#2b2a8e"/>
<path d="M388.9,485.1h2.2l-1.1,-1.9z" fill="#2b2a8e"/>
<circle cx="405.8" cy="485.3" r="1.05" fill="#2b2a8e"/>
<circle cx="395.3" cy="484.2" r="1.05" fill="#2b2a8e"/>
<path d="M399.5,485.2h2.2l-1.1,-1.9z" fill="#2b2a8e"/>
<circle cx="391.2" cy="483.9" r="1.05" fill="#2b2a8e"/>
<circle cx="400.8" cy="484.3" r="1.05" fill="#2b2a8e"/>
<path d="M402.3,484.7h2.2l-1.1,-1.9z" fill="#2b2a8e"/>
<circle cx="406.4" cy="485.1" r="1.05" fill="#2b2a8e"/>
<circle cx="398.7" cy="484.6" r="1.05" fill="#2b2a8e"/>
<path d="M394.0,485.6h2.2l-1.1,-1.9z" fill="#2b2a8e"/>
<circle cx="392.9" cy="484.9" r="1.05" fill="#2b2a8e"/>
<circle cx="404.3" cy="484.2" r="1.05" fill="#2b2a8e"/>
<path d="M396.0,485.2h2.2l-1.1,-1.9z" fill="#2b2a8e"/>
<circle cx="390.2" cy="483.9" r="1.05" fill="#2b2a8e"/>
<circle cx="396.4" cy="484.4" r="1.05" fill="#2b2a8e"/>
<path d="M399.7,484.4h2.2l-1.1,-1.9z" fill="#2b2a8e"/>
<circle cx="404.9" cy="484.7" r="1.05" fill="#2b2a8e"/>
<circle cx="389.3" cy="484.0" r="1.05" fill="#2b2a8e"/>
<path d="M393.8,485.9h2.2l-1.1,-1.9z" fill="#2b2a8e"/>
<circle cx="405.0" cy="484.7" r="1.05" fill="#2b2a8e"/>
<circle cx="394.8" cy="484.1" r="1.05" fill="#2b2a8e"/>
<path d="M390.5,485.5h2.2l-1.1,-1.9z" fill="#2b2a8e"/>
<circle cx="397.0" cy="483.7" r="1.05" fill="#2b2a8e"/>
<circle cx="389.7" cy="483.9" r="1.05" fill="#2b2a8e"/>
<path d="M402.8,485.9h2.2l-1.1,-1.9z" fill="#2b2a8e"/>
<circle cx="394.3" cy="483.8" r="1.05" fill="#2b2a8e"/>
<circle cx="390.3" cy="484.0" r="1.05" fill="#2b2a8e"/>
<path d="M388.0,484.6h2.2l-1.1,-1.9z" fill="#2b2a8e"/>
<circle cx="397.1" cy="484.2" r="1.05" fill="#2b2a8e"/>
<circle cx="402.0" cy="483.5" r="1.05" fill="#2b2a8e"/>
<path d="M388.7,484.7h2.2l-1.1,-1.9z" fill="#2b2a8e"/>
<circle cx="394.7" cy="487.9" r="1.1" fill="#2b2a8e"/>
<circle cx="399.7" cy="488.3" r="1.1" fill="#2b2a8e"/>
<circle cx="402.7" cy="487.5" r="1.1" fill="#2b2a8e"/>
<circle cx="391.7" cy="487.1" r="1.1" fill="#2b2a8e"/>
<circle cx="397.7" cy="494.1" r="1.1" fill="#2b2a8e"/>
<line x1="388.1" y1="484.96" x2="407.3" y2="484.96" stroke="#111" stroke-width="1"/>
<line x1="397.7" y1="483.21" x2="397.7" y2="486.71" stroke="#111" stroke-width="1"/>
<line x1="392.9" y1="483.21" x2="402.5" y2="483.21" stroke="#111" stroke-width="1.1"/>
<line x1="392.9" y1="486.71" x2="402.5" y2="486.71" stroke="#111" stroke-width="1.1"/>
<path d="M432.6,484.8h2.2l-1.1,-1.9z" fill="#d63c2a"/>
<circle cx="432.1" cy="483.5" r="1.05" fill="#d63c2a"/>
<circle cx="419.3" cy="484.3" r="1.05" fill="#d63c2a"/>
<path d="M421.8,484.3h2.2l-1.1,-1.9z" fill="#d63c2a"/>
<circle cx="426.5" cy="485.2" r="1.05" fill="#d63c2a"/>
<circle cx="421.5" cy="483.9" r="1.05" fill="#d63c2a"/>
<path d="M421.1,485.7h2.2l-1.1,-1.9z" fill="#d63c2a"/>
<circle cx="434.5" cy="485.0" r="1.05" fill="#d63c2a"/>
<circle cx="425.4" cy="483.4" r="1.05" fill="#d63c2a"/>
<path d="M429.9,485.3h2.2l-1.1,-1.9z" fill="#d63c2a"/>
<circle cx="418.8" cy="484.0" r="1.05" fill="#d63c2a"/>
<circle cx="422.0" cy="482.9" r="1.05" fill="#d63c2a"/>
<path d="M429.9,485.4h2.2l-1.1,-1.9z" fill="#d63c2a"/>
<circle cx="429.5" cy="483.2" r="1.05" fill="#d63c2a"/>
<circle cx="431.7" cy="484.6" r="1.05" fill="#d63c2a"/>
<path d="M419.2,485.1h2.2l-1.1,-1.9z" fill="#d63c2a"/>
<circle cx="420.2" cy="484.6" r="1.05" fill="#d63c2a"/>
<circle cx="431.8" cy="484.0" r="1.05" fill="#d63c2a"/>
<path d="M430.2,485.2h2.2l-1.1,-1.9z" fill="#d63c2a"/>
<circle cx="424.1" cy="484.5" r="1.05" fill="#d63c2a"/>
<circle cx="435.6" cy="484.3" r="1.05" fill="#d63c2a"/>
<path d="M420.9,484.3h2.2l-1.1,-1.9z" fill="#d63c2a"/>
<circle cx="418.7" cy="482.9" r="1.05" fill="#d63c2a"/>
<circle cx="429.1" cy="484.5" r="1.05" fill="#d63c2a"/>
<path d="M425.5,484.3h2.2l-1.1,-1.9z" fill="#d63c2a"/>
<circle cx="428.6" cy="484.7" r="1.05" fill="#d63c2a"/>
<circle cx="418.3" cy="483.8" r="1.05" fill="#d63c2a"/>
<path d="M426.5,485.3h2.2l-1.1,-1.9z" fill="#d63c2a"/>
<circle cx="423.4" cy="484.1" r="1.05" fill="#d63c2a"/>
<circle cx="423.9" cy="484.2" r="1.05" fill="#d63c2a"/>
<path d="M422.2,485.3h2.2l-1.1,-1.9z" fill="#d63c2a"/>
<circle cx="434.0" cy="485.5" r="1.05" fill="#d63c2a"/>
<circle cx="419.2" cy="483.7" r="1.05" fill="#d63c2a"/>
<path d="M433.8,484.7h2.2l-1.1,-1.9z" fill="#d63c2a"/>
<circle cx="426.6" cy="486.7" r="1.1" fill="#d63c2a"/>
<circle cx="426.6" cy="514.7" r="1.1" fill="#d63c2a"/>
<line x1="417" y1="485.15" x2="436.2" y2="485.15" stroke="#111" stroke-width="1"/>
<line x1="426.6" y1="479.52" x2="426.6" y2="492.81" stroke="#111" stroke-width="1"/>
<line x1="421.8" y1="479.52" x2="431.4" y2="479.52" stroke="#111" stroke-width="1.1"/>
<line x1="421.8" y1="492.81" x2="431.4" y2="492.81" stroke="#111" stroke-width="1.1"/>
<path d="M458.5,484.6h2.2l-1.1,-1.9z" fill="#151515"/>
<circle cx="461.5" cy="483.9" r="1.05" fill="#151515"/>
<circle cx="449.6" cy="485.0" r="1.05" fill="#151515"/>
<path d="M446.8,485.8h2.2l-1.1,-1.9z" fill="#151515"/>
<circle cx="459.9" cy="484.9" r="1.05" fill="#151515"/>
<circle cx="460.7" cy="484.4" r="1.05" fill="#151515"/>
<path d="M460.1,486.7h2.2l-1.1,-1.9z" fill="#151515"/>
<circle cx="449.5" cy="484.4" r="1.05" fill="#151515"/>
<circle cx="456.0" cy="484.2" r="1.05" fill="#151515"/>
<path d="M456.8,485.9h2.2l-1.1,-1.9z" fill="#151515"/>
<circle cx="451.3" cy="484.1" r="1.05" fill="#151515"/>
<circle cx="453.4" cy="483.2" r="1.05" fill="#151515"/>
<path d="M451.1,485.2h2.2l-1.1,-1.9z" fill="#151515"/>
<circle cx="454.5" cy="484.2" r="1.05" fill="#151515"/>
<circle cx="459.1" cy="484.4" r="1.05" fill="#151515"/>
<path d="M450.5,486.4h2.2l-1.1,-1.9z" fill="#151515"/>
<circle cx="448.7" cy="483.9" r="1.05" fill="#151515"/>
<circle cx="456.9" cy="484.5" r="1.05" fill="#151515"/>
<path d="M448.7,485.1h2.2l-1.1,-1.9z" fill="#151515"/>
<circle cx="461.1" cy="484.4" r="1.05" fill="#151515"/>
<circle cx="463.2" cy="484.5" r="1.05" fill="#151515"/>
<path d="M451.3,485.6h2.2l-1.1,-1.9z" fill="#151515"/>
<circle cx="453.1" cy="484.3" r="1.05" fill="#151515"/>
<circle cx="462.8" cy="484.2" r="1.05" fill="#151515"/>
<path d="M459.3,484.9h2.2l-1.1,-1.9z" fill="#151515"/>
<circle cx="461.1" cy="485.0" r="1.05" fill="#151515"/>
<circle cx="457.2" cy="484.9" r="1.05" fill="#151515"/>
<path d="M455.9,485.8h2.2l-1.1,-1.9z" fill="#151515"/>
<circle cx="459.7" cy="485.1" r="1.05" fill="#151515"/>
<circle cx="455.9" cy="484.5" r="1.05" fill="#151515"/>
<path d="M447.8,485.5h2.2l-1.1,-1.9z" fill="#151515"/>
<circle cx="453.7" cy="483.5" r="1.05" fill="#151515"/>
<circle cx="458.1" cy="484.3" r="1.05" fill="#151515"/>
<path d="M453.6,486.4h2.2l-1.1,-1.9z" fill="#151515"/>
<circle cx="452.0" cy="490.2" r="1.1" fill="#151515"/>
<circle cx="459.0" cy="491.0" r="1.1" fill="#151515"/>
<circle cx="462.0" cy="488.7" r="1.1" fill="#151515"/>
<circle cx="455.0" cy="492.1" r="1.1" fill="#151515"/>
<circle cx="456.0" cy="515.9" r="1.1" fill="#151515"/>
<line x1="446.4" y1="486.32" x2="465.6" y2="486.32" stroke="#111" stroke-width="1"/>
<line x1="456" y1="479.52" x2="456" y2="494.09" stroke="#111" stroke-width="1"/>
<line x1="451.2" y1="479.52" x2="460.8" y2="479.52" stroke="#111" stroke-width="1.1"/>
<line x1="451.2" y1="494.09" x2="460.8" y2="494.09" stroke="#111" stroke-width="1.1"/>
<text x="408.3" y="454.5" font-size="9" fill="#1a1a1a" stroke="#1a1a1a" stroke-width="0.15" textLength="36.7" lengthAdjust="spacingAndGlyphs">LSK Cells</text>
<text x="477.1" y="488.7" font-size="6.3" fill="#4642a0" stroke="#4642a0" stroke-width="0.15" font-style="italic" textLength="17.9" lengthAdjust="spacingAndGlyphs">Gdf11</text>
<text x="495.3" y="485.3" font-size="4.3" fill="#4642a0" stroke="#4642a0" stroke-width="0.15" font-style="italic" textLength="6.3" lengthAdjust="spacingAndGlyphs">+/+</text>
<text x="477.1" y="499.4" font-size="6.3" fill="#d65243" stroke="#d65243" stroke-width="0.15" font-style="italic" textLength="17.9" lengthAdjust="spacingAndGlyphs">Gdf11</text>
<text x="495.3" y="496" font-size="4.3" fill="#d65243" stroke="#d65243" stroke-width="0.15" font-style="italic" textLength="5.5" lengthAdjust="spacingAndGlyphs">+/-</text>
<text x="477.1" y="509.5" font-size="6.3" fill="#2a2a2a" stroke="#2a2a2a" stroke-width="0.15" font-style="italic" textLength="17.9" lengthAdjust="spacingAndGlyphs">Gdf11</text>
<text x="495.3" y="506.1" font-size="4.3" fill="#2a2a2a" stroke="#2a2a2a" stroke-width="0.15" font-style="italic" textLength="5" lengthAdjust="spacingAndGlyphs">-/-</text>
<text x="360.8" y="520.8" font-size="8.6" fill="#1e1e1e" stroke="#1e1e1e" stroke-width="0.15" textLength="59" lengthAdjust="spacingAndGlyphs" transform="rotate(-90 360.8 520.8)">% donor chimerism</text>
<line x1="383.3" y1="573.7" x2="383.3" y2="635.2" stroke="#2a2a2a" stroke-width="1.3"/>
<line x1="382.7" y1="634.6" x2="470.8" y2="634.6" stroke="#1a1a1a" stroke-width="1.3"/>
<line x1="380.2" y1="634.6" x2="383.3" y2="634.6" stroke="#2a2a2a" stroke-width="0.9"/>
<text x="377.3" y="636.9" font-size="6.4" text-anchor="end" fill="#1e1e1e" stroke="#1e1e1e" stroke-width="0.15">0</text>
<line x1="380.2" y1="615.03" x2="383.3" y2="615.03" stroke="#2a2a2a" stroke-width="0.9"/>
<text x="377.3" y="617.33" font-size="6.4" text-anchor="end" fill="#1e1e1e" stroke="#1e1e1e" stroke-width="0.15" textLength="6.9" lengthAdjust="spacingAndGlyphs">50</text>
<line x1="380.2" y1="595.47" x2="383.3" y2="595.47" stroke="#2a2a2a" stroke-width="0.9"/>
<text x="377.3" y="597.77" font-size="6.4" text-anchor="end" fill="#1e1e1e" stroke="#1e1e1e" stroke-width="0.15" textLength="10.35" lengthAdjust="spacingAndGlyphs">100</text>
<line x1="380.2" y1="575.9" x2="383.3" y2="575.9" stroke="#2a2a2a" stroke-width="0.9"/>
<text x="377.3" y="578.2" font-size="6.4" text-anchor="end" fill="#1e1e1e" stroke="#1e1e1e" stroke-width="0.15" textLength="10.35" lengthAdjust="spacingAndGlyphs">150</text>
<path d="M392.7,597.7h2.2l-1.1,-1.9z" fill="#2b2a8e"/>
<circle cx="392.7" cy="596.8" r="1.05" fill="#2b2a8e"/>
<circle cx="395.6" cy="598.5" r="1.05" fill="#2b2a8e"/>
<path d="M400.3,599.4h2.2l-1.1,-1.9z" fill="#2b2a8e"/>
<circle cx="405.4" cy="596.3" r="1.05" fill="#2b2a8e"/>
<circle cx="389.4" cy="596.3" r="1.05" fill="#2b2a8e"/>
<path d="M390.1,597.8h2.2l-1.1,-1.9z" fill="#2b2a8e"/>
<circle cx="396.8" cy="596.8" r="1.05" fill="#2b2a8e"/>
<circle cx="397.7" cy="597.5" r="1.05" fill="#2b2a8e"/>
<path d="M392.9,598.0h2.2l-1.1,-1.9z" fill="#2b2a8e"/>
<circle cx="401.4" cy="597.9" r="1.05" fill="#2b2a8e"/>
<circle cx="405.9" cy="597.0" r="1.05" fill="#2b2a8e"/>
<path d="M389.4,598.1h2.2l-1.1,-1.9z" fill="#2b2a8e"/>
<circle cx="401.0" cy="598.2" r="1.05" fill="#2b2a8e"/>
<circle cx="396.6" cy="598.9" r="1.05" fill="#2b2a8e"/>
<path d="M402.5,598.6h2.2l-1.1,-1.9z" fill="#2b2a8e"/>
<circle cx="403.3" cy="598.2" r="1.05" fill="#2b2a8e"/>
<circle cx="391.7" cy="597.2" r="1.05" fill="#2b2a8e"/>
<path d="M388.6,597.9h2.2l-1.1,-1.9z" fill="#2b2a8e"/>
<circle cx="391.7" cy="595.9" r="1.05" fill="#2b2a8e"/>
<circle cx="396.8" cy="598.3" r="1.05" fill="#2b2a8e"/>
<path d="M391.3,598.2h2.2l-1.1,-1.9z" fill="#2b2a8e"/>
<circle cx="405.8" cy="596.5" r="1.05" fill="#2b2a8e"/>
<circle cx="400.1" cy="599.1" r="1.05" fill="#2b2a8e"/>
<path d="M397.8,598.6h2.2l-1.1,-1.9z" fill="#2b2a8e"/>
<circle cx="405.6" cy="596.7" r="1.05" fill="#2b2a8e"/>
<circle cx="393.3" cy="597.7" r="1.05" fill="#2b2a8e"/>
<path d="M405.2,596.7h2.2l-1.1,-1.9z" fill="#2b2a8e"/>
<circle cx="403.7" cy="596.5" r="1.05" fill="#2b2a8e"/>
<circle cx="406.4" cy="595.4" r="1.05" fill="#2b2a8e"/>
<path d="M404.4,597.9h2.2l-1.1,-1.9z" fill="#2b2a8e"/>
<circle cx="397.4" cy="598.6" r="1.05" fill="#2b2a8e"/>
<circle cx="400.4" cy="598.4" r="1.05" fill="#2b2a8e"/>
<path d="M393.4,598.2h2.2l-1.1,-1.9z" fill="#2b2a8e"/>
<circle cx="398.3" cy="600.6" r="1.1" fill="#2b2a8e"/>
<circle cx="398.3" cy="607.2" r="1.1" fill="#2b2a8e"/>
<circle cx="401.3" cy="601.3" r="1.1" fill="#2b2a8e"/>
<circle cx="398.3" cy="626.4" r="1.1" fill="#2b2a8e"/>
<line x1="388.7" y1="598.99" x2="407.9" y2="598.99" stroke="#111" stroke-width="1"/>
<line x1="398.3" y1="591.94" x2="398.3" y2="606.23" stroke="#111" stroke-width="1"/>
<line x1="393.5" y1="591.94" x2="403.1" y2="591.94" stroke="#111" stroke-width="1.1"/>
<line x1="393.5" y1="606.23" x2="403.1" y2="606.23" stroke="#111" stroke-width="1.1"/>
<path d="M431.9,599.1h2.2l-1.1,-1.9z" fill="#d63c2a"/>
<circle cx="425.6" cy="597.1" r="1.05" fill="#d63c2a"/>
<circle cx="434.1" cy="596.6" r="1.05" fill="#d63c2a"/>
<path d="M421.5,597.8h2.2l-1.1,-1.9z" fill="#d63c2a"/>
<circle cx="430.8" cy="597.7" r="1.05" fill="#d63c2a"/>
<circle cx="422.1" cy="596.9" r="1.05" fill="#d63c2a"/>
<path d="M418.6,597.5h2.2l-1.1,-1.9z" fill="#d63c2a"/>
<circle cx="423.9" cy="596.5" r="1.05" fill="#d63c2a"/>
<circle cx="419.8" cy="598.1" r="1.05" fill="#d63c2a"/>
<path d="M429.7,597.6h2.2l-1.1,-1.9z" fill="#d63c2a"/>
<circle cx="429.2" cy="598.0" r="1.05" fill="#d63c2a"/>
<circle cx="421.8" cy="597.3" r="1.05" fill="#d63c2a"/>
<path d="M419.8,597.8h2.2l-1.1,-1.9z" fill="#d63c2a"/>
<circle cx="420.5" cy="597.9" r="1.05" fill="#d63c2a"/>
<circle cx="430.8" cy="597.0" r="1.05" fill="#d63c2a"/>
<path d="M425.5,598.1h2.2l-1.1,-1.9z" fill="#d63c2a"/>
<circle cx="433.8" cy="597.4" r="1.05" fill="#d63c2a"/>
<circle cx="432.3" cy="597.5" r="1.05" fill="#d63c2a"/>
<path d="M419.9,598.0h2.2l-1.1,-1.9z" fill="#d63c2a"/>
<circle cx="418.4" cy="596.4" r="1.05" fill="#d63c2a"/>
<circle cx="431.8" cy="597.2" r="1.05" fill="#d63c2a"/>
<path d="M418.2,596.6h2.2l-1.1,-1.9z" fill="#d63c2a"/>
<circle cx="432.3" cy="596.7" r="1.05" fill="#d63c2a"/>
<circle cx="427.3" cy="596.2" r="1.05" fill="#d63c2a"/>
<path d="M429.7,597.1h2.2l-1.1,-1.9z" fill="#d63c2a"/>
<circle cx="431.8" cy="597.7" r="1.05" fill="#d63c2a"/>
<circle cx="418.9" cy="596.6" r="1.05" fill="#d63c2a"/>
<path d="M418.8,598.9h2.2l-1.1,-1.9z" fill="#d63c2a"/>
<circle cx="419.3" cy="597.1" r="1.05" fill="#d63c2a"/>
<circle cx="420.5" cy="597.4" r="1.05" fill="#d63c2a"/>
<path d="M429.7,598.3h2.2l-1.1,-1.9z" fill="#d63c2a"/>
<circle cx="418.4" cy="598.1" r="1.05" fill="#d63c2a"/>
<circle cx="427.0" cy="596.0" r="1.05" fill="#d63c2a"/>
<path d="M426.3,598.3h2.2l-1.1,-1.9z" fill="#d63c2a"/>
<circle cx="427.3" cy="600.2" r="1.1" fill="#d63c2a"/>
<circle cx="427.3" cy="634.0" r="1.1" fill="#d63c2a"/>
<line x1="417.7" y1="598.21" x2="436.9" y2="598.21" stroke="#111" stroke-width="1"/>
<line x1="427.3" y1="590.38" x2="427.3" y2="606.5" stroke="#111" stroke-width="1"/>
<line x1="422.5" y1="590.38" x2="432.1" y2="590.38" stroke="#111" stroke-width="1.1"/>
<line x1="422.5" y1="606.5" x2="432.1" y2="606.5" stroke="#111" stroke-width="1.1"/>
<path d="M447.2,598.0h2.2l-1.1,-1.9z" fill="#151515"/>
<circle cx="451.0" cy="597.3" r="1.05" fill="#151515"/>
<circle cx="454.4" cy="597.2" r="1.05" fill="#151515"/>
<path d="M450.9,598.7h2.2l-1.1,-1.9z" fill="#151515"/>
<circle cx="455.4" cy="598.7" r="1.05" fill="#151515"/>
<circle cx="448.8" cy="597.6" r="1.05" fill="#151515"/>
<path d="M461.8,599.1h2.2l-1.1,-1.9z" fill="#151515"/>
<circle cx="460.9" cy="596.8" r="1.05" fill="#151515"/>
<circle cx="454.3" cy="597.3" r="1.05" fill="#151515"/>
<path d="M451.5,598.1h2.2l-1.1,-1.9z" fill="#151515"/>
<circle cx="457.2" cy="597.6" r="1.05" fill="#151515"/>
<circle cx="448.8" cy="598.1" r="1.05" fill="#151515"/>
<path d="M445.9,598.6h2.2l-1.1,-1.9z" fill="#151515"/>
<circle cx="457.4" cy="598.1" r="1.05" fill="#151515"/>
<circle cx="454.5" cy="597.2" r="1.05" fill="#151515"/>
<path d="M453.1,599.2h2.2l-1.1,-1.9z" fill="#151515"/>
<circle cx="447.7" cy="597.2" r="1.05" fill="#151515"/>
<circle cx="459.4" cy="597.0" r="1.05" fill="#151515"/>
<path d="M451.2,597.6h2.2l-1.1,-1.9z" fill="#151515"/>
<circle cx="457.2" cy="597.9" r="1.05" fill="#151515"/>
<circle cx="449.3" cy="597.9" r="1.05" fill="#151515"/>
<path d="M450.3,599.4h2.2l-1.1,-1.9z" fill="#151515"/>
<circle cx="458.0" cy="598.1" r="1.05" fill="#151515"/>
<circle cx="455.8" cy="597.8" r="1.05" fill="#151515"/>
<path d="M463.6,598.4h2.2l-1.1,-1.9z" fill="#151515"/>
<circle cx="448.0" cy="597.6" r="1.05" fill="#151515"/>
<circle cx="447.1" cy="596.6" r="1.05" fill="#151515"/>
<path d="M456.7,598.4h2.2l-1.1,-1.9z" fill="#151515"/>
<circle cx="462.1" cy="596.8" r="1.05" fill="#151515"/>
<circle cx="449.2" cy="597.0" r="1.05" fill="#151515"/>
<path d="M457.8,598.2h2.2l-1.1,-1.9z" fill="#151515"/>
<circle cx="460.8" cy="597.8" r="1.05" fill="#151515"/>
<circle cx="450.6" cy="597.5" r="1.05" fill="#151515"/>
<path d="M462.8,599.4h2.2l-1.1,-1.9z" fill="#151515"/>
<circle cx="453.0" cy="604.1" r="1.1" fill="#151515"/>
<circle cx="456.0" cy="605.6" r="1.1" fill="#151515"/>
<circle cx="458.0" cy="607.6" r="1.1" fill="#151515"/>
<circle cx="460.0" cy="603.3" r="1.1" fill="#151515"/>
<circle cx="456.0" cy="634.5" r="1.1" fill="#151515"/>
<line x1="446.4" y1="599.97" x2="465.6" y2="599.97" stroke="#111" stroke-width="1"/>
<line x1="456" y1="591.16" x2="456" y2="609.16" stroke="#111" stroke-width="1"/>
<line x1="451.2" y1="591.16" x2="460.8" y2="591.16" stroke="#111" stroke-width="1.1"/>
<line x1="451.2" y1="609.16" x2="460.8" y2="609.16" stroke="#111" stroke-width="1.1"/>
<text x="416.1" y="567.4" font-size="9" fill="#1a1a1a" stroke="#1a1a1a" stroke-width="0.15" textLength="21.6" lengthAdjust="spacingAndGlyphs">HSCs</text>
<text x="477.1" y="604.6" font-size="6.3" fill="#4642a0" stroke="#4642a0" stroke-width="0.15" font-style="italic" textLength="17.9" lengthAdjust="spacingAndGlyphs">Gdf11</text>
<text x="495.3" y="601.2" font-size="4.3" fill="#4642a0" stroke="#4642a0" stroke-width="0.15" font-style="italic" textLength="6.3" lengthAdjust="spacingAndGlyphs">+/+</text>
<text x="477.1" y="615.2" font-size="6.3" fill="#d65243" stroke="#d65243" stroke-width="0.15" font-style="italic" textLength="17.9" lengthAdjust="spacingAndGlyphs">Gdf11</text>
<text x="495.3" y="611.8" font-size="4.3" fill="#d65243" stroke="#d65243" stroke-width="0.15" font-style="italic" textLength="5.5" lengthAdjust="spacingAndGlyphs">+/-</text>
<text x="477.1" y="624.8" font-size="6.3" fill="#2a2a2a" stroke="#2a2a2a" stroke-width="0.15" font-style="italic" textLength="17.9" lengthAdjust="spacingAndGlyphs">Gdf11</text>
<text x="495.3" y="621.4" font-size="4.3" fill="#2a2a2a" stroke="#2a2a2a" stroke-width="0.15" font-style="italic" textLength="5" lengthAdjust="spacingAndGlyphs">-/-</text>
<text x="360.8" y="633.8" font-size="8.6" fill="#1e1e1e" stroke="#1e1e1e" stroke-width="0.15" textLength="59" lengthAdjust="spacingAndGlyphs" transform="rotate(-90 360.8 633.8)">% donor chimerism</text>
<rect x="0" y="0" width="520" height="1" fill="#000"/>
<rect x="0" y="0" width="1" height="668" fill="#000"/>
<rect x="518.8" y="0" width="1.2" height="668" fill="#000"/>
<rect x="0" y="666.7" width="520" height="1.3" fill="#000"/>
</svg></body></html>
